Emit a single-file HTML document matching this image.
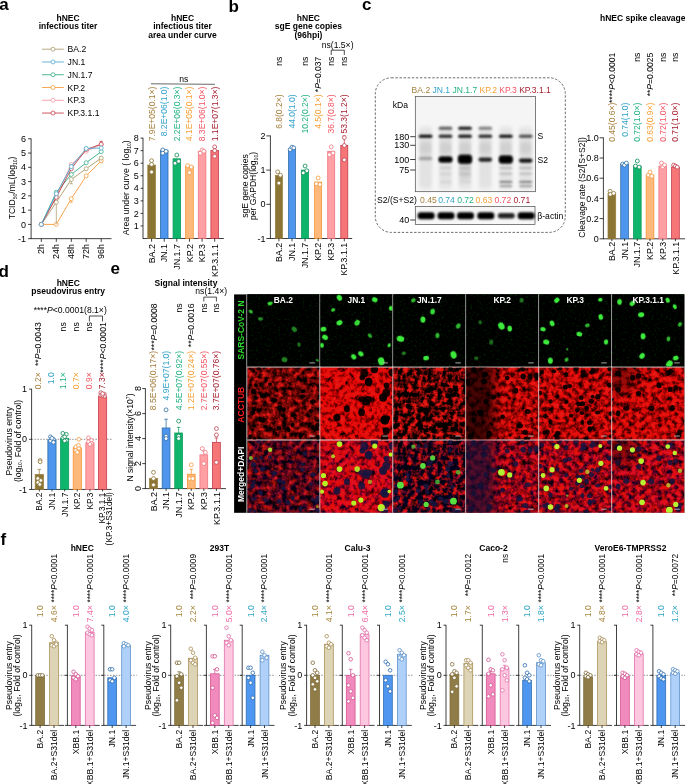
<!DOCTYPE html>
<html><head><meta charset="utf-8"><style>
html,body{margin:0;padding:0;background:#fff;overflow:hidden;}
svg text{font-family:"Liberation Sans", sans-serif;}
</style></head><body>
<svg width="685" height="784" viewBox="0 0 685 784" style="display:block;will-change:transform">
<text transform="translate(-0.80 9.70) scale(1 1.0)" font-size="17" fill="#000" text-anchor="start" font-weight="bold">a</text>
<text transform="translate(228.60 12.20) scale(1 1.0)" font-size="17" fill="#000" text-anchor="start" font-weight="bold">b</text>
<text transform="translate(362.00 10.00) scale(1 1.0)" font-size="17" fill="#000" text-anchor="start" font-weight="bold">c</text>
<text transform="translate(-1.60 276.70) scale(1 1.0)" font-size="17" fill="#000" text-anchor="start" font-weight="bold">d</text>
<text transform="translate(110.60 273.70) scale(1 1.0)" font-size="17" fill="#000" text-anchor="start" font-weight="bold">e</text>
<text transform="translate(0.40 544.70) scale(1 1.0)" font-size="17" fill="#000" text-anchor="start" font-weight="bold">f</text>
<text transform="translate(68.00 20.77) scale(1 1.0)" font-size="8.5" fill="#000" text-anchor="middle" font-weight="bold">hNEC</text>
<text transform="translate(68.00 29.38) scale(1 1.0)" font-size="8.5" fill="#000" text-anchor="middle" font-weight="bold">infectious titer</text>
<text transform="translate(182.50 20.77) scale(1 1.0)" font-size="8.5" fill="#000" text-anchor="middle" font-weight="bold">hNEC</text>
<text transform="translate(182.50 29.38) scale(1 1.0)" font-size="8.5" fill="#000" text-anchor="middle" font-weight="bold">infectious titer</text>
<text transform="translate(182.50 37.98) scale(1 1.0)" font-size="8.5" fill="#000" text-anchor="middle" font-weight="bold">area under curve</text>
<line x1="42.00" y1="49.20" x2="63.80" y2="49.20" stroke="#aa9a68" stroke-width="0.85"/>
<circle cx="53.00" cy="49.20" r="2.00" fill="#fff" stroke="#aa9a68" stroke-width="0.75"/>
<text transform="translate(67.60 52.21) scale(1 1.0)" font-size="8.6" fill="#000" text-anchor="start">BA.2</text>
<line x1="42.00" y1="61.97" x2="63.80" y2="61.97" stroke="#4ea8d2" stroke-width="0.85"/>
<circle cx="53.00" cy="61.97" r="2.00" fill="#fff" stroke="#4ea8d2" stroke-width="0.75"/>
<text transform="translate(67.60 64.98) scale(1 1.0)" font-size="8.6" fill="#000" text-anchor="start">JN.1</text>
<line x1="42.00" y1="74.74" x2="63.80" y2="74.74" stroke="#2eaa84" stroke-width="0.85"/>
<circle cx="53.00" cy="74.74" r="2.00" fill="#fff" stroke="#2eaa84" stroke-width="0.75"/>
<text transform="translate(67.60 77.75) scale(1 1.0)" font-size="8.6" fill="#000" text-anchor="start">JN.1.7</text>
<line x1="42.00" y1="87.51" x2="63.80" y2="87.51" stroke="#f59b38" stroke-width="0.85"/>
<circle cx="53.00" cy="87.51" r="2.00" fill="#fff" stroke="#f59b38" stroke-width="0.75"/>
<text transform="translate(67.60 90.52) scale(1 1.0)" font-size="8.6" fill="#000" text-anchor="start">KP.2</text>
<line x1="42.00" y1="100.28" x2="63.80" y2="100.28" stroke="#f3959d" stroke-width="0.85"/>
<circle cx="53.00" cy="100.28" r="2.00" fill="#fff" stroke="#f3959d" stroke-width="0.75"/>
<text transform="translate(67.60 103.29) scale(1 1.0)" font-size="8.6" fill="#000" text-anchor="start">KP.3</text>
<line x1="42.00" y1="113.05" x2="63.80" y2="113.05" stroke="#c23a42" stroke-width="0.85"/>
<circle cx="53.00" cy="113.05" r="2.00" fill="#fff" stroke="#c23a42" stroke-width="0.75"/>
<text transform="translate(67.60 116.06) scale(1 1.0)" font-size="8.6" fill="#000" text-anchor="start">KP.3.1.1</text>
<line x1="31.10" y1="138.43" x2="31.10" y2="239.02" stroke="#000" stroke-width="0.75"/>
<line x1="28.10" y1="238.67" x2="31.10" y2="238.67" stroke="#000" stroke-width="0.75"/>
<text transform="translate(26.10 241.82) scale(1 1.0)" font-size="9.0" fill="#000" text-anchor="end">-1</text>
<line x1="28.10" y1="224.40" x2="31.10" y2="224.40" stroke="#000" stroke-width="0.75"/>
<text transform="translate(26.10 227.55) scale(1 1.0)" font-size="9.0" fill="#000" text-anchor="end">0</text>
<line x1="28.10" y1="210.13" x2="31.10" y2="210.13" stroke="#000" stroke-width="0.75"/>
<text transform="translate(26.10 213.28) scale(1 1.0)" font-size="9.0" fill="#000" text-anchor="end">1</text>
<line x1="28.10" y1="195.86" x2="31.10" y2="195.86" stroke="#000" stroke-width="0.75"/>
<text transform="translate(26.10 199.01) scale(1 1.0)" font-size="9.0" fill="#000" text-anchor="end">2</text>
<line x1="28.10" y1="181.59" x2="31.10" y2="181.59" stroke="#000" stroke-width="0.75"/>
<text transform="translate(26.10 184.74) scale(1 1.0)" font-size="9.0" fill="#000" text-anchor="end">3</text>
<line x1="28.10" y1="167.32" x2="31.10" y2="167.32" stroke="#000" stroke-width="0.75"/>
<text transform="translate(26.10 170.47) scale(1 1.0)" font-size="9.0" fill="#000" text-anchor="end">4</text>
<line x1="28.10" y1="153.05" x2="31.10" y2="153.05" stroke="#000" stroke-width="0.75"/>
<text transform="translate(26.10 156.20) scale(1 1.0)" font-size="9.0" fill="#000" text-anchor="end">5</text>
<line x1="28.10" y1="138.78" x2="31.10" y2="138.78" stroke="#000" stroke-width="0.75"/>
<text transform="translate(26.10 141.93) scale(1 1.0)" font-size="9.0" fill="#000" text-anchor="end">6</text>
<line x1="31.10" y1="238.67" x2="111.50" y2="238.67" stroke="#000" stroke-width="0.75"/>
<line x1="41.30" y1="238.67" x2="41.30" y2="241.87" stroke="#000" stroke-width="0.75"/>
<text transform="translate(44.41 244.07) rotate(-90) scale(1 1.0)" font-size="8.9" fill="#000" text-anchor="end">2h</text>
<line x1="56.30" y1="238.67" x2="56.30" y2="241.87" stroke="#000" stroke-width="0.75"/>
<text transform="translate(59.41 244.07) rotate(-90) scale(1 1.0)" font-size="8.9" fill="#000" text-anchor="end">24h</text>
<line x1="71.30" y1="238.67" x2="71.30" y2="241.87" stroke="#000" stroke-width="0.75"/>
<text transform="translate(74.41 244.07) rotate(-90) scale(1 1.0)" font-size="8.9" fill="#000" text-anchor="end">48h</text>
<line x1="86.20" y1="238.67" x2="86.20" y2="241.87" stroke="#000" stroke-width="0.75"/>
<text transform="translate(89.31 244.07) rotate(-90) scale(1 1.0)" font-size="8.9" fill="#000" text-anchor="end">72h</text>
<line x1="101.20" y1="238.67" x2="101.20" y2="241.87" stroke="#000" stroke-width="0.75"/>
<text transform="translate(104.31 244.07) rotate(-90) scale(1 1.0)" font-size="8.9" fill="#000" text-anchor="end">96h</text>
<text transform="translate(15.31 188.00) rotate(-90) scale(1 1.0)" font-size="8.6" fill="#000" text-anchor="middle">TCID<tspan font-size="5" dy="1.6">50</tspan><tspan dy="-1.6">/mL(log<tspan font-size="5" dy="1.6">10</tspan><tspan dy="-1.6">)</tspan></tspan></text>
<path d="M41.30,224.40 L56.30,224.40 L71.30,198.71 L86.20,175.88 L101.20,160.90" stroke="#f59b38" stroke-width="0.9" fill="none"/>
<line x1="71.30" y1="198.71" x2="71.30" y2="202.28" stroke="#f59b38" stroke-width="0.75"/>
<line x1="69.70" y1="202.28" x2="72.90" y2="202.28" stroke="#f59b38" stroke-width="0.75"/>
<line x1="101.20" y1="160.90" x2="101.20" y2="162.61" stroke="#f59b38" stroke-width="0.75"/>
<line x1="99.60" y1="162.61" x2="102.80" y2="162.61" stroke="#f59b38" stroke-width="0.75"/>
<circle cx="41.30" cy="224.40" r="2.00" fill="#fff" stroke="#f59b38" stroke-width="0.75"/>
<circle cx="56.30" cy="224.40" r="2.00" fill="#fff" stroke="#f59b38" stroke-width="0.75"/>
<circle cx="71.30" cy="198.71" r="2.00" fill="#fff" stroke="#f59b38" stroke-width="0.75"/>
<circle cx="86.20" cy="175.88" r="2.00" fill="#fff" stroke="#f59b38" stroke-width="0.75"/>
<circle cx="101.20" cy="160.90" r="2.00" fill="#fff" stroke="#f59b38" stroke-width="0.75"/>
<path d="M41.30,224.40 L56.30,202.28 L71.30,179.45 L86.20,168.75 L101.20,158.04" stroke="#aa9a68" stroke-width="0.9" fill="none"/>
<line x1="56.30" y1="202.28" x2="56.30" y2="224.40" stroke="#aa9a68" stroke-width="0.75"/>
<line x1="71.30" y1="179.45" x2="71.30" y2="183.73" stroke="#aa9a68" stroke-width="0.75"/>
<line x1="69.70" y1="183.73" x2="72.90" y2="183.73" stroke="#aa9a68" stroke-width="0.75"/>
<line x1="101.20" y1="158.04" x2="101.20" y2="159.47" stroke="#aa9a68" stroke-width="0.75"/>
<line x1="99.60" y1="159.47" x2="102.80" y2="159.47" stroke="#aa9a68" stroke-width="0.75"/>
<line x1="101.20" y1="158.04" x2="101.20" y2="156.62" stroke="#aa9a68" stroke-width="0.75"/>
<line x1="99.60" y1="156.62" x2="102.80" y2="156.62" stroke="#aa9a68" stroke-width="0.75"/>
<circle cx="41.30" cy="224.40" r="2.00" fill="#fff" stroke="#aa9a68" stroke-width="0.75"/>
<circle cx="56.30" cy="202.28" r="2.00" fill="#fff" stroke="#aa9a68" stroke-width="0.75"/>
<circle cx="71.30" cy="179.45" r="2.00" fill="#fff" stroke="#aa9a68" stroke-width="0.75"/>
<circle cx="86.20" cy="168.75" r="2.00" fill="#fff" stroke="#aa9a68" stroke-width="0.75"/>
<circle cx="101.20" cy="158.04" r="2.00" fill="#fff" stroke="#aa9a68" stroke-width="0.75"/>
<path d="M41.30,224.40 L56.30,192.29 L71.30,174.46 L86.20,162.75 L101.20,151.62" stroke="#2eaa84" stroke-width="0.9" fill="none"/>
<circle cx="41.30" cy="224.40" r="2.00" fill="#fff" stroke="#2eaa84" stroke-width="0.75"/>
<circle cx="56.30" cy="192.29" r="2.00" fill="#fff" stroke="#2eaa84" stroke-width="0.75"/>
<circle cx="71.30" cy="174.46" r="2.00" fill="#fff" stroke="#2eaa84" stroke-width="0.75"/>
<circle cx="86.20" cy="162.75" r="2.00" fill="#fff" stroke="#2eaa84" stroke-width="0.75"/>
<circle cx="101.20" cy="151.62" r="2.00" fill="#fff" stroke="#2eaa84" stroke-width="0.75"/>
<path d="M41.30,224.40 L56.30,195.86 L71.30,164.47 L86.20,151.34 L101.20,144.49" stroke="#f3959d" stroke-width="0.9" fill="none"/>
<circle cx="41.30" cy="224.40" r="2.00" fill="#fff" stroke="#f3959d" stroke-width="0.75"/>
<circle cx="56.30" cy="195.86" r="2.00" fill="#fff" stroke="#f3959d" stroke-width="0.75"/>
<circle cx="71.30" cy="164.47" r="2.00" fill="#fff" stroke="#f3959d" stroke-width="0.75"/>
<circle cx="86.20" cy="151.34" r="2.00" fill="#fff" stroke="#f3959d" stroke-width="0.75"/>
<circle cx="101.20" cy="144.49" r="2.00" fill="#fff" stroke="#f3959d" stroke-width="0.75"/>
<path d="M41.30,224.40 L56.30,197.29 L71.30,168.75 L86.20,149.48 L101.20,144.20" stroke="#c23a42" stroke-width="0.9" fill="none"/>
<line x1="101.20" y1="144.20" x2="101.20" y2="141.35" stroke="#c23a42" stroke-width="0.75"/>
<line x1="99.60" y1="141.35" x2="102.80" y2="141.35" stroke="#c23a42" stroke-width="0.75"/>
<circle cx="41.30" cy="224.40" r="2.00" fill="#fff" stroke="#c23a42" stroke-width="0.75"/>
<circle cx="56.30" cy="197.29" r="2.00" fill="#fff" stroke="#c23a42" stroke-width="0.75"/>
<circle cx="71.30" cy="168.75" r="2.00" fill="#fff" stroke="#c23a42" stroke-width="0.75"/>
<circle cx="86.20" cy="149.48" r="2.00" fill="#fff" stroke="#c23a42" stroke-width="0.75"/>
<circle cx="101.20" cy="144.20" r="2.00" fill="#fff" stroke="#c23a42" stroke-width="0.75"/>
<path d="M41.30,224.40 L56.30,193.72 L71.30,166.61 L86.20,148.48 L101.20,148.06" stroke="#4ea8d2" stroke-width="0.9" fill="none"/>
<line x1="71.30" y1="166.61" x2="71.30" y2="164.47" stroke="#4ea8d2" stroke-width="0.75"/>
<line x1="69.70" y1="164.47" x2="72.90" y2="164.47" stroke="#4ea8d2" stroke-width="0.75"/>
<line x1="86.20" y1="148.48" x2="86.20" y2="147.06" stroke="#4ea8d2" stroke-width="0.75"/>
<line x1="84.60" y1="147.06" x2="87.80" y2="147.06" stroke="#4ea8d2" stroke-width="0.75"/>
<circle cx="41.30" cy="224.40" r="2.00" fill="#fff" stroke="#4ea8d2" stroke-width="0.75"/>
<circle cx="56.30" cy="193.72" r="2.00" fill="#fff" stroke="#4ea8d2" stroke-width="0.75"/>
<circle cx="71.30" cy="166.61" r="2.00" fill="#fff" stroke="#4ea8d2" stroke-width="0.75"/>
<circle cx="86.20" cy="148.48" r="2.00" fill="#fff" stroke="#4ea8d2" stroke-width="0.75"/>
<circle cx="101.20" cy="148.06" r="2.00" fill="#fff" stroke="#4ea8d2" stroke-width="0.75"/>
<line x1="143.00" y1="137.75" x2="143.00" y2="238.85" stroke="#000" stroke-width="0.75"/>
<line x1="140.60" y1="225.95" x2="143.00" y2="225.95" stroke="#000" stroke-width="0.75"/>
<text transform="translate(138.80 229.10) scale(1 1.0)" font-size="9.0" fill="#000" text-anchor="end">1</text>
<line x1="140.60" y1="213.40" x2="143.00" y2="213.40" stroke="#000" stroke-width="0.75"/>
<text transform="translate(138.80 216.55) scale(1 1.0)" font-size="9.0" fill="#000" text-anchor="end">2</text>
<line x1="140.60" y1="200.85" x2="143.00" y2="200.85" stroke="#000" stroke-width="0.75"/>
<text transform="translate(138.80 204.00) scale(1 1.0)" font-size="9.0" fill="#000" text-anchor="end">3</text>
<line x1="140.60" y1="188.30" x2="143.00" y2="188.30" stroke="#000" stroke-width="0.75"/>
<text transform="translate(138.80 191.45) scale(1 1.0)" font-size="9.0" fill="#000" text-anchor="end">4</text>
<line x1="140.60" y1="175.75" x2="143.00" y2="175.75" stroke="#000" stroke-width="0.75"/>
<text transform="translate(138.80 178.90) scale(1 1.0)" font-size="9.0" fill="#000" text-anchor="end">5</text>
<line x1="140.60" y1="163.20" x2="143.00" y2="163.20" stroke="#000" stroke-width="0.75"/>
<text transform="translate(138.80 166.35) scale(1 1.0)" font-size="9.0" fill="#000" text-anchor="end">6</text>
<line x1="140.60" y1="150.65" x2="143.00" y2="150.65" stroke="#000" stroke-width="0.75"/>
<text transform="translate(138.80 153.80) scale(1 1.0)" font-size="9.0" fill="#000" text-anchor="end">7</text>
<line x1="140.60" y1="138.10" x2="143.00" y2="138.10" stroke="#000" stroke-width="0.75"/>
<text transform="translate(138.80 141.25) scale(1 1.0)" font-size="9.0" fill="#000" text-anchor="end">8</text>
<line x1="143.00" y1="238.50" x2="223.80" y2="238.50" stroke="#000" stroke-width="0.75"/>
<rect x="147.80" y="165.08" width="7.60" height="73.42" fill="#8b7535" stroke="#9a7d3c" stroke-width="0.75"/>
<circle cx="151.60" cy="160.69" r="1.95" fill="#fff" stroke="#8b7535" stroke-width="0.8"/>
<circle cx="151.60" cy="164.45" r="1.95" fill="#fff" stroke="#8b7535" stroke-width="0.8"/>
<circle cx="151.60" cy="171.99" r="1.95" fill="#fff" stroke="#8b7535" stroke-width="0.8"/>
<line x1="151.60" y1="238.50" x2="151.60" y2="241.70" stroke="#000" stroke-width="0.75"/>
<text transform="translate(154.72 244.10) rotate(-90) scale(1 1.0)" font-size="8.9" fill="#000" text-anchor="end">BA.2</text>
<text transform="translate(154.59 86.60) rotate(-90) scale(1 1.0)" font-size="8.55" fill="#a67f3c" text-anchor="end">7.9E+05(0.1×)</text>
<rect x="160.42" y="150.65" width="7.60" height="87.85" fill="#4e95ee" stroke="#2a6aa2" stroke-width="0.75"/>
<circle cx="162.72" cy="150.02" r="1.95" fill="#fff" stroke="#2f6fa8" stroke-width="0.8"/>
<circle cx="162.72" cy="153.16" r="1.95" fill="#fff" stroke="#2f6fa8" stroke-width="0.8"/>
<circle cx="166.02" cy="151.28" r="1.95" fill="#fff" stroke="#2f6fa8" stroke-width="0.8"/>
<line x1="164.22" y1="238.50" x2="164.22" y2="241.70" stroke="#000" stroke-width="0.75"/>
<text transform="translate(167.34 244.10) rotate(-90) scale(1 1.0)" font-size="8.9" fill="#000" text-anchor="end">JN.1</text>
<text transform="translate(167.21 86.60) rotate(-90) scale(1 1.0)" font-size="8.55" fill="#30a2c8" text-anchor="end">8.2E+06(1.0)</text>
<rect x="173.04" y="158.81" width="7.60" height="79.69" fill="#10b56c" stroke="#0a9a5a" stroke-width="0.75"/>
<circle cx="176.84" cy="155.04" r="1.95" fill="#fff" stroke="#0d8a55" stroke-width="0.8"/>
<circle cx="175.04" cy="163.20" r="1.95" fill="#fff" stroke="#0d8a55" stroke-width="0.8"/>
<circle cx="178.64" cy="161.32" r="1.95" fill="#fff" stroke="#0d8a55" stroke-width="0.8"/>
<line x1="176.84" y1="238.50" x2="176.84" y2="241.70" stroke="#000" stroke-width="0.75"/>
<text transform="translate(179.96 244.10) rotate(-90) scale(1 1.0)" font-size="8.9" fill="#000" text-anchor="end">JN.1.7</text>
<text transform="translate(179.83 86.60) rotate(-90) scale(1 1.0)" font-size="8.55" fill="#22b282" text-anchor="end">2.2E+06(0.3×)</text>
<rect x="185.66" y="166.34" width="7.60" height="72.16" fill="#fdb97c" stroke="#f5922c" stroke-width="0.75"/>
<circle cx="187.66" cy="165.71" r="1.95" fill="#fff" stroke="#f5993f" stroke-width="0.8"/>
<circle cx="191.26" cy="166.96" r="1.95" fill="#fff" stroke="#f5993f" stroke-width="0.8"/>
<circle cx="189.46" cy="172.61" r="1.95" fill="#fff" stroke="#f5993f" stroke-width="0.8"/>
<line x1="189.46" y1="238.50" x2="189.46" y2="241.70" stroke="#000" stroke-width="0.75"/>
<text transform="translate(192.57 244.10) rotate(-90) scale(1 1.0)" font-size="8.9" fill="#000" text-anchor="end">KP.2</text>
<text transform="translate(192.45 86.60) rotate(-90) scale(1 1.0)" font-size="8.55" fill="#f7a036" text-anchor="end">4.1E+05(0.1×)</text>
<rect x="198.28" y="151.28" width="7.60" height="87.22" fill="#fea0a4" stroke="#f0707c" stroke-width="0.75"/>
<circle cx="200.28" cy="153.16" r="1.95" fill="#fff" stroke="#f07880" stroke-width="0.8"/>
<circle cx="202.08" cy="150.02" r="1.95" fill="#fff" stroke="#f07880" stroke-width="0.8"/>
<circle cx="203.88" cy="151.28" r="1.95" fill="#fff" stroke="#f07880" stroke-width="0.8"/>
<line x1="202.08" y1="238.50" x2="202.08" y2="241.70" stroke="#000" stroke-width="0.75"/>
<text transform="translate(205.19 244.10) rotate(-90) scale(1 1.0)" font-size="8.9" fill="#000" text-anchor="end">KP.3</text>
<text transform="translate(205.07 86.60) rotate(-90) scale(1 1.0)" font-size="8.55" fill="#f25563" text-anchor="end">8.3E+06(1.0×)</text>
<rect x="210.90" y="150.40" width="7.60" height="88.10" fill="#f67678" stroke="#c03444" stroke-width="0.75"/>
<circle cx="214.70" cy="146.88" r="1.95" fill="#fff" stroke="#c24452" stroke-width="0.8"/>
<circle cx="214.70" cy="150.65" r="1.95" fill="#fff" stroke="#c24452" stroke-width="0.8"/>
<circle cx="214.70" cy="156.30" r="1.95" fill="#fff" stroke="#c24452" stroke-width="0.8"/>
<line x1="214.70" y1="238.50" x2="214.70" y2="241.70" stroke="#000" stroke-width="0.75"/>
<text transform="translate(217.81 244.10) rotate(-90) scale(1 1.0)" font-size="8.9" fill="#000" text-anchor="end">KP.3.1.1</text>
<text transform="translate(217.69 86.60) rotate(-90) scale(1 1.0)" font-size="8.55" fill="#a82232" text-anchor="end">1.1E+07(1.3×)</text>
<text transform="translate(183.80 81.81) scale(1 1.0)" font-size="8.6" fill="#000" text-anchor="middle">ns</text>
<line x1="151.00" y1="83.80" x2="215.00" y2="84.30" stroke="#000" stroke-width="0.6"/>
<text transform="translate(129.06 187.80) rotate(-90) scale(1 1.0)" font-size="8.75" fill="#000" text-anchor="middle">Area under curve ( log<tspan font-size="5" dy="1.6">10</tspan><tspan dy="-1.6">)</tspan></text>
<text transform="translate(308.40 20.77) scale(1 1.0)" font-size="8.5" fill="#000" text-anchor="middle" font-weight="bold">hNEC</text>
<text transform="translate(308.40 29.27) scale(1 1.0)" font-size="8.5" fill="#000" text-anchor="middle" font-weight="bold">sgE gene copies</text>
<text transform="translate(308.40 37.77) scale(1 1.0)" font-size="8.5" fill="#000" text-anchor="middle" font-weight="bold">(96hpi)</text>
<line x1="270.40" y1="135.55" x2="270.40" y2="238.85" stroke="#000" stroke-width="0.75"/>
<line x1="266.40" y1="135.90" x2="270.40" y2="135.90" stroke="#000" stroke-width="0.75"/>
<text transform="translate(265.50 139.05) scale(1 1.0)" font-size="9.0" fill="#000" text-anchor="end">2</text>
<line x1="266.40" y1="170.10" x2="270.40" y2="170.10" stroke="#000" stroke-width="0.75"/>
<text transform="translate(265.50 173.25) scale(1 1.0)" font-size="9.0" fill="#000" text-anchor="end">1</text>
<line x1="266.40" y1="204.30" x2="270.40" y2="204.30" stroke="#000" stroke-width="0.75"/>
<text transform="translate(265.50 207.45) scale(1 1.0)" font-size="9.0" fill="#000" text-anchor="end">0</text>
<line x1="266.40" y1="238.50" x2="270.40" y2="238.50" stroke="#000" stroke-width="0.75"/>
<text transform="translate(265.50 241.65) scale(1 1.0)" font-size="9.0" fill="#000" text-anchor="end">-1</text>
<line x1="270.40" y1="238.50" x2="352.20" y2="238.50" stroke="#000" stroke-width="0.75"/>
<rect x="275.40" y="175.40" width="7.00" height="63.10" fill="#8b7535" stroke="#9a7d3c" stroke-width="0.75"/>
<circle cx="277.70" cy="171.81" r="1.95" fill="#fff" stroke="#8b7535" stroke-width="0.8"/>
<circle cx="280.40" cy="175.23" r="1.95" fill="#fff" stroke="#8b7535" stroke-width="0.8"/>
<circle cx="278.90" cy="183.10" r="1.95" fill="#fff" stroke="#8b7535" stroke-width="0.8"/>
<line x1="278.90" y1="238.50" x2="278.90" y2="241.30" stroke="#000" stroke-width="0.75"/>
<text transform="translate(282.01 242.70) rotate(-90) scale(1 1.0)" font-size="8.9" fill="#000" text-anchor="end">BA.2</text>
<text transform="translate(281.89 94.40) rotate(-90) scale(1 1.0)" font-size="8.55" fill="#a67f3c" text-anchor="end">6.8(0.2×)</text>
<rect x="288.48" y="148.90" width="7.00" height="89.60" fill="#4e95ee" stroke="#2a6aa2" stroke-width="0.75"/>
<circle cx="290.18" cy="149.58" r="1.95" fill="#fff" stroke="#2f6fa8" stroke-width="0.8"/>
<circle cx="291.98" cy="147.19" r="1.95" fill="#fff" stroke="#2f6fa8" stroke-width="0.8"/>
<circle cx="293.78" cy="147.87" r="1.95" fill="#fff" stroke="#2f6fa8" stroke-width="0.8"/>
<line x1="291.98" y1="238.50" x2="291.98" y2="241.30" stroke="#000" stroke-width="0.75"/>
<text transform="translate(295.09 242.70) rotate(-90) scale(1 1.0)" font-size="8.9" fill="#000" text-anchor="end">JN.1</text>
<text transform="translate(294.97 94.40) rotate(-90) scale(1 1.0)" font-size="8.55" fill="#30a2c8" text-anchor="end">44.0(1.0)</text>
<rect x="301.56" y="170.10" width="7.00" height="68.40" fill="#10b56c" stroke="#0a9a5a" stroke-width="0.75"/>
<circle cx="305.06" cy="166.00" r="1.95" fill="#fff" stroke="#0d8a55" stroke-width="0.8"/>
<circle cx="303.26" cy="172.84" r="1.95" fill="#fff" stroke="#0d8a55" stroke-width="0.8"/>
<circle cx="306.86" cy="170.78" r="1.95" fill="#fff" stroke="#0d8a55" stroke-width="0.8"/>
<line x1="305.06" y1="238.50" x2="305.06" y2="241.30" stroke="#000" stroke-width="0.75"/>
<text transform="translate(308.18 242.70) rotate(-90) scale(1 1.0)" font-size="8.9" fill="#000" text-anchor="end">JN.1.7</text>
<text transform="translate(308.05 94.40) rotate(-90) scale(1 1.0)" font-size="8.55" fill="#22b282" text-anchor="end">10.2(0.2×)</text>
<rect x="314.64" y="182.07" width="7.00" height="56.43" fill="#fdb97c" stroke="#f5922c" stroke-width="0.75"/>
<circle cx="318.14" cy="177.97" r="1.95" fill="#fff" stroke="#f5993f" stroke-width="0.8"/>
<circle cx="316.34" cy="183.78" r="1.95" fill="#fff" stroke="#f5993f" stroke-width="0.8"/>
<circle cx="319.94" cy="184.46" r="1.95" fill="#fff" stroke="#f5993f" stroke-width="0.8"/>
<line x1="318.14" y1="238.50" x2="318.14" y2="241.30" stroke="#000" stroke-width="0.75"/>
<text transform="translate(321.25 242.70) rotate(-90) scale(1 1.0)" font-size="8.9" fill="#000" text-anchor="end">KP.2</text>
<text transform="translate(321.13 94.40) rotate(-90) scale(1 1.0)" font-size="8.55" fill="#f7a036" text-anchor="end">4.5(0.1×)</text>
<rect x="327.72" y="151.29" width="7.00" height="87.21" fill="#fea0a4" stroke="#f0707c" stroke-width="0.75"/>
<circle cx="331.22" cy="146.84" r="1.95" fill="#fff" stroke="#f07880" stroke-width="0.8"/>
<circle cx="329.42" cy="154.71" r="1.95" fill="#fff" stroke="#f07880" stroke-width="0.8"/>
<circle cx="333.02" cy="153.00" r="1.95" fill="#fff" stroke="#f07880" stroke-width="0.8"/>
<line x1="331.22" y1="238.50" x2="331.22" y2="241.30" stroke="#000" stroke-width="0.75"/>
<text transform="translate(334.33 242.70) rotate(-90) scale(1 1.0)" font-size="8.9" fill="#000" text-anchor="end">KP.3</text>
<text transform="translate(334.21 94.40) rotate(-90) scale(1 1.0)" font-size="8.55" fill="#f25563" text-anchor="end">36.7(0.8×)</text>
<line x1="344.30" y1="145.48" x2="344.30" y2="135.90" stroke="#c03444" stroke-width="0.75"/>
<line x1="342.70" y1="135.90" x2="345.90" y2="135.90" stroke="#c03444" stroke-width="0.75"/>
<rect x="340.80" y="145.48" width="7.00" height="93.02" fill="#f67678" stroke="#c03444" stroke-width="0.75"/>
<circle cx="344.30" cy="137.61" r="1.95" fill="#fff" stroke="#c24452" stroke-width="0.8"/>
<circle cx="344.30" cy="145.48" r="1.95" fill="#fff" stroke="#c24452" stroke-width="0.8"/>
<circle cx="344.30" cy="159.84" r="1.95" fill="#fff" stroke="#c24452" stroke-width="0.8"/>
<line x1="344.30" y1="238.50" x2="344.30" y2="241.30" stroke="#000" stroke-width="0.75"/>
<text transform="translate(347.41 242.70) rotate(-90) scale(1 1.0)" font-size="8.9" fill="#000" text-anchor="end">KP.3.1.1</text>
<text transform="translate(347.29 94.40) rotate(-90) scale(1 1.0)" font-size="8.55" fill="#a82232" text-anchor="end">53.3(1.2×)</text>
<text transform="translate(281.91 56.60) rotate(-90) scale(1 1.0)" font-size="8.6" fill="#000" text-anchor="end">ns</text>
<text transform="translate(308.07 56.60) rotate(-90) scale(1 1.0)" font-size="8.6" fill="#000" text-anchor="end">ns</text>
<text transform="translate(334.23 56.60) rotate(-90) scale(1 1.0)" font-size="8.6" fill="#000" text-anchor="end">ns</text>
<text transform="translate(347.31 56.60) rotate(-90) scale(1 1.0)" font-size="8.6" fill="#000" text-anchor="end">ns</text>
<text transform="translate(321.15 56.60) rotate(-90) scale(1 1.0)" font-size="8.6" fill="#000" text-anchor="end">*<tspan font-style="italic">P</tspan>=0.037</text>
<text transform="translate(337.60 48.31) scale(1 1.0)" font-size="8.6" fill="#000" text-anchor="middle">ns(1.5×)</text>
<path d="M331.22,55 V50.2 H344.30 V55" stroke="#000" stroke-width="0.7" fill="none"/>
<text transform="translate(247.81 186.00) rotate(-90) scale(1 1.0)" font-size="8.6" fill="#000" text-anchor="middle">sgE gene copies</text>
<text transform="translate(256.21 186.00) rotate(-90) scale(1 1.0)" font-size="8.6" fill="#000" text-anchor="middle">per GAPDH(log<tspan font-size="5" dy="1.6">10</tspan><tspan dy="-1.6">)</tspan></text>
<rect x="375.3" y="77.8" width="190.0" height="154.6" rx="16" ry="16" fill="none" stroke="#3a3a3a" stroke-width="0.75" stroke-dasharray="2.4,1.7"/>
<text transform="translate(411.60 93.29) scale(1 1.0)" font-size="8.55" fill="#000" text-anchor="start"><tspan fill="#a67f3c">BA.2</tspan> <tspan fill="#30a2c8">JN.1</tspan> <tspan fill="#22b282">JN.1.7</tspan> <tspan fill="#f7a036">KP.2</tspan> <tspan fill="#f25563">KP.3</tspan> <tspan fill="#a82232">KP.3.1.1</tspan></text>
<text transform="translate(408.00 107.51) scale(1 1.0)" font-size="8.6" fill="#000" text-anchor="end">kDa</text>
<defs><filter id="bl" x="-30%" y="-100%" width="160%" height="300%"><feGaussianBlur stdDeviation="1.2 0.85"/></filter><filter id="bl2" x="-30%" y="-30%" width="160%" height="160%"><feGaussianBlur stdDeviation="1.8 2.5"/></filter></defs>
<rect x="415.30" y="96.50" width="120.30" height="95.20" fill="#f5f5f5" stroke="#4a4a4a" stroke-width="0.7"/>
<rect x="419.10" y="127.00" width="13.00" height="62.00" rx="3.00" fill="#000" opacity="0.07" filter="url(#bl2)"/>
<rect x="419.60" y="142.00" width="12.00" height="12.00" rx="3.00" fill="#000" opacity="0.08" filter="url(#bl2)"/>
<rect x="439.00" y="127.00" width="13.00" height="62.00" rx="3.00" fill="#000" opacity="0.07" filter="url(#bl2)"/>
<rect x="439.50" y="142.00" width="12.00" height="12.00" rx="3.00" fill="#000" opacity="0.08" filter="url(#bl2)"/>
<rect x="458.50" y="127.00" width="13.00" height="62.00" rx="3.00" fill="#000" opacity="0.07" filter="url(#bl2)"/>
<rect x="459.00" y="142.00" width="12.00" height="12.00" rx="3.00" fill="#000" opacity="0.08" filter="url(#bl2)"/>
<rect x="478.80" y="127.00" width="13.00" height="62.00" rx="3.00" fill="#000" opacity="0.07" filter="url(#bl2)"/>
<rect x="479.30" y="142.00" width="12.00" height="12.00" rx="3.00" fill="#000" opacity="0.08" filter="url(#bl2)"/>
<rect x="499.30" y="127.00" width="13.00" height="62.00" rx="3.00" fill="#000" opacity="0.07" filter="url(#bl2)"/>
<rect x="499.80" y="142.00" width="12.00" height="12.00" rx="3.00" fill="#000" opacity="0.08" filter="url(#bl2)"/>
<rect x="519.20" y="127.00" width="13.00" height="62.00" rx="3.00" fill="#000" opacity="0.07" filter="url(#bl2)"/>
<rect x="519.70" y="142.00" width="12.00" height="12.00" rx="3.00" fill="#000" opacity="0.08" filter="url(#bl2)"/>
<rect x="459.00" y="165.00" width="12.00" height="14.00" rx="3.00" fill="#000" opacity="0.08" filter="url(#bl2)"/>
<rect x="418.80" y="134.80" width="13.60" height="3.00" rx="1.50" fill="#000" opacity="0.97" filter="url(#bl)"/>
<rect x="438.70" y="126.70" width="13.60" height="3.00" rx="1.50" fill="#000" opacity="0.6" filter="url(#bl)"/>
<rect x="438.70" y="134.80" width="13.60" height="3.00" rx="1.50" fill="#000" opacity="0.85" filter="url(#bl)"/>
<rect x="458.20" y="126.70" width="13.60" height="3.00" rx="1.50" fill="#000" opacity="0.9" filter="url(#bl)"/>
<rect x="458.20" y="134.80" width="13.60" height="3.00" rx="1.50" fill="#000" opacity="0.92" filter="url(#bl)"/>
<rect x="478.50" y="126.70" width="13.60" height="3.00" rx="1.50" fill="#000" opacity="0.45" filter="url(#bl)"/>
<rect x="478.50" y="134.80" width="13.60" height="3.00" rx="1.50" fill="#000" opacity="0.85" filter="url(#bl)"/>
<rect x="499.00" y="134.80" width="13.60" height="3.00" rx="1.50" fill="#000" opacity="0.95" filter="url(#bl)"/>
<rect x="518.90" y="134.80" width="13.60" height="3.00" rx="1.50" fill="#000" opacity="0.68" filter="url(#bl)"/>
<rect x="418.85" y="156.75" width="13.50" height="3.50" rx="1.75" fill="#000" opacity="0.28" filter="url(#bl)"/>
<rect x="438.75" y="156.90" width="13.50" height="5.00" rx="2.50" fill="#000" opacity="1.0" filter="url(#bl)"/>
<rect x="438.60" y="155.90" width="13.80" height="7.00" rx="3.00" fill="#000" opacity="0.5" filter="url(#bl)"/>
<rect x="458.25" y="155.30" width="13.50" height="8.00" rx="3.00" fill="#000" opacity="1.0" filter="url(#bl)"/>
<rect x="458.10" y="154.30" width="13.80" height="10.00" rx="3.00" fill="#000" opacity="0.5" filter="url(#bl)"/>
<rect x="478.55" y="157.50" width="13.50" height="4.20" rx="2.10" fill="#000" opacity="0.85" filter="url(#bl)"/>
<rect x="499.05" y="155.90" width="13.50" height="7.00" rx="3.00" fill="#000" opacity="1.0" filter="url(#bl)"/>
<rect x="498.90" y="154.90" width="13.80" height="9.00" rx="3.00" fill="#000" opacity="0.5" filter="url(#bl)"/>
<rect x="518.95" y="158.50" width="13.50" height="4.20" rx="2.10" fill="#000" opacity="0.9" filter="url(#bl)"/>
<rect x="499.30" y="167.20" width="13.00" height="1.60" rx="0.80" fill="#000" opacity="0.25" filter="url(#bl)"/>
<rect x="499.30" y="172.90" width="13.00" height="1.60" rx="0.80" fill="#000" opacity="0.22" filter="url(#bl)"/>
<rect x="499.30" y="181.10" width="13.00" height="1.60" rx="0.80" fill="#000" opacity="0.5" filter="url(#bl)"/>
<rect x="499.30" y="185.30" width="13.00" height="1.60" rx="0.80" fill="#000" opacity="0.35" filter="url(#bl)"/>
<rect x="519.20" y="167.20" width="13.00" height="1.60" rx="0.80" fill="#000" opacity="0.25" filter="url(#bl)"/>
<rect x="519.20" y="172.90" width="13.00" height="1.60" rx="0.80" fill="#000" opacity="0.22" filter="url(#bl)"/>
<rect x="519.20" y="181.10" width="13.00" height="1.60" rx="0.80" fill="#000" opacity="0.5" filter="url(#bl)"/>
<rect x="519.20" y="185.30" width="13.00" height="1.60" rx="0.80" fill="#000" opacity="0.35" filter="url(#bl)"/>
<rect x="439.50" y="167.00" width="12.00" height="2.00" rx="1.00" fill="#000" opacity="0.1" filter="url(#bl)"/>
<rect x="439.50" y="173.00" width="12.00" height="2.00" rx="1.00" fill="#000" opacity="0.08" filter="url(#bl)"/>
<rect x="439.50" y="181.00" width="12.00" height="2.00" rx="1.00" fill="#000" opacity="0.06" filter="url(#bl)"/>
<rect x="459.00" y="167.00" width="12.00" height="2.00" rx="1.00" fill="#000" opacity="0.1" filter="url(#bl)"/>
<rect x="459.00" y="173.00" width="12.00" height="2.00" rx="1.00" fill="#000" opacity="0.08" filter="url(#bl)"/>
<rect x="459.00" y="181.00" width="12.00" height="2.00" rx="1.00" fill="#000" opacity="0.06" filter="url(#bl)"/>
<line x1="410.20" y1="136.70" x2="415.30" y2="136.70" stroke="#000" stroke-width="0.75"/>
<text transform="translate(409.20 139.85) scale(1 1.0)" font-size="9.0" fill="#000" text-anchor="end">180</text>
<line x1="410.20" y1="145.30" x2="415.30" y2="145.30" stroke="#000" stroke-width="0.75"/>
<text transform="translate(409.20 148.45) scale(1 1.0)" font-size="9.0" fill="#000" text-anchor="end">130</text>
<line x1="410.20" y1="159.50" x2="415.30" y2="159.50" stroke="#000" stroke-width="0.75"/>
<text transform="translate(409.20 162.65) scale(1 1.0)" font-size="9.0" fill="#000" text-anchor="end">100</text>
<line x1="410.20" y1="170.00" x2="415.30" y2="170.00" stroke="#000" stroke-width="0.75"/>
<text transform="translate(409.20 173.15) scale(1 1.0)" font-size="9.0" fill="#000" text-anchor="end">75</text>
<text transform="translate(537.60 139.41) scale(1 1.0)" font-size="8.6" fill="#000" text-anchor="start">S</text>
<text transform="translate(537.60 162.61) scale(1 1.0)" font-size="8.6" fill="#000" text-anchor="start">S2</text>
<text transform="translate(377.00 202.61) scale(1 1.0)" font-size="8.6" fill="#000" text-anchor="start">S2/(S+S2)</text>
<text transform="translate(428.40 202.61) scale(1 1.0)" font-size="8.6" fill="#a67f3c" text-anchor="middle">0.45</text>
<text transform="translate(446.50 202.61) scale(1 1.0)" font-size="8.6" fill="#30a2c8" text-anchor="middle">0.74</text>
<text transform="translate(465.50 202.61) scale(1 1.0)" font-size="8.6" fill="#22b282" text-anchor="middle">0.72</text>
<text transform="translate(483.90 202.61) scale(1 1.0)" font-size="8.6" fill="#f7a036" text-anchor="middle">0.63</text>
<text transform="translate(502.80 202.61) scale(1 1.0)" font-size="8.6" fill="#f25563" text-anchor="middle">0.72</text>
<text transform="translate(521.80 202.61) scale(1 1.0)" font-size="8.6" fill="#a82232" text-anchor="middle">0.71</text>
<rect x="415.30" y="206.60" width="119.70" height="17.90" fill="#f7f7f7" stroke="#4a4a4a" stroke-width="0.7"/>
<rect x="417.60" y="212.20" width="17.00" height="7.00" rx="3.00" fill="#000" opacity="1.0" filter="url(#bl)"/>
<rect x="437.50" y="212.20" width="17.00" height="7.00" rx="3.00" fill="#000" opacity="1.0" filter="url(#bl)"/>
<rect x="457.00" y="212.20" width="17.00" height="7.00" rx="3.00" fill="#000" opacity="1.0" filter="url(#bl)"/>
<rect x="477.30" y="212.20" width="17.00" height="7.00" rx="3.00" fill="#000" opacity="1.0" filter="url(#bl)"/>
<rect x="497.80" y="212.95" width="17.00" height="5.50" rx="2.75" fill="#000" opacity="0.85" filter="url(#bl)"/>
<rect x="517.70" y="212.20" width="17.00" height="7.00" rx="3.00" fill="#000" opacity="1.0" filter="url(#bl)"/>
<line x1="410.20" y1="220.00" x2="415.30" y2="220.00" stroke="#000" stroke-width="0.75"/>
<text transform="translate(409.20 223.15) scale(1 1.0)" font-size="9.0" fill="#000" text-anchor="end">40</text>
<text transform="translate(537.30 218.71) scale(1 1.0)" font-size="8.6" fill="#000" text-anchor="start">β-actin</text>
<text transform="translate(600.00 20.77) scale(1 1.0)" font-size="8.5" fill="#000" text-anchor="start" font-weight="bold">hNEC spike cleavage</text>
<line x1="603.40" y1="137.45" x2="603.40" y2="239.15" stroke="#000" stroke-width="0.75"/>
<line x1="599.60" y1="238.80" x2="603.40" y2="238.80" stroke="#000" stroke-width="0.75"/>
<text transform="translate(598.70 241.95) scale(1 1.0)" font-size="9.0" fill="#000" text-anchor="end">0</text>
<line x1="599.60" y1="218.60" x2="603.40" y2="218.60" stroke="#000" stroke-width="0.75"/>
<text transform="translate(598.70 221.75) scale(1 1.0)" font-size="9.0" fill="#000" text-anchor="end">0.2</text>
<line x1="599.60" y1="198.40" x2="603.40" y2="198.40" stroke="#000" stroke-width="0.75"/>
<text transform="translate(598.70 201.55) scale(1 1.0)" font-size="9.0" fill="#000" text-anchor="end">0.4</text>
<line x1="599.60" y1="178.20" x2="603.40" y2="178.20" stroke="#000" stroke-width="0.75"/>
<text transform="translate(598.70 181.35) scale(1 1.0)" font-size="9.0" fill="#000" text-anchor="end">0.6</text>
<line x1="599.60" y1="158.00" x2="603.40" y2="158.00" stroke="#000" stroke-width="0.75"/>
<text transform="translate(598.70 161.15) scale(1 1.0)" font-size="9.0" fill="#000" text-anchor="end">0.8</text>
<line x1="599.60" y1="137.80" x2="603.40" y2="137.80" stroke="#000" stroke-width="0.75"/>
<text transform="translate(598.70 140.95) scale(1 1.0)" font-size="9.0" fill="#000" text-anchor="end">1.0</text>
<line x1="603.40" y1="238.80" x2="686.00" y2="238.80" stroke="#000" stroke-width="0.75"/>
<rect x="608.00" y="193.35" width="7.70" height="45.45" fill="#8b7535" stroke="#9a7d3c" stroke-width="0.75"/>
<circle cx="610.05" cy="191.33" r="1.95" fill="#fff" stroke="#8b7535" stroke-width="0.8"/>
<circle cx="610.35" cy="194.36" r="1.95" fill="#fff" stroke="#8b7535" stroke-width="0.8"/>
<circle cx="613.65" cy="193.35" r="1.95" fill="#fff" stroke="#8b7535" stroke-width="0.8"/>
<line x1="611.85" y1="238.80" x2="611.85" y2="241.10" stroke="#000" stroke-width="0.75"/>
<text transform="translate(614.97 241.80) rotate(-90) scale(1 1.0)" font-size="8.9" fill="#000" text-anchor="end">BA.2</text>
<text transform="translate(614.84 102.60) rotate(-90) scale(1 1.0)" font-size="8.55" fill="#a67f3c" text-anchor="end">0.45(0.6×)</text>
<rect x="620.72" y="164.06" width="7.70" height="74.74" fill="#4e95ee" stroke="#2a6aa2" stroke-width="0.75"/>
<circle cx="622.77" cy="164.06" r="1.95" fill="#fff" stroke="#2f6fa8" stroke-width="0.8"/>
<circle cx="624.57" cy="165.07" r="1.95" fill="#fff" stroke="#2f6fa8" stroke-width="0.8"/>
<circle cx="626.37" cy="163.05" r="1.95" fill="#fff" stroke="#2f6fa8" stroke-width="0.8"/>
<line x1="624.57" y1="238.80" x2="624.57" y2="241.10" stroke="#000" stroke-width="0.75"/>
<text transform="translate(627.69 241.80) rotate(-90) scale(1 1.0)" font-size="8.9" fill="#000" text-anchor="end">JN.1</text>
<text transform="translate(627.56 102.60) rotate(-90) scale(1 1.0)" font-size="8.55" fill="#30a2c8" text-anchor="end">0.74(1.0)</text>
<rect x="633.44" y="166.08" width="7.70" height="72.72" fill="#10b56c" stroke="#0a9a5a" stroke-width="0.75"/>
<circle cx="635.49" cy="166.08" r="1.95" fill="#fff" stroke="#0d8a55" stroke-width="0.8"/>
<circle cx="637.29" cy="161.03" r="1.95" fill="#fff" stroke="#0d8a55" stroke-width="0.8"/>
<circle cx="639.09" cy="167.09" r="1.95" fill="#fff" stroke="#0d8a55" stroke-width="0.8"/>
<line x1="637.29" y1="238.80" x2="637.29" y2="241.10" stroke="#000" stroke-width="0.75"/>
<text transform="translate(640.41 241.80) rotate(-90) scale(1 1.0)" font-size="8.9" fill="#000" text-anchor="end">JN.1.7</text>
<text transform="translate(640.28 102.60) rotate(-90) scale(1 1.0)" font-size="8.55" fill="#22b282" text-anchor="end">0.72(1.0×)</text>
<rect x="646.16" y="175.17" width="7.70" height="63.63" fill="#fdb97c" stroke="#f5922c" stroke-width="0.75"/>
<circle cx="648.21" cy="175.17" r="1.95" fill="#fff" stroke="#f5993f" stroke-width="0.8"/>
<circle cx="650.01" cy="172.14" r="1.95" fill="#fff" stroke="#f5993f" stroke-width="0.8"/>
<circle cx="651.81" cy="176.18" r="1.95" fill="#fff" stroke="#f5993f" stroke-width="0.8"/>
<line x1="650.01" y1="238.80" x2="650.01" y2="241.10" stroke="#000" stroke-width="0.75"/>
<text transform="translate(653.12 241.80) rotate(-90) scale(1 1.0)" font-size="8.9" fill="#000" text-anchor="end">KP.2</text>
<text transform="translate(653.00 102.60) rotate(-90) scale(1 1.0)" font-size="8.55" fill="#f7a036" text-anchor="end">0.63(0.9×)</text>
<rect x="658.88" y="166.08" width="7.70" height="72.72" fill="#fea0a4" stroke="#f0707c" stroke-width="0.75"/>
<circle cx="661.53" cy="163.05" r="1.95" fill="#fff" stroke="#f07880" stroke-width="0.8"/>
<circle cx="662.73" cy="167.09" r="1.95" fill="#fff" stroke="#f07880" stroke-width="0.8"/>
<circle cx="664.53" cy="165.07" r="1.95" fill="#fff" stroke="#f07880" stroke-width="0.8"/>
<line x1="662.73" y1="238.80" x2="662.73" y2="241.10" stroke="#000" stroke-width="0.75"/>
<text transform="translate(665.85 241.80) rotate(-90) scale(1 1.0)" font-size="8.9" fill="#000" text-anchor="end">KP.3</text>
<text transform="translate(665.72 102.60) rotate(-90) scale(1 1.0)" font-size="8.55" fill="#f25563" text-anchor="end">0.72(1.0×)</text>
<rect x="671.60" y="167.09" width="7.70" height="71.71" fill="#f67678" stroke="#c03444" stroke-width="0.75"/>
<circle cx="673.65" cy="165.07" r="1.95" fill="#fff" stroke="#c24452" stroke-width="0.8"/>
<circle cx="675.45" cy="166.08" r="1.95" fill="#fff" stroke="#c24452" stroke-width="0.8"/>
<circle cx="677.25" cy="167.09" r="1.95" fill="#fff" stroke="#c24452" stroke-width="0.8"/>
<line x1="675.45" y1="238.80" x2="675.45" y2="241.10" stroke="#000" stroke-width="0.75"/>
<text transform="translate(678.57 241.80) rotate(-90) scale(1 1.0)" font-size="8.9" fill="#000" text-anchor="end">KP.3.1.1</text>
<text transform="translate(678.44 102.60) rotate(-90) scale(1 1.0)" font-size="8.55" fill="#a82232" text-anchor="end">0.71(1.0×)</text>
<text transform="translate(614.86 52.60) rotate(-90) scale(1 1.0)" font-size="8.6" fill="#000" text-anchor="end">****<tspan font-style="italic">P</tspan>&lt;0.0001</text>
<text transform="translate(653.02 52.60) rotate(-90) scale(1 1.0)" font-size="8.6" fill="#000" text-anchor="end">**<tspan font-style="italic">P</tspan>=0.0025</text>
<text transform="translate(640.30 52.60) rotate(-90) scale(1 1.0)" font-size="8.6" fill="#000" text-anchor="end">ns</text>
<text transform="translate(665.74 52.60) rotate(-90) scale(1 1.0)" font-size="8.6" fill="#000" text-anchor="end">ns</text>
<text transform="translate(678.46 52.60) rotate(-90) scale(1 1.0)" font-size="8.6" fill="#000" text-anchor="end">ns</text>
<text transform="translate(585.01 187.50) rotate(-90) scale(1 1.0)" font-size="8.6" fill="#000" text-anchor="middle">Cleavage rate (S2/[S+S2])</text>
<text transform="translate(68.20 285.68) scale(1 1.0)" font-size="8.5" fill="#000" text-anchor="middle" font-weight="bold">hNEC</text>
<text transform="translate(68.20 294.38) scale(1 1.0)" font-size="8.5" fill="#000" text-anchor="middle" font-weight="bold">pseudovirus entry</text>
<text transform="translate(70.20 313.01) scale(1 1.0)" font-size="8.6" fill="#000" text-anchor="middle">****<tspan font-style="italic">P</tspan>&lt;0.0001(8.1×)</text>
<line x1="31.60" y1="388.80" x2="31.60" y2="489.80" stroke="#000" stroke-width="0.75"/>
<line x1="29.10" y1="389.15" x2="31.60" y2="389.15" stroke="#000" stroke-width="0.75"/>
<text transform="translate(27.10 392.30) scale(1 1.0)" font-size="9.0" fill="#000" text-anchor="end">1</text>
<line x1="29.10" y1="439.30" x2="31.60" y2="439.30" stroke="#000" stroke-width="0.75"/>
<text transform="translate(27.10 442.45) scale(1 1.0)" font-size="9.0" fill="#000" text-anchor="end">0</text>
<line x1="29.10" y1="489.45" x2="31.60" y2="489.45" stroke="#000" stroke-width="0.75"/>
<text transform="translate(27.10 492.60) scale(1 1.0)" font-size="9.0" fill="#000" text-anchor="end">-1</text>
<line x1="31.60" y1="489.45" x2="111.50" y2="489.45" stroke="#000" stroke-width="0.75"/>
<line x1="31.60" y1="439.30" x2="112.00" y2="439.30" stroke="#444" stroke-width="0.55" stroke-dasharray="1.6,1.3"/>
<line x1="39.30" y1="474.41" x2="39.30" y2="469.39" stroke="#9a7d3c" stroke-width="0.75"/>
<line x1="37.50" y1="469.39" x2="41.10" y2="469.39" stroke="#9a7d3c" stroke-width="0.75"/>
<rect x="35.20" y="474.41" width="8.20" height="15.04" fill="#8b7535" stroke="#9a7d3c" stroke-width="0.75"/>
<circle cx="40.10" cy="460.36" r="1.85" fill="#fff" stroke="#8b7535" stroke-width="0.8"/>
<circle cx="40.10" cy="461.87" r="1.85" fill="#fff" stroke="#8b7535" stroke-width="0.8"/>
<circle cx="37.80" cy="478.42" r="1.85" fill="#fff" stroke="#8b7535" stroke-width="0.8"/>
<circle cx="40.80" cy="480.42" r="1.85" fill="#fff" stroke="#8b7535" stroke-width="0.8"/>
<circle cx="37.80" cy="482.43" r="1.85" fill="#fff" stroke="#8b7535" stroke-width="0.8"/>
<circle cx="39.80" cy="484.44" r="1.85" fill="#fff" stroke="#8b7535" stroke-width="0.8"/>
<line x1="39.30" y1="489.45" x2="39.30" y2="491.45" stroke="#000" stroke-width="0.75"/>
<text transform="translate(42.20 492.65) rotate(-90) scale(1 1.0)" font-size="8.3" fill="#000" text-anchor="end">BA.2</text>
<text transform="translate(40.89 372.30) rotate(-90) scale(1 1.0)" font-size="8.55" fill="#a67f3c" text-anchor="end">0.2×</text>
<rect x="47.86" y="439.80" width="8.20" height="49.65" fill="#4e95ee" stroke="#2a6aa2" stroke-width="0.75"/>
<circle cx="50.46" cy="436.79" r="1.85" fill="#fff" stroke="#2f6fa8" stroke-width="0.8"/>
<circle cx="53.46" cy="439.30" r="1.85" fill="#fff" stroke="#2f6fa8" stroke-width="0.8"/>
<circle cx="50.46" cy="440.80" r="1.85" fill="#fff" stroke="#2f6fa8" stroke-width="0.8"/>
<circle cx="53.46" cy="442.31" r="1.85" fill="#fff" stroke="#2f6fa8" stroke-width="0.8"/>
<circle cx="51.96" cy="438.30" r="1.85" fill="#fff" stroke="#2f6fa8" stroke-width="0.8"/>
<line x1="51.96" y1="489.45" x2="51.96" y2="491.45" stroke="#000" stroke-width="0.75"/>
<text transform="translate(54.86 492.65) rotate(-90) scale(1 1.0)" font-size="8.3" fill="#000" text-anchor="end">JN.1</text>
<text transform="translate(53.59 372.30) rotate(-90) scale(1 1.0)" font-size="8.55" fill="#30a2c8" text-anchor="end">1.0</text>
<rect x="60.52" y="438.30" width="8.20" height="51.15" fill="#10b56c" stroke="#0a9a5a" stroke-width="0.75"/>
<circle cx="62.82" cy="433.28" r="1.85" fill="#fff" stroke="#0d8a55" stroke-width="0.8"/>
<circle cx="66.42" cy="434.29" r="1.85" fill="#fff" stroke="#0d8a55" stroke-width="0.8"/>
<circle cx="62.82" cy="437.80" r="1.85" fill="#fff" stroke="#0d8a55" stroke-width="0.8"/>
<circle cx="66.42" cy="440.30" r="1.85" fill="#fff" stroke="#0d8a55" stroke-width="0.8"/>
<circle cx="64.62" cy="436.79" r="1.85" fill="#fff" stroke="#0d8a55" stroke-width="0.8"/>
<circle cx="64.62" cy="440.80" r="1.85" fill="#fff" stroke="#0d8a55" stroke-width="0.8"/>
<line x1="64.62" y1="489.45" x2="64.62" y2="491.45" stroke="#000" stroke-width="0.75"/>
<text transform="translate(67.53 492.65) rotate(-90) scale(1 1.0)" font-size="8.3" fill="#000" text-anchor="end">JN.1.7</text>
<text transform="translate(66.19 372.30) rotate(-90) scale(1 1.0)" font-size="8.55" fill="#22b282" text-anchor="end">1.1×</text>
<rect x="73.18" y="447.83" width="8.20" height="41.62" fill="#fdb97c" stroke="#f5922c" stroke-width="0.75"/>
<circle cx="78.78" cy="439.30" r="1.85" fill="#fff" stroke="#f5993f" stroke-width="0.8"/>
<circle cx="75.78" cy="446.82" r="1.85" fill="#fff" stroke="#f5993f" stroke-width="0.8"/>
<circle cx="78.78" cy="448.33" r="1.85" fill="#fff" stroke="#f5993f" stroke-width="0.8"/>
<circle cx="75.78" cy="450.33" r="1.85" fill="#fff" stroke="#f5993f" stroke-width="0.8"/>
<circle cx="77.28" cy="452.34" r="1.85" fill="#fff" stroke="#f5993f" stroke-width="0.8"/>
<circle cx="78.48" cy="445.32" r="1.85" fill="#fff" stroke="#f5993f" stroke-width="0.8"/>
<line x1="77.28" y1="489.45" x2="77.28" y2="491.45" stroke="#000" stroke-width="0.75"/>
<text transform="translate(80.19 492.65) rotate(-90) scale(1 1.0)" font-size="8.3" fill="#000" text-anchor="end">KP.2</text>
<text transform="translate(79.19 372.30) rotate(-90) scale(1 1.0)" font-size="8.55" fill="#f7a036" text-anchor="end">0.7×</text>
<rect x="85.84" y="442.81" width="8.20" height="46.64" fill="#fea0a4" stroke="#f0707c" stroke-width="0.75"/>
<circle cx="88.44" cy="437.80" r="1.85" fill="#fff" stroke="#f07880" stroke-width="0.8"/>
<circle cx="91.44" cy="440.30" r="1.85" fill="#fff" stroke="#f07880" stroke-width="0.8"/>
<circle cx="88.44" cy="441.81" r="1.85" fill="#fff" stroke="#f07880" stroke-width="0.8"/>
<circle cx="91.44" cy="443.31" r="1.85" fill="#fff" stroke="#f07880" stroke-width="0.8"/>
<circle cx="89.94" cy="444.31" r="1.85" fill="#fff" stroke="#f07880" stroke-width="0.8"/>
<line x1="89.94" y1="489.45" x2="89.94" y2="491.45" stroke="#000" stroke-width="0.75"/>
<text transform="translate(92.84 492.65) rotate(-90) scale(1 1.0)" font-size="8.3" fill="#000" text-anchor="end">KP.3</text>
<text transform="translate(92.39 372.30) rotate(-90) scale(1 1.0)" font-size="8.55" fill="#f25563" text-anchor="end">0.9×</text>
<rect x="98.50" y="396.67" width="8.20" height="92.78" fill="#f67678" stroke="#c03444" stroke-width="0.75"/>
<circle cx="100.80" cy="392.66" r="1.85" fill="#fff" stroke="#c24452" stroke-width="0.8"/>
<circle cx="104.40" cy="394.17" r="1.85" fill="#fff" stroke="#c24452" stroke-width="0.8"/>
<circle cx="100.80" cy="395.17" r="1.85" fill="#fff" stroke="#c24452" stroke-width="0.8"/>
<circle cx="104.40" cy="396.17" r="1.85" fill="#fff" stroke="#c24452" stroke-width="0.8"/>
<circle cx="102.60" cy="395.17" r="1.85" fill="#fff" stroke="#c24452" stroke-width="0.8"/>
<circle cx="102.60" cy="393.66" r="1.85" fill="#fff" stroke="#c24452" stroke-width="0.8"/>
<line x1="102.60" y1="489.45" x2="102.60" y2="491.45" stroke="#000" stroke-width="0.75"/>
<text transform="translate(104.60 492.65) rotate(-90) scale(1 1.0)" font-size="8.3" fill="#000" text-anchor="end">KP.3.1.1</text>
<text transform="translate(105.49 372.30) rotate(-90) scale(1 1.0)" font-size="8.55" fill="#a82232" text-anchor="end">7.3×</text>
<text transform="translate(112.10 492.25) rotate(-90) scale(1 1.0)" font-size="8.3" fill="#000" text-anchor="end">(KP.3+S31del)</text>
<text transform="translate(40.91 322.30) rotate(-90) scale(1 1.0)" font-size="8.6" fill="#000" text-anchor="end">**<tspan font-style="italic">P</tspan>=0.0043</text>
<text transform="translate(66.21 322.30) rotate(-90) scale(1 1.0)" font-size="8.6" fill="#000" text-anchor="end">ns</text>
<text transform="translate(79.21 322.30) rotate(-90) scale(1 1.0)" font-size="8.6" fill="#000" text-anchor="end">ns</text>
<text transform="translate(92.41 322.30) rotate(-90) scale(1 1.0)" font-size="8.6" fill="#000" text-anchor="end">ns</text>
<text transform="translate(105.51 322.30) rotate(-90) scale(1 1.0)" font-size="8.6" fill="#000" text-anchor="end">****<tspan font-style="italic">P</tspan>&lt;0.0001</text>
<path d="M89.40,321.5 V316.0 H102.50 V321.5" stroke="#000" stroke-width="0.7" fill="none"/>
<text transform="translate(12.01 441.00) rotate(-90) scale(1 1.0)" font-size="8.6" fill="#000" text-anchor="middle">Pseudovirus entry</text>
<text transform="translate(20.61 441.00) rotate(-90) scale(1 1.0)" font-size="8.6" fill="#000" text-anchor="middle">(log<tspan font-size="5" dy="1.6">10</tspan><tspan dy="-1.6">, Fold of control)</tspan></text>
<text transform="translate(186.00 286.08) scale(1 1.0)" font-size="8.5" fill="#000" text-anchor="middle" font-weight="bold">Signal intensity</text>
<line x1="145.40" y1="388.25" x2="145.40" y2="488.95" stroke="#000" stroke-width="0.75"/>
<line x1="142.20" y1="488.60" x2="145.40" y2="488.60" stroke="#000" stroke-width="0.75"/>
<text transform="translate(140.85 488.60) rotate(-90) scale(1 1.0)" font-size="9.0" fill="#000" text-anchor="middle">0</text>
<line x1="142.20" y1="463.60" x2="145.40" y2="463.60" stroke="#000" stroke-width="0.75"/>
<text transform="translate(140.85 463.60) rotate(-90) scale(1 1.0)" font-size="9.0" fill="#000" text-anchor="middle">2</text>
<line x1="142.20" y1="438.60" x2="145.40" y2="438.60" stroke="#000" stroke-width="0.75"/>
<text transform="translate(140.85 438.60) rotate(-90) scale(1 1.0)" font-size="9.0" fill="#000" text-anchor="middle">4</text>
<line x1="142.20" y1="413.60" x2="145.40" y2="413.60" stroke="#000" stroke-width="0.75"/>
<text transform="translate(140.85 413.60) rotate(-90) scale(1 1.0)" font-size="9.0" fill="#000" text-anchor="middle">6</text>
<line x1="142.20" y1="388.60" x2="145.40" y2="388.60" stroke="#000" stroke-width="0.75"/>
<text transform="translate(140.85 388.60) rotate(-90) scale(1 1.0)" font-size="9.0" fill="#000" text-anchor="middle">8</text>
<line x1="145.40" y1="488.60" x2="225.90" y2="488.60" stroke="#000" stroke-width="0.75"/>
<rect x="149.60" y="478.60" width="7.80" height="10.00" fill="#8b7535" stroke="#9a7d3c" stroke-width="0.75"/>
<circle cx="153.50" cy="472.35" r="1.95" fill="#fff" stroke="#8b7535" stroke-width="0.8"/>
<circle cx="153.50" cy="478.60" r="1.95" fill="#fff" stroke="#8b7535" stroke-width="0.8"/>
<circle cx="153.50" cy="484.85" r="1.95" fill="#fff" stroke="#8b7535" stroke-width="0.8"/>
<line x1="153.50" y1="488.60" x2="153.50" y2="490.90" stroke="#000" stroke-width="0.75"/>
<text transform="translate(156.62 492.00) rotate(-90) scale(1 1.0)" font-size="8.9" fill="#000" text-anchor="end">BA.2</text>
<text transform="translate(156.49 350.80) rotate(-90) scale(1 1.0)" font-size="8.55" fill="#a67f3c" text-anchor="end">8.5E+06(0.17×)</text>
<line x1="166.08" y1="427.98" x2="166.08" y2="419.23" stroke="#2a6aa2" stroke-width="0.75"/>
<line x1="164.28" y1="419.23" x2="167.88" y2="419.23" stroke="#2a6aa2" stroke-width="0.75"/>
<rect x="162.18" y="427.98" width="7.80" height="60.62" fill="#4e95ee" stroke="#2a6aa2" stroke-width="0.75"/>
<circle cx="166.08" cy="409.85" r="1.95" fill="#fff" stroke="#2f6fa8" stroke-width="0.8"/>
<circle cx="166.08" cy="436.10" r="1.95" fill="#fff" stroke="#2f6fa8" stroke-width="0.8"/>
<circle cx="166.08" cy="438.60" r="1.95" fill="#fff" stroke="#2f6fa8" stroke-width="0.8"/>
<line x1="166.08" y1="488.60" x2="166.08" y2="490.90" stroke="#000" stroke-width="0.75"/>
<text transform="translate(169.20 492.00) rotate(-90) scale(1 1.0)" font-size="8.9" fill="#000" text-anchor="end">JN.1</text>
<text transform="translate(169.07 350.80) rotate(-90) scale(1 1.0)" font-size="8.55" fill="#30a2c8" text-anchor="end">4.9E+07(1.0)</text>
<line x1="178.66" y1="432.98" x2="178.66" y2="427.35" stroke="#0a9a5a" stroke-width="0.75"/>
<line x1="176.86" y1="427.35" x2="180.46" y2="427.35" stroke="#0a9a5a" stroke-width="0.75"/>
<rect x="174.76" y="432.98" width="7.80" height="55.62" fill="#10b56c" stroke="#0a9a5a" stroke-width="0.75"/>
<circle cx="178.66" cy="421.10" r="1.95" fill="#fff" stroke="#0d8a55" stroke-width="0.8"/>
<circle cx="178.66" cy="436.10" r="1.95" fill="#fff" stroke="#0d8a55" stroke-width="0.8"/>
<circle cx="178.66" cy="438.60" r="1.95" fill="#fff" stroke="#0d8a55" stroke-width="0.8"/>
<line x1="178.66" y1="488.60" x2="178.66" y2="490.90" stroke="#000" stroke-width="0.75"/>
<text transform="translate(181.78 492.00) rotate(-90) scale(1 1.0)" font-size="8.9" fill="#000" text-anchor="end">JN.1.7</text>
<text transform="translate(181.65 350.80) rotate(-90) scale(1 1.0)" font-size="8.55" fill="#22b282" text-anchor="end">4.5E+07(0.92×)</text>
<line x1="191.24" y1="474.23" x2="191.24" y2="469.23" stroke="#f5922c" stroke-width="0.75"/>
<line x1="189.44" y1="469.23" x2="193.04" y2="469.23" stroke="#f5922c" stroke-width="0.75"/>
<rect x="187.34" y="474.23" width="7.80" height="14.38" fill="#fdb97c" stroke="#f5922c" stroke-width="0.75"/>
<circle cx="191.24" cy="464.85" r="1.95" fill="#fff" stroke="#f5993f" stroke-width="0.8"/>
<circle cx="189.74" cy="478.60" r="1.95" fill="#fff" stroke="#f5993f" stroke-width="0.8"/>
<circle cx="192.74" cy="478.60" r="1.95" fill="#fff" stroke="#f5993f" stroke-width="0.8"/>
<line x1="191.24" y1="488.60" x2="191.24" y2="490.90" stroke="#000" stroke-width="0.75"/>
<text transform="translate(194.36 492.00) rotate(-90) scale(1 1.0)" font-size="8.9" fill="#000" text-anchor="end">KP.2</text>
<text transform="translate(194.23 350.80) rotate(-90) scale(1 1.0)" font-size="8.55" fill="#f7a036" text-anchor="end">1.2E+07(0.24×)</text>
<line x1="203.82" y1="454.85" x2="203.82" y2="451.10" stroke="#f0707c" stroke-width="0.75"/>
<line x1="202.02" y1="451.10" x2="205.62" y2="451.10" stroke="#f0707c" stroke-width="0.75"/>
<rect x="199.92" y="454.85" width="7.80" height="33.75" fill="#fea0a4" stroke="#f0707c" stroke-width="0.75"/>
<circle cx="202.32" cy="448.60" r="1.95" fill="#fff" stroke="#f07880" stroke-width="0.8"/>
<circle cx="205.32" cy="452.35" r="1.95" fill="#fff" stroke="#f07880" stroke-width="0.8"/>
<circle cx="203.82" cy="463.60" r="1.95" fill="#fff" stroke="#f07880" stroke-width="0.8"/>
<line x1="203.82" y1="488.60" x2="203.82" y2="490.90" stroke="#000" stroke-width="0.75"/>
<text transform="translate(206.94 492.00) rotate(-90) scale(1 1.0)" font-size="8.9" fill="#000" text-anchor="end">KP.3</text>
<text transform="translate(206.81 350.80) rotate(-90) scale(1 1.0)" font-size="8.55" fill="#f25563" text-anchor="end">2.7E+07(0.55×)</text>
<line x1="216.40" y1="442.35" x2="216.40" y2="437.98" stroke="#c03444" stroke-width="0.75"/>
<line x1="214.60" y1="437.98" x2="218.20" y2="437.98" stroke="#c03444" stroke-width="0.75"/>
<rect x="212.50" y="442.35" width="7.80" height="46.25" fill="#f67678" stroke="#c03444" stroke-width="0.75"/>
<circle cx="216.40" cy="428.60" r="1.95" fill="#fff" stroke="#c24452" stroke-width="0.8"/>
<circle cx="216.40" cy="434.85" r="1.95" fill="#fff" stroke="#c24452" stroke-width="0.8"/>
<circle cx="216.40" cy="462.35" r="1.95" fill="#fff" stroke="#c24452" stroke-width="0.8"/>
<line x1="216.40" y1="488.60" x2="216.40" y2="490.90" stroke="#000" stroke-width="0.75"/>
<text transform="translate(219.52 492.00) rotate(-90) scale(1 1.0)" font-size="8.9" fill="#000" text-anchor="end">KP.3.1.1</text>
<text transform="translate(219.39 350.80) rotate(-90) scale(1 1.0)" font-size="8.55" fill="#a82232" text-anchor="end">3.7E+07(0.76×)</text>
<text transform="translate(156.51 303.40) rotate(-90) scale(1 1.0)" font-size="8.6" fill="#000" text-anchor="end">***<tspan font-style="italic">P</tspan>=0.0008</text>
<text transform="translate(194.25 303.40) rotate(-90) scale(1 1.0)" font-size="8.6" fill="#000" text-anchor="end">**<tspan font-style="italic">P</tspan>=0.0016</text>
<text transform="translate(181.67 303.40) rotate(-90) scale(1 1.0)" font-size="8.6" fill="#000" text-anchor="end">ns</text>
<text transform="translate(206.83 303.40) rotate(-90) scale(1 1.0)" font-size="8.6" fill="#000" text-anchor="end">ns</text>
<text transform="translate(219.41 303.40) rotate(-90) scale(1 1.0)" font-size="8.6" fill="#000" text-anchor="end">ns</text>
<text transform="translate(211.20 294.41) scale(1 1.0)" font-size="8.6" fill="#000" text-anchor="middle">ns(1.4×)</text>
<path d="M203.82,301.5 V297.1 H216.40 V301.5" stroke="#000" stroke-width="0.7" fill="none"/>
<text transform="translate(133.01 437.50) rotate(-90) scale(1 1.0)" font-size="8.6" fill="#000" text-anchor="middle">N signal intensity(×10<tspan font-size="5" dy="-2.8">7</tspan><tspan dy="2.8">)</tspan></text>
<rect x="234.1" y="294.4" width="450.50" height="218.40" fill="#000"/>
<rect x="246.2" y="294.4" width="438.40" height="218.40" fill="#d8d8d8"/>
<rect x="246.2" y="294.4" width="1.1" height="218.40" fill="#707070"/>
<defs><filter id="gb" x="-50%" y="-50%" width="200%" height="200%"><feGaussianBlur stdDeviation="0.55"/></filter><filter id="hb" x="-50%" y="-50%" width="200%" height="200%"><feGaussianBlur stdDeviation="0.7"/></filter><filter id="big" x="-50%" y="-50%" width="200%" height="200%"><feGaussianBlur stdDeviation="6"/></filter><filter id="rt0" x="0" y="0" width="100%" height="100%" color-interpolation-filters="sRGB"><feTurbulence type="fractalNoise" baseFrequency="0.2" numOctaves="3" seed="3"/><feColorMatrix type="matrix" values="1.95 0 0 0 -0.5  0.25 0 0 0 -0.1  0.2 0 0 0 -0.08  0 0 0 0 1"/><feComponentTransfer><feFuncR type="linear" slope="0.9"/></feComponentTransfer></filter><filter id="mt0" x="0" y="0" width="100%" height="100%" color-interpolation-filters="sRGB"><feTurbulence type="fractalNoise" baseFrequency="0.2" numOctaves="3" seed="3"/><feColorMatrix type="matrix" values="1.85 0 0 0 -0.54  0.2 0 0 0 -0.08  0 0 0.25 0 -0.04  0 0 0 0 1"/><feComponentTransfer><feFuncR type="linear" slope="0.88"/></feComponentTransfer></filter><filter id="gt0" x="0" y="0" width="100%" height="100%" color-interpolation-filters="sRGB"><feTurbulence type="fractalNoise" baseFrequency="0.45" numOctaves="2" seed="80"/><feColorMatrix type="matrix" values="0 0 0 0 0  0.42 0 0 0 -0.23  0 0 0 0 0  0 0 0 0 1"/></filter><filter id="rt1" x="0" y="0" width="100%" height="100%" color-interpolation-filters="sRGB"><feTurbulence type="fractalNoise" baseFrequency="0.2" numOctaves="3" seed="10"/><feColorMatrix type="matrix" values="2.6 0 0 0 -0.35  0.25 0 0 0 -0.1  0.2 0 0 0 -0.08  0 0 0 0 1"/><feComponentTransfer><feFuncR type="linear" slope="0.9"/></feComponentTransfer></filter><filter id="mt1" x="0" y="0" width="100%" height="100%" color-interpolation-filters="sRGB"><feTurbulence type="fractalNoise" baseFrequency="0.2" numOctaves="3" seed="10"/><feColorMatrix type="matrix" values="2.47 0 0 0 -0.39  0.2 0 0 0 -0.08  0 0 0.25 0 -0.04  0 0 0 0 1"/><feComponentTransfer><feFuncR type="linear" slope="0.88"/></feComponentTransfer></filter><filter id="gt1" x="0" y="0" width="100%" height="100%" color-interpolation-filters="sRGB"><feTurbulence type="fractalNoise" baseFrequency="0.45" numOctaves="2" seed="87"/><feColorMatrix type="matrix" values="0 0 0 0 0  0.42 0 0 0 -0.23  0 0 0 0 0  0 0 0 0 1"/></filter><filter id="rt2" x="0" y="0" width="100%" height="100%" color-interpolation-filters="sRGB"><feTurbulence type="fractalNoise" baseFrequency="0.2" numOctaves="3" seed="17"/><feColorMatrix type="matrix" values="3.0 0 0 0 -1.1  0.25 0 0 0 -0.1  0.2 0 0 0 -0.08  0 0 0 0 1"/><feComponentTransfer><feFuncR type="linear" slope="0.9"/></feComponentTransfer></filter><filter id="mt2" x="0" y="0" width="100%" height="100%" color-interpolation-filters="sRGB"><feTurbulence type="fractalNoise" baseFrequency="0.2" numOctaves="3" seed="17"/><feColorMatrix type="matrix" values="2.85 0 0 0 -1.14  0.2 0 0 0 -0.08  0 0 0.25 0 -0.04  0 0 0 0 1"/><feComponentTransfer><feFuncR type="linear" slope="0.88"/></feComponentTransfer></filter><filter id="gt2" x="0" y="0" width="100%" height="100%" color-interpolation-filters="sRGB"><feTurbulence type="fractalNoise" baseFrequency="0.45" numOctaves="2" seed="94"/><feColorMatrix type="matrix" values="0 0 0 0 0  0.42 0 0 0 -0.23  0 0 0 0 0  0 0 0 0 1"/></filter><filter id="rt3" x="0" y="0" width="100%" height="100%" color-interpolation-filters="sRGB"><feTurbulence type="fractalNoise" baseFrequency="0.2" numOctaves="3" seed="24"/><feColorMatrix type="matrix" values="2.35 0 0 0 -0.42  0.25 0 0 0 -0.1  0.2 0 0 0 -0.08  0 0 0 0 1"/><feComponentTransfer><feFuncR type="linear" slope="0.9"/></feComponentTransfer></filter><filter id="mt3" x="0" y="0" width="100%" height="100%" color-interpolation-filters="sRGB"><feTurbulence type="fractalNoise" baseFrequency="0.2" numOctaves="3" seed="24"/><feColorMatrix type="matrix" values="2.23 0 0 0 -0.46  0.2 0 0 0 -0.08  0 0 0.25 0 -0.04  0 0 0 0 1"/><feComponentTransfer><feFuncR type="linear" slope="0.88"/></feComponentTransfer></filter><filter id="gt3" x="0" y="0" width="100%" height="100%" color-interpolation-filters="sRGB"><feTurbulence type="fractalNoise" baseFrequency="0.45" numOctaves="2" seed="101"/><feColorMatrix type="matrix" values="0 0 0 0 0  0.42 0 0 0 -0.23  0 0 0 0 0  0 0 0 0 1"/></filter><filter id="rt4" x="0" y="0" width="100%" height="100%" color-interpolation-filters="sRGB"><feTurbulence type="fractalNoise" baseFrequency="0.2" numOctaves="3" seed="31"/><feColorMatrix type="matrix" values="2.38 0 0 0 -0.41  0.25 0 0 0 -0.1  0.2 0 0 0 -0.08  0 0 0 0 1"/><feComponentTransfer><feFuncR type="linear" slope="0.9"/></feComponentTransfer></filter><filter id="mt4" x="0" y="0" width="100%" height="100%" color-interpolation-filters="sRGB"><feTurbulence type="fractalNoise" baseFrequency="0.2" numOctaves="3" seed="31"/><feColorMatrix type="matrix" values="2.26 0 0 0 -0.45  0.2 0 0 0 -0.08  0 0 0.25 0 -0.04  0 0 0 0 1"/><feComponentTransfer><feFuncR type="linear" slope="0.88"/></feComponentTransfer></filter><filter id="gt4" x="0" y="0" width="100%" height="100%" color-interpolation-filters="sRGB"><feTurbulence type="fractalNoise" baseFrequency="0.45" numOctaves="2" seed="108"/><feColorMatrix type="matrix" values="0 0 0 0 0  0.42 0 0 0 -0.23  0 0 0 0 0  0 0 0 0 1"/></filter><filter id="rt5" x="0" y="0" width="100%" height="100%" color-interpolation-filters="sRGB"><feTurbulence type="fractalNoise" baseFrequency="0.2" numOctaves="3" seed="38"/><feColorMatrix type="matrix" values="2.38 0 0 0 -0.38  0.25 0 0 0 -0.1  0.2 0 0 0 -0.08  0 0 0 0 1"/><feComponentTransfer><feFuncR type="linear" slope="0.9"/></feComponentTransfer></filter><filter id="mt5" x="0" y="0" width="100%" height="100%" color-interpolation-filters="sRGB"><feTurbulence type="fractalNoise" baseFrequency="0.2" numOctaves="3" seed="38"/><feColorMatrix type="matrix" values="2.26 0 0 0 -0.42  0.2 0 0 0 -0.08  0 0 0.25 0 -0.04  0 0 0 0 1"/><feComponentTransfer><feFuncR type="linear" slope="0.88"/></feComponentTransfer></filter><filter id="gt5" x="0" y="0" width="100%" height="100%" color-interpolation-filters="sRGB"><feTurbulence type="fractalNoise" baseFrequency="0.45" numOctaves="2" seed="115"/><feColorMatrix type="matrix" values="0 0 0 0 0  0.42 0 0 0 -0.23  0 0 0 0 0  0 0 0 0 1"/></filter></defs>
<svg x="247.30" y="294.30" width="72.1" height="72.1" overflow="hidden">
<rect width="72.1" height="72.1" fill="#000"/>
<rect width="72.1" height="72.1" filter="url(#gt0)"/>
<ellipse cx="22.8" cy="9.2" rx="2.5" ry="1.9" transform="rotate(165 22.8 9.2)" fill="rgb(56,217,56)" filter="url(#gb)"/>
<ellipse cx="3.5" cy="17.3" rx="2.2" ry="1.8" transform="rotate(37 3.5 17.3)" fill="rgb(48,182,48)" filter="url(#gb)"/>
<ellipse cx="13.2" cy="24.6" rx="2.5" ry="1.9" transform="rotate(3 13.2 24.6)" fill="rgb(38,138,38)" filter="url(#gb)"/>
<ellipse cx="47.0" cy="35.0" rx="2.9" ry="2.3" transform="rotate(48 47.0 35.0)" fill="rgb(36,130,36)" filter="url(#gb)"/>
<ellipse cx="51.7" cy="50.3" rx="2.2" ry="1.8" transform="rotate(80 51.7 50.3)" fill="rgb(32,112,32)" filter="url(#gb)"/>
<ellipse cx="37.2" cy="65.4" rx="2.9" ry="2.3" transform="rotate(11 37.2 65.4)" fill="rgb(36,130,36)" filter="url(#gb)"/>
<ellipse cx="70.0" cy="66.0" rx="1.7" ry="1.3" transform="rotate(32 70.0 66.0)" fill="rgb(40,147,40)" filter="url(#gb)"/>
</svg>
<svg x="247.30" y="367.45" width="72.1" height="72.1" overflow="hidden">
<rect width="72.1" height="72.1" filter="url(#rt0)"/>
<ellipse cx="32.6" cy="40.4" rx="2.7" ry="2.3" fill="#050000" opacity="0.88" filter="url(#hb)"/>
<ellipse cx="36.6" cy="42.4" rx="2.0" ry="2.3" fill="#050000" opacity="0.88" filter="url(#hb)"/>
<ellipse cx="45.4" cy="57.2" rx="1.9" ry="2.1" fill="#050000" opacity="0.88" filter="url(#hb)"/>
<ellipse cx="6.5" cy="58.4" rx="2.5" ry="1.8" fill="#050000" opacity="0.88" filter="url(#hb)"/>
<ellipse cx="70.8" cy="69.6" rx="2.5" ry="2.4" fill="#050000" opacity="0.88" filter="url(#hb)"/>
<ellipse cx="11.4" cy="1.1" rx="2.3" ry="1.9" fill="#050000" opacity="0.88" filter="url(#hb)"/>
<ellipse cx="13.7" cy="17.4" rx="1.8" ry="2.3" fill="#050000" opacity="0.88" filter="url(#hb)"/>
<ellipse cx="31.8" cy="60.7" rx="2.3" ry="2.4" fill="#050000" opacity="0.88" filter="url(#hb)"/>
<ellipse cx="36.0" cy="47.8" rx="2.3" ry="2.1" fill="#050000" opacity="0.88" filter="url(#hb)"/>
<ellipse cx="71.9" cy="71.8" rx="2.6" ry="2.5" fill="#050000" opacity="0.88" filter="url(#hb)"/>
<ellipse cx="22.7" cy="16.6" rx="2.1" ry="1.9" fill="#050000" opacity="0.88" filter="url(#hb)"/>
<ellipse cx="55.2" cy="28.9" rx="2.6" ry="2.2" fill="#050000" opacity="0.88" filter="url(#hb)"/>
<ellipse cx="69.1" cy="61.1" rx="1.8" ry="2.0" fill="#050000" opacity="0.88" filter="url(#hb)"/>
<ellipse cx="65.6" cy="33.9" rx="2.8" ry="2.2" fill="#050000" opacity="0.88" filter="url(#hb)"/>
<ellipse cx="5.3" cy="45.4" rx="2.6" ry="2.1" fill="#050000" opacity="0.88" filter="url(#hb)"/>
<ellipse cx="6.3" cy="24.0" rx="2.8" ry="2.6" fill="#050000" opacity="0.88" filter="url(#hb)"/>
<ellipse cx="8.5" cy="17.8" rx="1.9" ry="1.9" fill="#050000" opacity="0.88" filter="url(#hb)"/>
<ellipse cx="57.5" cy="12.8" rx="2.4" ry="2.2" fill="#050000" opacity="0.88" filter="url(#hb)"/>
<ellipse cx="13.7" cy="52.8" rx="1.9" ry="2.4" fill="#050000" opacity="0.88" filter="url(#hb)"/>
<ellipse cx="8.4" cy="30.3" rx="2.0" ry="2.1" fill="#050000" opacity="0.88" filter="url(#hb)"/>
<ellipse cx="70.0" cy="57.9" rx="2.1" ry="2.7" fill="#050000" opacity="0.88" filter="url(#hb)"/>
<ellipse cx="15.2" cy="28.4" rx="2.7" ry="2.4" fill="#050000" opacity="0.88" filter="url(#hb)"/>
<ellipse cx="7.2" cy="71.3" rx="2.0" ry="2.1" fill="#050000" opacity="0.88" filter="url(#hb)"/>
<ellipse cx="55.7" cy="23.7" rx="2.1" ry="1.9" fill="#050000" opacity="0.88" filter="url(#hb)"/>
<ellipse cx="6.5" cy="42.0" rx="2.0" ry="2.4" fill="#050000" opacity="0.88" filter="url(#hb)"/>
<ellipse cx="26.8" cy="32.7" rx="2.8" ry="2.3" fill="#050000" opacity="0.88" filter="url(#hb)"/>
<ellipse cx="41.4" cy="62.5" rx="2.0" ry="2.0" fill="#050000" opacity="0.88" filter="url(#hb)"/>
<ellipse cx="65.5" cy="59.0" rx="2.0" ry="2.0" fill="#050000" opacity="0.88" filter="url(#hb)"/>
<ellipse cx="53.3" cy="67.8" rx="2.0" ry="2.8" fill="#050000" opacity="0.88" filter="url(#hb)"/>
<ellipse cx="63.6" cy="43.5" rx="2.2" ry="1.9" fill="#050000" opacity="0.88" filter="url(#hb)"/>
<ellipse cx="2.8" cy="69.4" rx="2.0" ry="2.5" fill="#050000" opacity="0.88" filter="url(#hb)"/>
<ellipse cx="18.5" cy="59.4" rx="2.4" ry="2.1" fill="#050000" opacity="0.88" filter="url(#hb)"/>
<ellipse cx="12.6" cy="51.9" rx="1.9" ry="2.0" fill="#050000" opacity="0.88" filter="url(#hb)"/>
<ellipse cx="40.3" cy="61.5" rx="2.4" ry="2.1" fill="#050000" opacity="0.88" filter="url(#hb)"/>
</svg>
<svg x="247.30" y="440.60" width="72.1" height="72.1" overflow="hidden">
<rect width="72.1" height="72.1" filter="url(#mt0)"/>
<ellipse cx="32.6" cy="40.4" rx="2.7" ry="2.3" fill="#16143f" opacity="0.88" filter="url(#hb)"/>
<ellipse cx="36.6" cy="42.4" rx="2.0" ry="2.3" fill="#16143f" opacity="0.88" filter="url(#hb)"/>
<ellipse cx="45.4" cy="57.2" rx="1.9" ry="2.1" fill="#16143f" opacity="0.88" filter="url(#hb)"/>
<ellipse cx="6.5" cy="58.4" rx="2.5" ry="1.8" fill="#16143f" opacity="0.88" filter="url(#hb)"/>
<ellipse cx="70.8" cy="69.6" rx="2.5" ry="2.4" fill="#16143f" opacity="0.88" filter="url(#hb)"/>
<ellipse cx="11.4" cy="1.1" rx="2.3" ry="1.9" fill="#16143f" opacity="0.88" filter="url(#hb)"/>
<ellipse cx="13.7" cy="17.4" rx="1.8" ry="2.3" fill="#16143f" opacity="0.88" filter="url(#hb)"/>
<ellipse cx="31.8" cy="60.7" rx="2.3" ry="2.4" fill="#16143f" opacity="0.88" filter="url(#hb)"/>
<ellipse cx="36.0" cy="47.8" rx="2.3" ry="2.1" fill="#16143f" opacity="0.88" filter="url(#hb)"/>
<ellipse cx="71.9" cy="71.8" rx="2.6" ry="2.5" fill="#16143f" opacity="0.88" filter="url(#hb)"/>
<ellipse cx="22.7" cy="16.6" rx="2.1" ry="1.9" fill="#16143f" opacity="0.88" filter="url(#hb)"/>
<ellipse cx="55.2" cy="28.9" rx="2.6" ry="2.2" fill="#16143f" opacity="0.88" filter="url(#hb)"/>
<ellipse cx="69.1" cy="61.1" rx="1.8" ry="2.0" fill="#16143f" opacity="0.88" filter="url(#hb)"/>
<ellipse cx="65.6" cy="33.9" rx="2.8" ry="2.2" fill="#16143f" opacity="0.88" filter="url(#hb)"/>
<ellipse cx="5.3" cy="45.4" rx="2.6" ry="2.1" fill="#16143f" opacity="0.88" filter="url(#hb)"/>
<ellipse cx="6.3" cy="24.0" rx="2.8" ry="2.6" fill="#16143f" opacity="0.88" filter="url(#hb)"/>
<ellipse cx="8.5" cy="17.8" rx="1.9" ry="1.9" fill="#16143f" opacity="0.88" filter="url(#hb)"/>
<ellipse cx="57.5" cy="12.8" rx="2.4" ry="2.2" fill="#16143f" opacity="0.88" filter="url(#hb)"/>
<ellipse cx="13.7" cy="52.8" rx="1.9" ry="2.4" fill="#16143f" opacity="0.88" filter="url(#hb)"/>
<ellipse cx="8.4" cy="30.3" rx="2.0" ry="2.1" fill="#16143f" opacity="0.88" filter="url(#hb)"/>
<ellipse cx="70.0" cy="57.9" rx="2.1" ry="2.7" fill="#16143f" opacity="0.88" filter="url(#hb)"/>
<ellipse cx="15.2" cy="28.4" rx="2.7" ry="2.4" fill="#16143f" opacity="0.88" filter="url(#hb)"/>
<ellipse cx="7.2" cy="71.3" rx="2.0" ry="2.1" fill="#16143f" opacity="0.88" filter="url(#hb)"/>
<ellipse cx="55.7" cy="23.7" rx="2.1" ry="1.9" fill="#16143f" opacity="0.88" filter="url(#hb)"/>
<ellipse cx="6.5" cy="42.0" rx="2.0" ry="2.4" fill="#16143f" opacity="0.88" filter="url(#hb)"/>
<ellipse cx="26.8" cy="32.7" rx="2.8" ry="2.3" fill="#16143f" opacity="0.88" filter="url(#hb)"/>
<ellipse cx="41.4" cy="62.5" rx="2.0" ry="2.0" fill="#16143f" opacity="0.88" filter="url(#hb)"/>
<ellipse cx="65.5" cy="59.0" rx="2.0" ry="2.0" fill="#16143f" opacity="0.88" filter="url(#hb)"/>
<ellipse cx="53.3" cy="67.8" rx="2.0" ry="2.8" fill="#16143f" opacity="0.88" filter="url(#hb)"/>
<ellipse cx="63.6" cy="43.5" rx="2.2" ry="1.9" fill="#16143f" opacity="0.88" filter="url(#hb)"/>
<ellipse cx="2.8" cy="69.4" rx="2.0" ry="2.5" fill="#16143f" opacity="0.88" filter="url(#hb)"/>
<ellipse cx="18.5" cy="59.4" rx="2.4" ry="2.1" fill="#16143f" opacity="0.88" filter="url(#hb)"/>
<ellipse cx="12.6" cy="51.9" rx="1.9" ry="2.0" fill="#16143f" opacity="0.88" filter="url(#hb)"/>
<ellipse cx="40.3" cy="61.5" rx="2.4" ry="2.1" fill="#16143f" opacity="0.88" filter="url(#hb)"/>
<circle cx="22.8" cy="9.2" r="2.2" fill="#a8f030" opacity="0.90" filter="url(#gb)"/>
<circle cx="3.5" cy="17.3" r="2.0" fill="#a8f030" opacity="0.70" filter="url(#gb)"/>
<circle cx="70.0" cy="66.0" r="1.5" fill="#a8f030" opacity="0.50" filter="url(#gb)"/>
</svg>
<line x1="309.40" y1="362.90" x2="314.90" y2="362.90" stroke="#bbb" stroke-width="0.9"/>
<line x1="309.40" y1="436.05" x2="314.90" y2="436.05" stroke="#bbb" stroke-width="0.9"/>
<line x1="309.40" y1="509.20" x2="314.90" y2="509.20" stroke="#bbb" stroke-width="0.9"/>
<svg x="320.27" y="294.30" width="72.1" height="72.1" overflow="hidden">
<rect width="72.1" height="72.1" fill="#000"/>
<rect width="72.1" height="72.1" filter="url(#gt1)"/>
<ellipse cx="19.2" cy="3.5" rx="3.1" ry="2.5" transform="rotate(57 19.2 3.5)" fill="rgb(60,235,60)" filter="url(#gb)"/>
<ellipse cx="54.5" cy="5.4" rx="2.9" ry="2.3" transform="rotate(25 54.5 5.4)" fill="rgb(60,235,60)" filter="url(#gb)"/>
<ellipse cx="70.6" cy="14.0" rx="2.5" ry="1.9" transform="rotate(89 70.6 14.0)" fill="rgb(60,235,60)" filter="url(#gb)"/>
<ellipse cx="12.8" cy="15.6" rx="2.2" ry="1.8" transform="rotate(151 12.8 15.6)" fill="rgb(52,200,52)" filter="url(#gb)"/>
<ellipse cx="19.2" cy="28.5" rx="3.1" ry="2.5" transform="rotate(153 19.2 28.5)" fill="rgb(60,235,60)" filter="url(#gb)"/>
<ellipse cx="36.9" cy="28.5" rx="3.1" ry="2.5" transform="rotate(128 36.9 28.5)" fill="rgb(56,217,56)" filter="url(#gb)"/>
<ellipse cx="3.2" cy="34.9" rx="2.9" ry="2.3" transform="rotate(171 3.2 34.9)" fill="rgb(60,235,60)" filter="url(#gb)"/>
<ellipse cx="49.7" cy="41.3" rx="2.5" ry="1.9" transform="rotate(50 49.7 41.3)" fill="rgb(44,165,44)" filter="url(#gb)"/>
<ellipse cx="4.8" cy="43.0" rx="3.1" ry="2.5" transform="rotate(30 4.8 43.0)" fill="rgb(60,235,60)" filter="url(#gb)"/>
<ellipse cx="1.6" cy="51.0" rx="2.5" ry="1.9" transform="rotate(81 1.6 51.0)" fill="rgb(60,235,60)" filter="url(#gb)"/>
<ellipse cx="33.5" cy="62.5" rx="2.9" ry="2.3" transform="rotate(50 33.5 62.5)" fill="rgb(60,235,60)" filter="url(#gb)"/>
<ellipse cx="40.6" cy="59.5" rx="2.9" ry="2.3" transform="rotate(39 40.6 59.5)" fill="rgb(60,235,60)" filter="url(#gb)"/>
<ellipse cx="61.0" cy="67.0" rx="4.0" ry="3.2" transform="rotate(75 61.0 67.0)" fill="rgb(60,235,60)" filter="url(#gb)"/>
<ellipse cx="69.0" cy="51.0" rx="2.0" ry="1.6" transform="rotate(113 69.0 51.0)" fill="rgb(60,235,60)" filter="url(#gb)"/>
</svg>
<svg x="320.27" y="367.45" width="72.1" height="72.1" overflow="hidden">
<rect width="72.1" height="72.1" filter="url(#rt1)"/>
<ellipse cx="26.6" cy="41.3" rx="3.0" ry="3.4" fill="#050000" opacity="0.88" filter="url(#hb)"/>
<ellipse cx="64.2" cy="70.7" rx="3.9" ry="3.9" fill="#050000" opacity="0.88" filter="url(#hb)"/>
<ellipse cx="42.1" cy="10.1" rx="2.9" ry="2.8" fill="#050000" opacity="0.88" filter="url(#hb)"/>
<ellipse cx="65.6" cy="50.5" rx="4.3" ry="2.8" fill="#050000" opacity="0.88" filter="url(#hb)"/>
<ellipse cx="45.9" cy="34.8" rx="4.0" ry="3.3" fill="#050000" opacity="0.88" filter="url(#hb)"/>
<ellipse cx="72.1" cy="5.4" rx="3.7" ry="4.0" fill="#050000" opacity="0.88" filter="url(#hb)"/>
<ellipse cx="64.9" cy="53.1" rx="3.9" ry="4.1" fill="#050000" opacity="0.88" filter="url(#hb)"/>
<ellipse cx="66.0" cy="25.4" rx="3.9" ry="4.2" fill="#050000" opacity="0.88" filter="url(#hb)"/>
<ellipse cx="62.8" cy="30.1" rx="4.1" ry="4.2" fill="#050000" opacity="0.88" filter="url(#hb)"/>
<ellipse cx="41.3" cy="45.1" rx="3.4" ry="3.7" fill="#050000" opacity="0.88" filter="url(#hb)"/>
<ellipse cx="43.9" cy="5.8" rx="3.8" ry="4.4" fill="#050000" opacity="0.88" filter="url(#hb)"/>
<ellipse cx="63.4" cy="52.5" rx="3.4" ry="4.0" fill="#050000" opacity="0.88" filter="url(#hb)"/>
<ellipse cx="41.9" cy="31.8" rx="4.1" ry="2.9" fill="#050000" opacity="0.88" filter="url(#hb)"/>
<ellipse cx="54.1" cy="2.1" rx="3.8" ry="3.6" fill="#050000" opacity="0.88" filter="url(#hb)"/>
<ellipse cx="16.6" cy="50.3" rx="3.6" ry="3.8" fill="#050000" opacity="0.88" filter="url(#hb)"/>
<ellipse cx="66.4" cy="18.4" rx="2.8" ry="3.3" fill="#050000" opacity="0.88" filter="url(#hb)"/>
<ellipse cx="48.9" cy="14.6" rx="3.1" ry="4.2" fill="#050000" opacity="0.88" filter="url(#hb)"/>
<ellipse cx="47.6" cy="31.9" rx="4.2" ry="3.3" fill="#050000" opacity="0.88" filter="url(#hb)"/>
<ellipse cx="48.0" cy="14.3" rx="3.5" ry="4.1" fill="#050000" opacity="0.88" filter="url(#hb)"/>
<ellipse cx="65.9" cy="63.5" rx="3.4" ry="3.7" fill="#050000" opacity="0.88" filter="url(#hb)"/>
</svg>
<svg x="320.27" y="440.60" width="72.1" height="72.1" overflow="hidden">
<rect width="72.1" height="72.1" filter="url(#mt1)"/>
<ellipse cx="26.6" cy="41.3" rx="3.0" ry="3.4" fill="#16143f" opacity="0.88" filter="url(#hb)"/>
<ellipse cx="64.2" cy="70.7" rx="3.9" ry="3.9" fill="#16143f" opacity="0.88" filter="url(#hb)"/>
<ellipse cx="42.1" cy="10.1" rx="2.9" ry="2.8" fill="#16143f" opacity="0.88" filter="url(#hb)"/>
<ellipse cx="65.6" cy="50.5" rx="4.3" ry="2.8" fill="#16143f" opacity="0.88" filter="url(#hb)"/>
<ellipse cx="45.9" cy="34.8" rx="4.0" ry="3.3" fill="#16143f" opacity="0.88" filter="url(#hb)"/>
<ellipse cx="72.1" cy="5.4" rx="3.7" ry="4.0" fill="#16143f" opacity="0.88" filter="url(#hb)"/>
<ellipse cx="64.9" cy="53.1" rx="3.9" ry="4.1" fill="#16143f" opacity="0.88" filter="url(#hb)"/>
<ellipse cx="66.0" cy="25.4" rx="3.9" ry="4.2" fill="#16143f" opacity="0.88" filter="url(#hb)"/>
<ellipse cx="62.8" cy="30.1" rx="4.1" ry="4.2" fill="#16143f" opacity="0.88" filter="url(#hb)"/>
<ellipse cx="41.3" cy="45.1" rx="3.4" ry="3.7" fill="#16143f" opacity="0.88" filter="url(#hb)"/>
<ellipse cx="43.9" cy="5.8" rx="3.8" ry="4.4" fill="#16143f" opacity="0.88" filter="url(#hb)"/>
<ellipse cx="63.4" cy="52.5" rx="3.4" ry="4.0" fill="#16143f" opacity="0.88" filter="url(#hb)"/>
<ellipse cx="41.9" cy="31.8" rx="4.1" ry="2.9" fill="#16143f" opacity="0.88" filter="url(#hb)"/>
<ellipse cx="54.1" cy="2.1" rx="3.8" ry="3.6" fill="#16143f" opacity="0.88" filter="url(#hb)"/>
<ellipse cx="16.6" cy="50.3" rx="3.6" ry="3.8" fill="#16143f" opacity="0.88" filter="url(#hb)"/>
<ellipse cx="66.4" cy="18.4" rx="2.8" ry="3.3" fill="#16143f" opacity="0.88" filter="url(#hb)"/>
<ellipse cx="48.9" cy="14.6" rx="3.1" ry="4.2" fill="#16143f" opacity="0.88" filter="url(#hb)"/>
<ellipse cx="47.6" cy="31.9" rx="4.2" ry="3.3" fill="#16143f" opacity="0.88" filter="url(#hb)"/>
<ellipse cx="48.0" cy="14.3" rx="3.5" ry="4.1" fill="#16143f" opacity="0.88" filter="url(#hb)"/>
<ellipse cx="65.9" cy="63.5" rx="3.4" ry="3.7" fill="#16143f" opacity="0.88" filter="url(#hb)"/>
<circle cx="19.2" cy="3.5" r="2.8" fill="#b8f028" opacity="1.00" filter="url(#gb)"/>
<circle cx="54.5" cy="5.4" r="2.6" fill="#b8f028" opacity="1.00" filter="url(#gb)"/>
<circle cx="70.6" cy="14.0" r="2.2" fill="#b8f028" opacity="1.00" filter="url(#gb)"/>
<circle cx="12.8" cy="15.6" r="2.0" fill="#b8f028" opacity="0.80" filter="url(#gb)"/>
<circle cx="19.2" cy="28.5" r="2.8" fill="#b8f028" opacity="1.00" filter="url(#gb)"/>
<circle cx="36.9" cy="28.5" r="2.8" fill="#b8f028" opacity="0.90" filter="url(#gb)"/>
<circle cx="3.2" cy="34.9" r="2.6" fill="#b8f028" opacity="1.00" filter="url(#gb)"/>
<circle cx="49.7" cy="41.3" r="2.2" fill="#b8f028" opacity="0.60" filter="url(#gb)"/>
<circle cx="4.8" cy="43.0" r="2.8" fill="#b8f028" opacity="1.00" filter="url(#gb)"/>
<circle cx="1.6" cy="51.0" r="2.2" fill="#b8f028" opacity="1.00" filter="url(#gb)"/>
<circle cx="33.5" cy="62.5" r="2.6" fill="#b8f028" opacity="1.00" filter="url(#gb)"/>
<circle cx="40.6" cy="59.5" r="2.6" fill="#b8f028" opacity="1.00" filter="url(#gb)"/>
<circle cx="61.0" cy="67.0" r="3.6" fill="#b8f028" opacity="1.00" filter="url(#gb)"/>
<circle cx="69.0" cy="51.0" r="1.8" fill="#b8f028" opacity="1.00" filter="url(#gb)"/>
</svg>
<line x1="382.37" y1="362.90" x2="387.87" y2="362.90" stroke="#bbb" stroke-width="0.9"/>
<line x1="382.37" y1="436.05" x2="387.87" y2="436.05" stroke="#bbb" stroke-width="0.9"/>
<line x1="382.37" y1="509.20" x2="387.87" y2="509.20" stroke="#bbb" stroke-width="0.9"/>
<svg x="393.24" y="294.30" width="72.1" height="72.1" overflow="hidden">
<rect width="72.1" height="72.1" fill="#000"/>
<rect width="72.1" height="72.1" filter="url(#gt2)"/>
<ellipse cx="20.1" cy="6.0" rx="2.5" ry="1.9" transform="rotate(144 20.1 6.0)" fill="rgb(48,182,48)" filter="url(#gb)"/>
<ellipse cx="39.4" cy="17.3" rx="2.9" ry="2.3" transform="rotate(101 39.4 17.3)" fill="rgb(56,217,56)" filter="url(#gb)"/>
<ellipse cx="29.7" cy="25.3" rx="3.1" ry="2.5" transform="rotate(88 29.7 25.3)" fill="rgb(60,235,60)" filter="url(#gb)"/>
<ellipse cx="65.0" cy="31.7" rx="2.7" ry="2.1" transform="rotate(124 65.0 31.7)" fill="rgb(48,182,48)" filter="url(#gb)"/>
<ellipse cx="7.2" cy="44.6" rx="3.8" ry="3.0" transform="rotate(12 7.2 44.6)" fill="rgb(60,235,60)" filter="url(#gb)"/>
<ellipse cx="44.2" cy="41.3" rx="2.7" ry="2.1" transform="rotate(97 44.2 41.3)" fill="rgb(48,182,48)" filter="url(#gb)"/>
<ellipse cx="60.2" cy="60.6" rx="3.8" ry="3.0" transform="rotate(74 60.2 60.6)" fill="rgb(60,235,60)" filter="url(#gb)"/>
<ellipse cx="32.9" cy="63.8" rx="2.9" ry="2.3" transform="rotate(172 32.9 63.8)" fill="rgb(60,235,60)" filter="url(#gb)"/>
<ellipse cx="10.5" cy="59.0" rx="2.2" ry="1.8" transform="rotate(166 10.5 59.0)" fill="rgb(36,130,36)" filter="url(#gb)"/>
</svg>
<svg x="393.24" y="367.45" width="72.1" height="72.1" overflow="hidden">
<rect width="72.1" height="72.1" filter="url(#rt2)"/>
<ellipse cx="35.6" cy="22.7" rx="2.6" ry="2.8" fill="#050000" opacity="0.88" filter="url(#hb)"/>
<ellipse cx="32.6" cy="5.4" rx="1.8" ry="2.7" fill="#050000" opacity="0.88" filter="url(#hb)"/>
<ellipse cx="3.0" cy="51.1" rx="2.4" ry="2.1" fill="#050000" opacity="0.88" filter="url(#hb)"/>
<ellipse cx="57.1" cy="1.4" rx="1.9" ry="2.3" fill="#050000" opacity="0.88" filter="url(#hb)"/>
<ellipse cx="1.8" cy="59.8" rx="2.0" ry="1.9" fill="#050000" opacity="0.88" filter="url(#hb)"/>
<ellipse cx="3.4" cy="45.4" rx="2.2" ry="2.4" fill="#050000" opacity="0.88" filter="url(#hb)"/>
<ellipse cx="47.2" cy="58.2" rx="2.8" ry="2.5" fill="#050000" opacity="0.88" filter="url(#hb)"/>
<ellipse cx="14.4" cy="34.3" rx="2.0" ry="1.8" fill="#050000" opacity="0.88" filter="url(#hb)"/>
<ellipse cx="34.0" cy="51.5" rx="2.0" ry="2.1" fill="#050000" opacity="0.88" filter="url(#hb)"/>
<ellipse cx="24.9" cy="50.3" rx="2.3" ry="2.4" fill="#050000" opacity="0.88" filter="url(#hb)"/>
<ellipse cx="54.5" cy="28.4" rx="2.6" ry="2.7" fill="#050000" opacity="0.88" filter="url(#hb)"/>
<ellipse cx="6.3" cy="67.2" rx="2.5" ry="1.9" fill="#050000" opacity="0.88" filter="url(#hb)"/>
<ellipse cx="32.7" cy="45.1" rx="2.7" ry="2.2" fill="#050000" opacity="0.88" filter="url(#hb)"/>
<ellipse cx="41.0" cy="63.4" rx="2.6" ry="2.7" fill="#050000" opacity="0.88" filter="url(#hb)"/>
<ellipse cx="33.4" cy="47.0" rx="2.0" ry="2.5" fill="#050000" opacity="0.88" filter="url(#hb)"/>
<ellipse cx="59.0" cy="46.3" rx="2.5" ry="2.0" fill="#050000" opacity="0.88" filter="url(#hb)"/>
<ellipse cx="64.9" cy="70.7" rx="2.8" ry="2.3" fill="#050000" opacity="0.88" filter="url(#hb)"/>
<ellipse cx="57.0" cy="23.1" rx="2.7" ry="2.7" fill="#050000" opacity="0.88" filter="url(#hb)"/>
<ellipse cx="25.1" cy="6.0" rx="2.2" ry="2.4" fill="#050000" opacity="0.88" filter="url(#hb)"/>
<ellipse cx="55.4" cy="35.1" rx="1.8" ry="2.6" fill="#050000" opacity="0.88" filter="url(#hb)"/>
<ellipse cx="4.6" cy="57.7" rx="2.0" ry="2.1" fill="#050000" opacity="0.88" filter="url(#hb)"/>
<ellipse cx="56.8" cy="10.1" rx="1.9" ry="2.3" fill="#050000" opacity="0.88" filter="url(#hb)"/>
<ellipse cx="52.2" cy="60.6" rx="2.5" ry="2.7" fill="#050000" opacity="0.88" filter="url(#hb)"/>
<ellipse cx="35.5" cy="68.4" rx="1.9" ry="2.0" fill="#050000" opacity="0.88" filter="url(#hb)"/>
<ellipse cx="38.0" cy="20.9" rx="2.5" ry="2.4" fill="#050000" opacity="0.88" filter="url(#hb)"/>
<ellipse cx="37.7" cy="60.8" rx="2.4" ry="2.1" fill="#050000" opacity="0.88" filter="url(#hb)"/>
<ellipse cx="27.5" cy="60.9" rx="2.7" ry="2.0" fill="#050000" opacity="0.88" filter="url(#hb)"/>
<ellipse cx="61.3" cy="69.8" rx="2.3" ry="2.4" fill="#050000" opacity="0.88" filter="url(#hb)"/>
<ellipse cx="14.5" cy="38.6" rx="2.3" ry="2.4" fill="#050000" opacity="0.88" filter="url(#hb)"/>
<ellipse cx="2.0" cy="69.9" rx="2.3" ry="2.2" fill="#050000" opacity="0.88" filter="url(#hb)"/>
</svg>
<svg x="393.24" y="440.60" width="72.1" height="72.1" overflow="hidden">
<rect width="72.1" height="72.1" filter="url(#mt2)"/>
<ellipse cx="35.6" cy="22.7" rx="2.6" ry="2.8" fill="#16143f" opacity="0.88" filter="url(#hb)"/>
<ellipse cx="32.6" cy="5.4" rx="1.8" ry="2.7" fill="#16143f" opacity="0.88" filter="url(#hb)"/>
<ellipse cx="3.0" cy="51.1" rx="2.4" ry="2.1" fill="#16143f" opacity="0.88" filter="url(#hb)"/>
<ellipse cx="57.1" cy="1.4" rx="1.9" ry="2.3" fill="#16143f" opacity="0.88" filter="url(#hb)"/>
<ellipse cx="1.8" cy="59.8" rx="2.0" ry="1.9" fill="#16143f" opacity="0.88" filter="url(#hb)"/>
<ellipse cx="3.4" cy="45.4" rx="2.2" ry="2.4" fill="#16143f" opacity="0.88" filter="url(#hb)"/>
<ellipse cx="47.2" cy="58.2" rx="2.8" ry="2.5" fill="#16143f" opacity="0.88" filter="url(#hb)"/>
<ellipse cx="14.4" cy="34.3" rx="2.0" ry="1.8" fill="#16143f" opacity="0.88" filter="url(#hb)"/>
<ellipse cx="34.0" cy="51.5" rx="2.0" ry="2.1" fill="#16143f" opacity="0.88" filter="url(#hb)"/>
<ellipse cx="24.9" cy="50.3" rx="2.3" ry="2.4" fill="#16143f" opacity="0.88" filter="url(#hb)"/>
<ellipse cx="54.5" cy="28.4" rx="2.6" ry="2.7" fill="#16143f" opacity="0.88" filter="url(#hb)"/>
<ellipse cx="6.3" cy="67.2" rx="2.5" ry="1.9" fill="#16143f" opacity="0.88" filter="url(#hb)"/>
<ellipse cx="32.7" cy="45.1" rx="2.7" ry="2.2" fill="#16143f" opacity="0.88" filter="url(#hb)"/>
<ellipse cx="41.0" cy="63.4" rx="2.6" ry="2.7" fill="#16143f" opacity="0.88" filter="url(#hb)"/>
<ellipse cx="33.4" cy="47.0" rx="2.0" ry="2.5" fill="#16143f" opacity="0.88" filter="url(#hb)"/>
<ellipse cx="59.0" cy="46.3" rx="2.5" ry="2.0" fill="#16143f" opacity="0.88" filter="url(#hb)"/>
<ellipse cx="64.9" cy="70.7" rx="2.8" ry="2.3" fill="#16143f" opacity="0.88" filter="url(#hb)"/>
<ellipse cx="57.0" cy="23.1" rx="2.7" ry="2.7" fill="#16143f" opacity="0.88" filter="url(#hb)"/>
<ellipse cx="25.1" cy="6.0" rx="2.2" ry="2.4" fill="#16143f" opacity="0.88" filter="url(#hb)"/>
<ellipse cx="55.4" cy="35.1" rx="1.8" ry="2.6" fill="#16143f" opacity="0.88" filter="url(#hb)"/>
<ellipse cx="4.6" cy="57.7" rx="2.0" ry="2.1" fill="#16143f" opacity="0.88" filter="url(#hb)"/>
<ellipse cx="56.8" cy="10.1" rx="1.9" ry="2.3" fill="#16143f" opacity="0.88" filter="url(#hb)"/>
<ellipse cx="52.2" cy="60.6" rx="2.5" ry="2.7" fill="#16143f" opacity="0.88" filter="url(#hb)"/>
<ellipse cx="35.5" cy="68.4" rx="1.9" ry="2.0" fill="#16143f" opacity="0.88" filter="url(#hb)"/>
<ellipse cx="38.0" cy="20.9" rx="2.5" ry="2.4" fill="#16143f" opacity="0.88" filter="url(#hb)"/>
<ellipse cx="37.7" cy="60.8" rx="2.4" ry="2.1" fill="#16143f" opacity="0.88" filter="url(#hb)"/>
<ellipse cx="27.5" cy="60.9" rx="2.7" ry="2.0" fill="#16143f" opacity="0.88" filter="url(#hb)"/>
<ellipse cx="61.3" cy="69.8" rx="2.3" ry="2.4" fill="#16143f" opacity="0.88" filter="url(#hb)"/>
<ellipse cx="14.5" cy="38.6" rx="2.3" ry="2.4" fill="#16143f" opacity="0.88" filter="url(#hb)"/>
<ellipse cx="2.0" cy="69.9" rx="2.3" ry="2.2" fill="#16143f" opacity="0.88" filter="url(#hb)"/>
<circle cx="20.1" cy="6.0" r="2.2" fill="#58e040" opacity="0.70" filter="url(#gb)"/>
<circle cx="39.4" cy="17.3" r="2.6" fill="#58e040" opacity="0.90" filter="url(#gb)"/>
<circle cx="29.7" cy="25.3" r="2.8" fill="#58e040" opacity="1.00" filter="url(#gb)"/>
<circle cx="65.0" cy="31.7" r="2.4" fill="#58e040" opacity="0.70" filter="url(#gb)"/>
<circle cx="7.2" cy="44.6" r="3.4" fill="#58e040" opacity="1.00" filter="url(#gb)"/>
<circle cx="44.2" cy="41.3" r="2.4" fill="#58e040" opacity="0.70" filter="url(#gb)"/>
<circle cx="60.2" cy="60.6" r="3.4" fill="#58e040" opacity="1.00" filter="url(#gb)"/>
<circle cx="32.9" cy="63.8" r="2.6" fill="#58e040" opacity="1.00" filter="url(#gb)"/>
</svg>
<line x1="455.34" y1="362.90" x2="460.84" y2="362.90" stroke="#bbb" stroke-width="0.9"/>
<line x1="455.34" y1="436.05" x2="460.84" y2="436.05" stroke="#bbb" stroke-width="0.9"/>
<line x1="455.34" y1="509.20" x2="460.84" y2="509.20" stroke="#bbb" stroke-width="0.9"/>
<svg x="466.21" y="294.30" width="72.1" height="72.1" overflow="hidden">
<rect width="72.1" height="72.1" fill="#000"/>
<rect width="72.1" height="72.1" filter="url(#gt3)"/>
<ellipse cx="35.2" cy="31.7" rx="3.8" ry="3.0" transform="rotate(59 35.2 31.7)" fill="rgb(60,235,60)" filter="url(#gb)"/>
<ellipse cx="43.5" cy="34.3" rx="2.9" ry="2.3" transform="rotate(84 43.5 34.3)" fill="rgb(60,235,60)" filter="url(#gb)"/>
<ellipse cx="55.4" cy="6.0" rx="2.5" ry="1.9" transform="rotate(93 55.4 6.0)" fill="rgb(34,121,34)" filter="url(#gb)"/>
<ellipse cx="14.0" cy="28.0" rx="2.2" ry="1.8" transform="rotate(77 14.0 28.0)" fill="rgb(30,103,30)" filter="url(#gb)"/>
<ellipse cx="25.0" cy="48.0" rx="2.7" ry="2.1" transform="rotate(108 25.0 48.0)" fill="rgb(30,103,30)" filter="url(#gb)"/>
<ellipse cx="10.0" cy="64.0" rx="2.2" ry="1.8" transform="rotate(2 10.0 64.0)" fill="rgb(30,103,30)" filter="url(#gb)"/>
</svg>
<svg x="466.21" y="367.45" width="72.1" height="72.1" overflow="hidden">
<rect width="72.1" height="72.1" filter="url(#rt3)"/>
<ellipse cx="19.4" cy="34.1" rx="2.4" ry="2.7" fill="#050000" opacity="0.88" filter="url(#hb)"/>
<ellipse cx="58.8" cy="64.9" rx="2.8" ry="2.6" fill="#050000" opacity="0.88" filter="url(#hb)"/>
<ellipse cx="13.8" cy="44.6" rx="3.3" ry="2.4" fill="#050000" opacity="0.88" filter="url(#hb)"/>
<ellipse cx="56.2" cy="1.6" rx="2.4" ry="2.5" fill="#050000" opacity="0.88" filter="url(#hb)"/>
<ellipse cx="49.5" cy="23.2" rx="2.6" ry="2.9" fill="#050000" opacity="0.88" filter="url(#hb)"/>
<ellipse cx="7.6" cy="52.7" rx="2.3" ry="2.8" fill="#050000" opacity="0.88" filter="url(#hb)"/>
<ellipse cx="18.1" cy="14.3" rx="2.8" ry="2.7" fill="#050000" opacity="0.88" filter="url(#hb)"/>
<ellipse cx="27.1" cy="29.8" rx="2.8" ry="2.4" fill="#050000" opacity="0.88" filter="url(#hb)"/>
<ellipse cx="14.7" cy="45.5" rx="3.0" ry="2.8" fill="#050000" opacity="0.88" filter="url(#hb)"/>
<ellipse cx="61.4" cy="44.1" rx="3.2" ry="2.5" fill="#050000" opacity="0.88" filter="url(#hb)"/>
<ellipse cx="53.4" cy="58.4" rx="3.3" ry="2.6" fill="#050000" opacity="0.88" filter="url(#hb)"/>
<ellipse cx="22.7" cy="66.5" rx="2.5" ry="3.4" fill="#050000" opacity="0.88" filter="url(#hb)"/>
<ellipse cx="64.0" cy="9.7" rx="2.5" ry="3.1" fill="#050000" opacity="0.88" filter="url(#hb)"/>
<ellipse cx="18.7" cy="7.0" rx="3.2" ry="2.7" fill="#050000" opacity="0.88" filter="url(#hb)"/>
<ellipse cx="57.0" cy="9.1" rx="2.7" ry="3.0" fill="#050000" opacity="0.88" filter="url(#hb)"/>
<ellipse cx="1.3" cy="14.5" rx="3.0" ry="3.3" fill="#050000" opacity="0.88" filter="url(#hb)"/>
<ellipse cx="69.8" cy="8.3" rx="2.8" ry="3.1" fill="#050000" opacity="0.88" filter="url(#hb)"/>
<ellipse cx="36.3" cy="49.4" rx="2.4" ry="2.3" fill="#050000" opacity="0.88" filter="url(#hb)"/>
<ellipse cx="7.7" cy="2.7" rx="2.9" ry="2.8" fill="#050000" opacity="0.88" filter="url(#hb)"/>
<ellipse cx="41.0" cy="10.6" rx="2.4" ry="2.4" fill="#050000" opacity="0.88" filter="url(#hb)"/>
<ellipse cx="60.6" cy="71.4" rx="3.3" ry="2.3" fill="#050000" opacity="0.88" filter="url(#hb)"/>
<ellipse cx="4.5" cy="68.6" rx="2.8" ry="3.1" fill="#050000" opacity="0.88" filter="url(#hb)"/>
<rect x="-10" y="-10" width="38" height="92.1" fill="#000" opacity="0.7" filter="url(#big)"/>
</svg>
<svg x="466.21" y="440.60" width="72.1" height="72.1" overflow="hidden">
<rect width="72.1" height="72.1" filter="url(#mt3)"/>
<ellipse cx="19.4" cy="34.1" rx="2.4" ry="2.7" fill="#16143f" opacity="0.88" filter="url(#hb)"/>
<ellipse cx="58.8" cy="64.9" rx="2.8" ry="2.6" fill="#16143f" opacity="0.88" filter="url(#hb)"/>
<ellipse cx="13.8" cy="44.6" rx="3.3" ry="2.4" fill="#16143f" opacity="0.88" filter="url(#hb)"/>
<ellipse cx="56.2" cy="1.6" rx="2.4" ry="2.5" fill="#16143f" opacity="0.88" filter="url(#hb)"/>
<ellipse cx="49.5" cy="23.2" rx="2.6" ry="2.9" fill="#16143f" opacity="0.88" filter="url(#hb)"/>
<ellipse cx="7.6" cy="52.7" rx="2.3" ry="2.8" fill="#16143f" opacity="0.88" filter="url(#hb)"/>
<ellipse cx="18.1" cy="14.3" rx="2.8" ry="2.7" fill="#16143f" opacity="0.88" filter="url(#hb)"/>
<ellipse cx="27.1" cy="29.8" rx="2.8" ry="2.4" fill="#16143f" opacity="0.88" filter="url(#hb)"/>
<ellipse cx="14.7" cy="45.5" rx="3.0" ry="2.8" fill="#16143f" opacity="0.88" filter="url(#hb)"/>
<ellipse cx="61.4" cy="44.1" rx="3.2" ry="2.5" fill="#16143f" opacity="0.88" filter="url(#hb)"/>
<ellipse cx="53.4" cy="58.4" rx="3.3" ry="2.6" fill="#16143f" opacity="0.88" filter="url(#hb)"/>
<ellipse cx="22.7" cy="66.5" rx="2.5" ry="3.4" fill="#16143f" opacity="0.88" filter="url(#hb)"/>
<ellipse cx="64.0" cy="9.7" rx="2.5" ry="3.1" fill="#16143f" opacity="0.88" filter="url(#hb)"/>
<ellipse cx="18.7" cy="7.0" rx="3.2" ry="2.7" fill="#16143f" opacity="0.88" filter="url(#hb)"/>
<ellipse cx="57.0" cy="9.1" rx="2.7" ry="3.0" fill="#16143f" opacity="0.88" filter="url(#hb)"/>
<ellipse cx="1.3" cy="14.5" rx="3.0" ry="3.3" fill="#16143f" opacity="0.88" filter="url(#hb)"/>
<ellipse cx="69.8" cy="8.3" rx="2.8" ry="3.1" fill="#16143f" opacity="0.88" filter="url(#hb)"/>
<ellipse cx="36.3" cy="49.4" rx="2.4" ry="2.3" fill="#16143f" opacity="0.88" filter="url(#hb)"/>
<ellipse cx="7.7" cy="2.7" rx="2.9" ry="2.8" fill="#16143f" opacity="0.88" filter="url(#hb)"/>
<ellipse cx="41.0" cy="10.6" rx="2.4" ry="2.4" fill="#16143f" opacity="0.88" filter="url(#hb)"/>
<ellipse cx="60.6" cy="71.4" rx="3.3" ry="2.3" fill="#16143f" opacity="0.88" filter="url(#hb)"/>
<ellipse cx="4.5" cy="68.6" rx="2.8" ry="3.1" fill="#16143f" opacity="0.88" filter="url(#hb)"/>
<rect x="-10" y="-10" width="38" height="92.1" fill="#140c30" opacity="0.7" filter="url(#big)"/>
<circle cx="35.2" cy="31.7" r="3.4" fill="#b0f030" opacity="1.00" filter="url(#gb)"/>
<circle cx="43.5" cy="34.3" r="2.6" fill="#b0f030" opacity="1.00" filter="url(#gb)"/>
</svg>
<line x1="528.31" y1="362.90" x2="533.81" y2="362.90" stroke="#bbb" stroke-width="0.9"/>
<line x1="528.31" y1="436.05" x2="533.81" y2="436.05" stroke="#bbb" stroke-width="0.9"/>
<line x1="528.31" y1="509.20" x2="533.81" y2="509.20" stroke="#bbb" stroke-width="0.9"/>
<svg x="539.18" y="294.30" width="72.1" height="72.1" overflow="hidden">
<rect width="72.1" height="72.1" fill="#000"/>
<rect width="72.1" height="72.1" filter="url(#gt4)"/>
<ellipse cx="17.7" cy="6.0" rx="2.9" ry="2.3" transform="rotate(134 17.7 6.0)" fill="rgb(60,235,60)" filter="url(#gb)"/>
<ellipse cx="61.1" cy="5.4" rx="2.2" ry="1.8" transform="rotate(166 61.1 5.4)" fill="rgb(60,235,60)" filter="url(#gb)"/>
<ellipse cx="61.7" cy="22.7" rx="2.9" ry="2.3" transform="rotate(77 61.7 22.7)" fill="rgb(60,235,60)" filter="url(#gb)"/>
<ellipse cx="12.9" cy="29.1" rx="2.9" ry="2.3" transform="rotate(66 12.9 29.1)" fill="rgb(60,235,60)" filter="url(#gb)"/>
<ellipse cx="3.9" cy="34.9" rx="2.7" ry="2.1" transform="rotate(17 3.9 34.9)" fill="rgb(60,235,60)" filter="url(#gb)"/>
<ellipse cx="48.2" cy="31.1" rx="2.5" ry="1.9" transform="rotate(158 48.2 31.1)" fill="rgb(48,182,48)" filter="url(#gb)"/>
<ellipse cx="40.2" cy="39.7" rx="2.9" ry="2.3" transform="rotate(14 40.2 39.7)" fill="rgb(60,235,60)" filter="url(#gb)"/>
<ellipse cx="7.1" cy="47.8" rx="3.1" ry="2.5" transform="rotate(15 7.1 47.8)" fill="rgb(60,235,60)" filter="url(#gb)"/>
<ellipse cx="66.9" cy="47.8" rx="2.7" ry="2.1" transform="rotate(102 66.9 47.8)" fill="rgb(60,235,60)" filter="url(#gb)"/>
<ellipse cx="11.3" cy="66.4" rx="3.1" ry="2.5" transform="rotate(87 11.3 66.4)" fill="rgb(60,235,60)" filter="url(#gb)"/>
<ellipse cx="27.4" cy="65.4" rx="2.2" ry="1.8" transform="rotate(123 27.4 65.4)" fill="rgb(48,182,48)" filter="url(#gb)"/>
<ellipse cx="28.0" cy="55.0" rx="1.3" ry="1.1" transform="rotate(54 28.0 55.0)" fill="rgb(44,165,44)" filter="url(#gb)"/>
</svg>
<svg x="539.18" y="367.45" width="72.1" height="72.1" overflow="hidden">
<rect width="72.1" height="72.1" filter="url(#rt4)"/>
<ellipse cx="50.5" cy="60.9" rx="2.0" ry="2.2" fill="#050000" opacity="0.88" filter="url(#hb)"/>
<ellipse cx="53.3" cy="29.2" rx="2.0" ry="1.9" fill="#050000" opacity="0.88" filter="url(#hb)"/>
<ellipse cx="37.0" cy="1.1" rx="2.6" ry="2.5" fill="#050000" opacity="0.88" filter="url(#hb)"/>
<ellipse cx="50.8" cy="62.1" rx="2.4" ry="2.2" fill="#050000" opacity="0.88" filter="url(#hb)"/>
<ellipse cx="43.2" cy="36.4" rx="2.7" ry="2.5" fill="#050000" opacity="0.88" filter="url(#hb)"/>
<ellipse cx="18.6" cy="65.7" rx="2.5" ry="2.5" fill="#050000" opacity="0.88" filter="url(#hb)"/>
<ellipse cx="58.7" cy="29.2" rx="2.6" ry="2.6" fill="#050000" opacity="0.88" filter="url(#hb)"/>
<ellipse cx="50.1" cy="55.3" rx="2.5" ry="2.2" fill="#050000" opacity="0.88" filter="url(#hb)"/>
<ellipse cx="52.1" cy="5.1" rx="2.1" ry="2.2" fill="#050000" opacity="0.88" filter="url(#hb)"/>
<ellipse cx="0.8" cy="25.6" rx="2.4" ry="2.4" fill="#050000" opacity="0.88" filter="url(#hb)"/>
<ellipse cx="16.7" cy="68.1" rx="2.4" ry="2.1" fill="#050000" opacity="0.88" filter="url(#hb)"/>
<ellipse cx="47.6" cy="41.1" rx="2.3" ry="2.2" fill="#050000" opacity="0.88" filter="url(#hb)"/>
<ellipse cx="72.1" cy="46.3" rx="2.4" ry="2.5" fill="#050000" opacity="0.88" filter="url(#hb)"/>
<ellipse cx="70.7" cy="1.6" rx="2.4" ry="2.5" fill="#050000" opacity="0.88" filter="url(#hb)"/>
<ellipse cx="18.5" cy="29.0" rx="1.8" ry="2.0" fill="#050000" opacity="0.88" filter="url(#hb)"/>
<ellipse cx="27.1" cy="7.1" rx="2.0" ry="2.6" fill="#050000" opacity="0.88" filter="url(#hb)"/>
<ellipse cx="39.7" cy="36.6" rx="2.7" ry="2.3" fill="#050000" opacity="0.88" filter="url(#hb)"/>
<ellipse cx="71.7" cy="46.0" rx="2.5" ry="1.9" fill="#050000" opacity="0.88" filter="url(#hb)"/>
<ellipse cx="43.1" cy="54.7" rx="1.8" ry="2.6" fill="#050000" opacity="0.88" filter="url(#hb)"/>
<ellipse cx="11.5" cy="34.0" rx="2.0" ry="2.2" fill="#050000" opacity="0.88" filter="url(#hb)"/>
<ellipse cx="44.1" cy="4.2" rx="2.7" ry="2.2" fill="#050000" opacity="0.88" filter="url(#hb)"/>
<ellipse cx="38.0" cy="43.1" rx="2.1" ry="2.1" fill="#050000" opacity="0.88" filter="url(#hb)"/>
<ellipse cx="47.2" cy="40.4" rx="2.1" ry="2.4" fill="#050000" opacity="0.88" filter="url(#hb)"/>
<ellipse cx="21.3" cy="1.0" rx="2.0" ry="1.8" fill="#050000" opacity="0.88" filter="url(#hb)"/>
<ellipse cx="11.3" cy="54.4" rx="2.2" ry="2.6" fill="#050000" opacity="0.88" filter="url(#hb)"/>
<ellipse cx="54.0" cy="3.6" rx="2.7" ry="2.7" fill="#050000" opacity="0.88" filter="url(#hb)"/>
<ellipse cx="5.3" cy="65.3" rx="2.2" ry="2.2" fill="#050000" opacity="0.88" filter="url(#hb)"/>
<ellipse cx="70.2" cy="17.6" rx="2.3" ry="2.6" fill="#050000" opacity="0.88" filter="url(#hb)"/>
<ellipse cx="52.1" cy="33.8" rx="2.7" ry="2.5" fill="#050000" opacity="0.88" filter="url(#hb)"/>
<ellipse cx="43.5" cy="8.3" rx="2.4" ry="2.2" fill="#050000" opacity="0.88" filter="url(#hb)"/>
<ellipse cx="14.7" cy="3.8" rx="2.3" ry="1.9" fill="#050000" opacity="0.88" filter="url(#hb)"/>
<ellipse cx="31.9" cy="48.2" rx="2.2" ry="2.0" fill="#050000" opacity="0.88" filter="url(#hb)"/>
<ellipse cx="42.0" cy="30.2" rx="2.5" ry="2.3" fill="#050000" opacity="0.88" filter="url(#hb)"/>
<ellipse cx="71.9" cy="68.7" rx="2.5" ry="2.0" fill="#050000" opacity="0.88" filter="url(#hb)"/>
<ellipse cx="8.2" cy="64.4" rx="2.5" ry="2.4" fill="#050000" opacity="0.88" filter="url(#hb)"/>
<ellipse cx="25.9" cy="19.6" rx="2.4" ry="2.3" fill="#050000" opacity="0.88" filter="url(#hb)"/>
<ellipse cx="42.7" cy="45.6" rx="2.5" ry="2.0" fill="#050000" opacity="0.88" filter="url(#hb)"/>
<ellipse cx="18.0" cy="70.6" rx="2.6" ry="2.6" fill="#050000" opacity="0.88" filter="url(#hb)"/>
<ellipse cx="2.8" cy="4.4" rx="2.0" ry="2.2" fill="#050000" opacity="0.88" filter="url(#hb)"/>
<ellipse cx="44.9" cy="7.4" rx="2.3" ry="1.9" fill="#050000" opacity="0.88" filter="url(#hb)"/>
<ellipse cx="6.2" cy="48.8" rx="2.3" ry="2.4" fill="#050000" opacity="0.88" filter="url(#hb)"/>
<ellipse cx="26.9" cy="34.5" rx="2.0" ry="2.1" fill="#050000" opacity="0.88" filter="url(#hb)"/>
<ellipse cx="53.7" cy="60.5" rx="1.9" ry="1.9" fill="#050000" opacity="0.88" filter="url(#hb)"/>
<ellipse cx="58.3" cy="45.0" rx="2.5" ry="2.0" fill="#050000" opacity="0.88" filter="url(#hb)"/>
<ellipse cx="30.6" cy="18.6" rx="2.5" ry="2.1" fill="#050000" opacity="0.88" filter="url(#hb)"/>
<ellipse cx="47.1" cy="71.3" rx="2.1" ry="2.3" fill="#050000" opacity="0.88" filter="url(#hb)"/>
</svg>
<svg x="539.18" y="440.60" width="72.1" height="72.1" overflow="hidden">
<rect width="72.1" height="72.1" filter="url(#mt4)"/>
<ellipse cx="50.5" cy="60.9" rx="2.0" ry="2.2" fill="#16143f" opacity="0.88" filter="url(#hb)"/>
<ellipse cx="53.3" cy="29.2" rx="2.0" ry="1.9" fill="#16143f" opacity="0.88" filter="url(#hb)"/>
<ellipse cx="37.0" cy="1.1" rx="2.6" ry="2.5" fill="#16143f" opacity="0.88" filter="url(#hb)"/>
<ellipse cx="50.8" cy="62.1" rx="2.4" ry="2.2" fill="#16143f" opacity="0.88" filter="url(#hb)"/>
<ellipse cx="43.2" cy="36.4" rx="2.7" ry="2.5" fill="#16143f" opacity="0.88" filter="url(#hb)"/>
<ellipse cx="18.6" cy="65.7" rx="2.5" ry="2.5" fill="#16143f" opacity="0.88" filter="url(#hb)"/>
<ellipse cx="58.7" cy="29.2" rx="2.6" ry="2.6" fill="#16143f" opacity="0.88" filter="url(#hb)"/>
<ellipse cx="50.1" cy="55.3" rx="2.5" ry="2.2" fill="#16143f" opacity="0.88" filter="url(#hb)"/>
<ellipse cx="52.1" cy="5.1" rx="2.1" ry="2.2" fill="#16143f" opacity="0.88" filter="url(#hb)"/>
<ellipse cx="0.8" cy="25.6" rx="2.4" ry="2.4" fill="#16143f" opacity="0.88" filter="url(#hb)"/>
<ellipse cx="16.7" cy="68.1" rx="2.4" ry="2.1" fill="#16143f" opacity="0.88" filter="url(#hb)"/>
<ellipse cx="47.6" cy="41.1" rx="2.3" ry="2.2" fill="#16143f" opacity="0.88" filter="url(#hb)"/>
<ellipse cx="72.1" cy="46.3" rx="2.4" ry="2.5" fill="#16143f" opacity="0.88" filter="url(#hb)"/>
<ellipse cx="70.7" cy="1.6" rx="2.4" ry="2.5" fill="#16143f" opacity="0.88" filter="url(#hb)"/>
<ellipse cx="18.5" cy="29.0" rx="1.8" ry="2.0" fill="#16143f" opacity="0.88" filter="url(#hb)"/>
<ellipse cx="27.1" cy="7.1" rx="2.0" ry="2.6" fill="#16143f" opacity="0.88" filter="url(#hb)"/>
<ellipse cx="39.7" cy="36.6" rx="2.7" ry="2.3" fill="#16143f" opacity="0.88" filter="url(#hb)"/>
<ellipse cx="71.7" cy="46.0" rx="2.5" ry="1.9" fill="#16143f" opacity="0.88" filter="url(#hb)"/>
<ellipse cx="43.1" cy="54.7" rx="1.8" ry="2.6" fill="#16143f" opacity="0.88" filter="url(#hb)"/>
<ellipse cx="11.5" cy="34.0" rx="2.0" ry="2.2" fill="#16143f" opacity="0.88" filter="url(#hb)"/>
<ellipse cx="44.1" cy="4.2" rx="2.7" ry="2.2" fill="#16143f" opacity="0.88" filter="url(#hb)"/>
<ellipse cx="38.0" cy="43.1" rx="2.1" ry="2.1" fill="#16143f" opacity="0.88" filter="url(#hb)"/>
<ellipse cx="47.2" cy="40.4" rx="2.1" ry="2.4" fill="#16143f" opacity="0.88" filter="url(#hb)"/>
<ellipse cx="21.3" cy="1.0" rx="2.0" ry="1.8" fill="#16143f" opacity="0.88" filter="url(#hb)"/>
<ellipse cx="11.3" cy="54.4" rx="2.2" ry="2.6" fill="#16143f" opacity="0.88" filter="url(#hb)"/>
<ellipse cx="54.0" cy="3.6" rx="2.7" ry="2.7" fill="#16143f" opacity="0.88" filter="url(#hb)"/>
<ellipse cx="5.3" cy="65.3" rx="2.2" ry="2.2" fill="#16143f" opacity="0.88" filter="url(#hb)"/>
<ellipse cx="70.2" cy="17.6" rx="2.3" ry="2.6" fill="#16143f" opacity="0.88" filter="url(#hb)"/>
<ellipse cx="52.1" cy="33.8" rx="2.7" ry="2.5" fill="#16143f" opacity="0.88" filter="url(#hb)"/>
<ellipse cx="43.5" cy="8.3" rx="2.4" ry="2.2" fill="#16143f" opacity="0.88" filter="url(#hb)"/>
<ellipse cx="14.7" cy="3.8" rx="2.3" ry="1.9" fill="#16143f" opacity="0.88" filter="url(#hb)"/>
<ellipse cx="31.9" cy="48.2" rx="2.2" ry="2.0" fill="#16143f" opacity="0.88" filter="url(#hb)"/>
<ellipse cx="42.0" cy="30.2" rx="2.5" ry="2.3" fill="#16143f" opacity="0.88" filter="url(#hb)"/>
<ellipse cx="71.9" cy="68.7" rx="2.5" ry="2.0" fill="#16143f" opacity="0.88" filter="url(#hb)"/>
<ellipse cx="8.2" cy="64.4" rx="2.5" ry="2.4" fill="#16143f" opacity="0.88" filter="url(#hb)"/>
<ellipse cx="25.9" cy="19.6" rx="2.4" ry="2.3" fill="#16143f" opacity="0.88" filter="url(#hb)"/>
<ellipse cx="42.7" cy="45.6" rx="2.5" ry="2.0" fill="#16143f" opacity="0.88" filter="url(#hb)"/>
<ellipse cx="18.0" cy="70.6" rx="2.6" ry="2.6" fill="#16143f" opacity="0.88" filter="url(#hb)"/>
<ellipse cx="2.8" cy="4.4" rx="2.0" ry="2.2" fill="#16143f" opacity="0.88" filter="url(#hb)"/>
<ellipse cx="44.9" cy="7.4" rx="2.3" ry="1.9" fill="#16143f" opacity="0.88" filter="url(#hb)"/>
<ellipse cx="6.2" cy="48.8" rx="2.3" ry="2.4" fill="#16143f" opacity="0.88" filter="url(#hb)"/>
<ellipse cx="26.9" cy="34.5" rx="2.0" ry="2.1" fill="#16143f" opacity="0.88" filter="url(#hb)"/>
<ellipse cx="53.7" cy="60.5" rx="1.9" ry="1.9" fill="#16143f" opacity="0.88" filter="url(#hb)"/>
<ellipse cx="58.3" cy="45.0" rx="2.5" ry="2.0" fill="#16143f" opacity="0.88" filter="url(#hb)"/>
<ellipse cx="30.6" cy="18.6" rx="2.5" ry="2.1" fill="#16143f" opacity="0.88" filter="url(#hb)"/>
<ellipse cx="47.1" cy="71.3" rx="2.1" ry="2.3" fill="#16143f" opacity="0.88" filter="url(#hb)"/>
<circle cx="17.7" cy="6.0" r="2.6" fill="#c0f030" opacity="1.00" filter="url(#gb)"/>
<circle cx="61.1" cy="5.4" r="2.0" fill="#c0f030" opacity="1.00" filter="url(#gb)"/>
<circle cx="61.7" cy="22.7" r="2.6" fill="#c0f030" opacity="1.00" filter="url(#gb)"/>
<circle cx="12.9" cy="29.1" r="2.6" fill="#c0f030" opacity="1.00" filter="url(#gb)"/>
<circle cx="3.9" cy="34.9" r="2.4" fill="#c0f030" opacity="1.00" filter="url(#gb)"/>
<circle cx="48.2" cy="31.1" r="2.2" fill="#c0f030" opacity="0.70" filter="url(#gb)"/>
<circle cx="40.2" cy="39.7" r="2.6" fill="#c0f030" opacity="1.00" filter="url(#gb)"/>
<circle cx="7.1" cy="47.8" r="2.8" fill="#c0f030" opacity="1.00" filter="url(#gb)"/>
<circle cx="66.9" cy="47.8" r="2.4" fill="#c0f030" opacity="1.00" filter="url(#gb)"/>
<circle cx="11.3" cy="66.4" r="2.8" fill="#c0f030" opacity="1.00" filter="url(#gb)"/>
<circle cx="27.4" cy="65.4" r="2.0" fill="#c0f030" opacity="0.70" filter="url(#gb)"/>
<circle cx="28.0" cy="55.0" r="1.2" fill="#c0f030" opacity="0.60" filter="url(#gb)"/>
</svg>
<line x1="601.28" y1="362.90" x2="606.78" y2="362.90" stroke="#bbb" stroke-width="0.9"/>
<line x1="601.28" y1="436.05" x2="606.78" y2="436.05" stroke="#bbb" stroke-width="0.9"/>
<line x1="601.28" y1="509.20" x2="606.78" y2="509.20" stroke="#bbb" stroke-width="0.9"/>
<svg x="612.15" y="294.30" width="72.1" height="72.1" overflow="hidden">
<rect width="72.1" height="72.1" fill="#000"/>
<rect width="72.1" height="72.1" filter="url(#gt5)"/>
<ellipse cx="7.4" cy="7.6" rx="2.9" ry="2.3" transform="rotate(94 7.4 7.6)" fill="rgb(60,235,60)" filter="url(#gb)"/>
<ellipse cx="20.3" cy="9.2" rx="2.9" ry="2.3" transform="rotate(138 20.3 9.2)" fill="rgb(60,235,60)" filter="url(#gb)"/>
<ellipse cx="55.6" cy="6.0" rx="2.7" ry="2.1" transform="rotate(71 55.6 6.0)" fill="rgb(60,235,60)" filter="url(#gb)"/>
<ellipse cx="62.7" cy="12.4" rx="2.5" ry="1.9" transform="rotate(61 62.7 12.4)" fill="rgb(60,235,60)" filter="url(#gb)"/>
<ellipse cx="29.0" cy="20.5" rx="3.1" ry="2.5" transform="rotate(174 29.0 20.5)" fill="rgb(60,235,60)" filter="url(#gb)"/>
<ellipse cx="67.8" cy="30.1" rx="2.5" ry="1.9" transform="rotate(121 67.8 30.1)" fill="rgb(48,182,48)" filter="url(#gb)"/>
<ellipse cx="30.9" cy="42.0" rx="3.1" ry="2.5" transform="rotate(89 30.9 42.0)" fill="rgb(60,235,60)" filter="url(#gb)"/>
<ellipse cx="56.3" cy="44.6" rx="2.5" ry="1.9" transform="rotate(97 56.3 44.6)" fill="rgb(48,182,48)" filter="url(#gb)"/>
<ellipse cx="29.9" cy="61.6" rx="3.1" ry="2.5" transform="rotate(130 29.9 61.6)" fill="rgb(60,235,60)" filter="url(#gb)"/>
<ellipse cx="57.2" cy="69.6" rx="3.8" ry="3.0" transform="rotate(127 57.2 69.6)" fill="rgb(60,235,60)" filter="url(#gb)"/>
<ellipse cx="63.6" cy="63.8" rx="2.9" ry="2.3" transform="rotate(165 63.6 63.8)" fill="rgb(60,235,60)" filter="url(#gb)"/>
</svg>
<svg x="612.15" y="367.45" width="72.1" height="72.1" overflow="hidden">
<rect width="72.1" height="72.1" filter="url(#rt5)"/>
<ellipse cx="55.9" cy="5.5" rx="2.4" ry="2.9" fill="#050000" opacity="0.88" filter="url(#hb)"/>
<ellipse cx="5.9" cy="21.9" rx="2.9" ry="2.9" fill="#050000" opacity="0.88" filter="url(#hb)"/>
<ellipse cx="20.4" cy="10.3" rx="2.6" ry="2.9" fill="#050000" opacity="0.88" filter="url(#hb)"/>
<ellipse cx="26.4" cy="8.5" rx="2.9" ry="2.8" fill="#050000" opacity="0.88" filter="url(#hb)"/>
<ellipse cx="66.2" cy="67.8" rx="3.1" ry="2.6" fill="#050000" opacity="0.88" filter="url(#hb)"/>
<ellipse cx="57.9" cy="22.0" rx="2.5" ry="2.6" fill="#050000" opacity="0.88" filter="url(#hb)"/>
<ellipse cx="67.4" cy="64.5" rx="2.4" ry="2.6" fill="#050000" opacity="0.88" filter="url(#hb)"/>
<ellipse cx="26.4" cy="26.2" rx="2.6" ry="2.6" fill="#050000" opacity="0.88" filter="url(#hb)"/>
<ellipse cx="14.1" cy="40.7" rx="3.0" ry="2.7" fill="#050000" opacity="0.88" filter="url(#hb)"/>
<ellipse cx="60.3" cy="40.6" rx="2.4" ry="3.0" fill="#050000" opacity="0.88" filter="url(#hb)"/>
<ellipse cx="63.5" cy="20.3" rx="2.2" ry="2.7" fill="#050000" opacity="0.88" filter="url(#hb)"/>
<ellipse cx="39.2" cy="40.9" rx="3.2" ry="2.9" fill="#050000" opacity="0.88" filter="url(#hb)"/>
<ellipse cx="58.0" cy="4.6" rx="2.7" ry="3.0" fill="#050000" opacity="0.88" filter="url(#hb)"/>
<ellipse cx="6.1" cy="5.9" rx="2.9" ry="3.1" fill="#050000" opacity="0.88" filter="url(#hb)"/>
<ellipse cx="6.1" cy="45.7" rx="2.3" ry="2.9" fill="#050000" opacity="0.88" filter="url(#hb)"/>
<ellipse cx="46.8" cy="17.7" rx="2.4" ry="3.0" fill="#050000" opacity="0.88" filter="url(#hb)"/>
<circle cx="8" cy="8" r="18" fill="#000" opacity="0.35" filter="url(#big)"/>
</svg>
<svg x="612.15" y="440.60" width="72.1" height="72.1" overflow="hidden">
<rect width="72.1" height="72.1" filter="url(#mt5)"/>
<ellipse cx="55.9" cy="5.5" rx="2.4" ry="2.9" fill="#16143f" opacity="0.88" filter="url(#hb)"/>
<ellipse cx="5.9" cy="21.9" rx="2.9" ry="2.9" fill="#16143f" opacity="0.88" filter="url(#hb)"/>
<ellipse cx="20.4" cy="10.3" rx="2.6" ry="2.9" fill="#16143f" opacity="0.88" filter="url(#hb)"/>
<ellipse cx="26.4" cy="8.5" rx="2.9" ry="2.8" fill="#16143f" opacity="0.88" filter="url(#hb)"/>
<ellipse cx="66.2" cy="67.8" rx="3.1" ry="2.6" fill="#16143f" opacity="0.88" filter="url(#hb)"/>
<ellipse cx="57.9" cy="22.0" rx="2.5" ry="2.6" fill="#16143f" opacity="0.88" filter="url(#hb)"/>
<ellipse cx="67.4" cy="64.5" rx="2.4" ry="2.6" fill="#16143f" opacity="0.88" filter="url(#hb)"/>
<ellipse cx="26.4" cy="26.2" rx="2.6" ry="2.6" fill="#16143f" opacity="0.88" filter="url(#hb)"/>
<ellipse cx="14.1" cy="40.7" rx="3.0" ry="2.7" fill="#16143f" opacity="0.88" filter="url(#hb)"/>
<ellipse cx="60.3" cy="40.6" rx="2.4" ry="3.0" fill="#16143f" opacity="0.88" filter="url(#hb)"/>
<ellipse cx="63.5" cy="20.3" rx="2.2" ry="2.7" fill="#16143f" opacity="0.88" filter="url(#hb)"/>
<ellipse cx="39.2" cy="40.9" rx="3.2" ry="2.9" fill="#16143f" opacity="0.88" filter="url(#hb)"/>
<ellipse cx="58.0" cy="4.6" rx="2.7" ry="3.0" fill="#16143f" opacity="0.88" filter="url(#hb)"/>
<ellipse cx="6.1" cy="5.9" rx="2.9" ry="3.1" fill="#16143f" opacity="0.88" filter="url(#hb)"/>
<ellipse cx="6.1" cy="45.7" rx="2.3" ry="2.9" fill="#16143f" opacity="0.88" filter="url(#hb)"/>
<ellipse cx="46.8" cy="17.7" rx="2.4" ry="3.0" fill="#16143f" opacity="0.88" filter="url(#hb)"/>
<circle cx="8" cy="8" r="18" fill="#000" opacity="0.35" filter="url(#big)"/>
<circle cx="7.4" cy="7.6" r="2.6" fill="#b8f030" opacity="1.00" filter="url(#gb)"/>
<circle cx="20.3" cy="9.2" r="2.6" fill="#b8f030" opacity="1.00" filter="url(#gb)"/>
<circle cx="55.6" cy="6.0" r="2.4" fill="#b8f030" opacity="1.00" filter="url(#gb)"/>
<circle cx="62.7" cy="12.4" r="2.2" fill="#b8f030" opacity="1.00" filter="url(#gb)"/>
<circle cx="29.0" cy="20.5" r="2.8" fill="#b8f030" opacity="1.00" filter="url(#gb)"/>
<circle cx="67.8" cy="30.1" r="2.2" fill="#b8f030" opacity="0.70" filter="url(#gb)"/>
<circle cx="30.9" cy="42.0" r="2.8" fill="#b8f030" opacity="1.00" filter="url(#gb)"/>
<circle cx="56.3" cy="44.6" r="2.2" fill="#b8f030" opacity="0.70" filter="url(#gb)"/>
<circle cx="29.9" cy="61.6" r="2.8" fill="#b8f030" opacity="1.00" filter="url(#gb)"/>
<circle cx="57.2" cy="69.6" r="3.4" fill="#b8f030" opacity="1.00" filter="url(#gb)"/>
<circle cx="63.6" cy="63.8" r="2.6" fill="#b8f030" opacity="1.00" filter="url(#gb)"/>
</svg>
<line x1="674.25" y1="362.90" x2="679.75" y2="362.90" stroke="#bbb" stroke-width="0.9"/>
<line x1="674.25" y1="436.05" x2="679.75" y2="436.05" stroke="#bbb" stroke-width="0.9"/>
<line x1="674.25" y1="509.20" x2="679.75" y2="509.20" stroke="#bbb" stroke-width="0.9"/>
<text transform="translate(283.35 302.94) scale(1 1.0)" font-size="8.4" fill="#fff" text-anchor="middle" font-weight="bold">BA.2</text>
<text transform="translate(356.32 302.94) scale(1 1.0)" font-size="8.4" fill="#fff" text-anchor="middle" font-weight="bold">JN.1</text>
<text transform="translate(429.29 302.94) scale(1 1.0)" font-size="8.4" fill="#fff" text-anchor="middle" font-weight="bold">JN.1.7</text>
<text transform="translate(502.26 302.94) scale(1 1.0)" font-size="8.4" fill="#fff" text-anchor="middle" font-weight="bold">KP.2</text>
<text transform="translate(575.23 302.94) scale(1 1.0)" font-size="8.4" fill="#fff" text-anchor="middle" font-weight="bold">KP.3</text>
<text transform="translate(648.20 302.94) scale(1 1.0)" font-size="8.4" fill="#fff" text-anchor="middle" font-weight="bold">KP.3.1.1</text>
<text transform="translate(243.78 330.00) rotate(-90) scale(1 1.0)" font-size="8.5" fill="#2fd82f" text-anchor="middle" font-weight="bold">SARS-CoV-2 N</text>
<text transform="translate(243.78 404.70) rotate(-90) scale(1 1.0)" font-size="8.5" fill="#ff1c1c" text-anchor="middle" font-weight="bold">ACCTUB</text>
<text transform="translate(243.78 474.30) rotate(-90) scale(1 1.0)" font-size="8.5" fill="#ffffff" text-anchor="middle" font-weight="bold">Merged+DAPI</text>
<text transform="translate(82.20 550.58) scale(1 1.0)" font-size="8.5" fill="#000" text-anchor="middle" font-weight="bold">hNEC</text>
<line x1="31.70" y1="675.30" x2="136.80" y2="675.30" stroke="#444" stroke-width="0.55" stroke-dasharray="1.6,1.3"/>
<line x1="31.70" y1="624.85" x2="31.70" y2="725.75" stroke="#000" stroke-width="0.75"/>
<line x1="29.20" y1="625.20" x2="31.70" y2="625.20" stroke="#000" stroke-width="0.75"/>
<line x1="29.20" y1="725.40" x2="31.70" y2="725.40" stroke="#000" stroke-width="0.75"/>
<line x1="29.20" y1="675.30" x2="31.70" y2="675.30" stroke="#000" stroke-width="0.75"/>
<line x1="31.70" y1="725.40" x2="64.00" y2="725.40" stroke="#000" stroke-width="0.75"/>
<rect x="35.70" y="675.30" width="8.80" height="50.10" fill="#8f7c47" stroke="#7d6a38" stroke-width="0.75"/>
<circle cx="37.90" cy="675.30" r="1.80" fill="#fff" stroke="#7d6a38" stroke-width="0.8"/>
<circle cx="40.10" cy="675.30" r="1.80" fill="#fff" stroke="#7d6a38" stroke-width="0.8"/>
<circle cx="42.30" cy="675.30" r="1.80" fill="#fff" stroke="#7d6a38" stroke-width="0.8"/>
<line x1="40.10" y1="725.40" x2="40.10" y2="728.00" stroke="#000" stroke-width="0.75"/>
<text transform="translate(43.11 729.80) rotate(-90) scale(1 1.0)" font-size="8.6" fill="#000" text-anchor="end">BA.2</text>
<text transform="translate(43.09 605.30) rotate(-90) scale(1 1.0)" font-size="8.55" fill="#a8863f" text-anchor="end">1.0</text>
<rect x="49.60" y="642.73" width="8.80" height="82.67" fill="#ddd4b6" stroke="#a88e55" stroke-width="0.75"/>
<circle cx="51.80" cy="636.22" r="1.80" fill="#fff" stroke="#a88e55" stroke-width="0.8"/>
<circle cx="54.00" cy="640.23" r="1.80" fill="#fff" stroke="#a88e55" stroke-width="0.8"/>
<circle cx="56.20" cy="642.73" r="1.80" fill="#fff" stroke="#a88e55" stroke-width="0.8"/>
<circle cx="51.80" cy="645.24" r="1.80" fill="#fff" stroke="#a88e55" stroke-width="0.8"/>
<circle cx="54.00" cy="646.24" r="1.80" fill="#fff" stroke="#a88e55" stroke-width="0.8"/>
<circle cx="56.20" cy="644.24" r="1.80" fill="#fff" stroke="#a88e55" stroke-width="0.8"/>
<line x1="54.00" y1="725.40" x2="54.00" y2="728.00" stroke="#000" stroke-width="0.75"/>
<text transform="translate(57.01 729.80) rotate(-90) scale(1 1.0)" font-size="8.6" fill="#000" text-anchor="end">BA.2+S31del</text>
<text transform="translate(56.99 605.30) rotate(-90) scale(1 1.0)" font-size="8.55" fill="#a8863f" text-anchor="end">4.6×</text>
<text transform="translate(56.90 553.90) rotate(-90) scale(1 1.0)" font-size="8.3" fill="#000" text-anchor="end">****<tspan font-style="italic">P</tspan>&lt;0.0001</text>
<line x1="67.40" y1="624.85" x2="67.40" y2="725.75" stroke="#000" stroke-width="0.75"/>
<line x1="64.90" y1="625.20" x2="67.40" y2="625.20" stroke="#000" stroke-width="0.75"/>
<line x1="64.90" y1="725.40" x2="67.40" y2="725.40" stroke="#000" stroke-width="0.75"/>
<line x1="64.90" y1="675.30" x2="67.40" y2="675.30" stroke="#000" stroke-width="0.75"/>
<line x1="67.40" y1="725.40" x2="99.70" y2="725.40" stroke="#000" stroke-width="0.75"/>
<rect x="71.40" y="675.80" width="8.80" height="49.60" fill="#f28bbd" stroke="#d2528f" stroke-width="0.75"/>
<circle cx="73.60" cy="671.79" r="1.80" fill="#fff" stroke="#d2528f" stroke-width="0.8"/>
<circle cx="75.80" cy="674.30" r="1.80" fill="#fff" stroke="#d2528f" stroke-width="0.8"/>
<circle cx="78.00" cy="676.30" r="1.80" fill="#fff" stroke="#d2528f" stroke-width="0.8"/>
<circle cx="73.60" cy="677.80" r="1.80" fill="#fff" stroke="#d2528f" stroke-width="0.8"/>
<circle cx="75.80" cy="679.31" r="1.80" fill="#fff" stroke="#d2528f" stroke-width="0.8"/>
<line x1="75.80" y1="725.40" x2="75.80" y2="728.00" stroke="#000" stroke-width="0.75"/>
<text transform="translate(78.81 729.80) rotate(-90) scale(1 1.0)" font-size="8.6" fill="#000" text-anchor="end">XBB.1</text>
<text transform="translate(78.79 605.30) rotate(-90) scale(1 1.0)" font-size="8.55" fill="#f06aa5" text-anchor="end">1.0</text>
<rect x="85.30" y="632.21" width="8.80" height="93.19" fill="#fcc7df" stroke="#e06aa5" stroke-width="0.75"/>
<circle cx="87.50" cy="626.70" r="1.80" fill="#fff" stroke="#e06aa5" stroke-width="0.8"/>
<circle cx="89.70" cy="628.71" r="1.80" fill="#fff" stroke="#e06aa5" stroke-width="0.8"/>
<circle cx="91.90" cy="630.21" r="1.80" fill="#fff" stroke="#e06aa5" stroke-width="0.8"/>
<circle cx="87.50" cy="632.71" r="1.80" fill="#fff" stroke="#e06aa5" stroke-width="0.8"/>
<circle cx="89.70" cy="634.22" r="1.80" fill="#fff" stroke="#e06aa5" stroke-width="0.8"/>
<circle cx="91.90" cy="635.22" r="1.80" fill="#fff" stroke="#e06aa5" stroke-width="0.8"/>
<line x1="89.70" y1="725.40" x2="89.70" y2="728.00" stroke="#000" stroke-width="0.75"/>
<text transform="translate(92.71 729.80) rotate(-90) scale(1 1.0)" font-size="8.6" fill="#000" text-anchor="end">XBB.1+S31del</text>
<text transform="translate(92.69 605.30) rotate(-90) scale(1 1.0)" font-size="8.55" fill="#f06aa5" text-anchor="end">7.4×</text>
<text transform="translate(92.61 553.90) rotate(-90) scale(1 1.0)" font-size="8.3" fill="#000" text-anchor="end">****<tspan font-style="italic">P</tspan>&lt;0.0001</text>
<line x1="103.80" y1="624.85" x2="103.80" y2="725.75" stroke="#000" stroke-width="0.75"/>
<line x1="101.30" y1="625.20" x2="103.80" y2="625.20" stroke="#000" stroke-width="0.75"/>
<line x1="101.30" y1="725.40" x2="103.80" y2="725.40" stroke="#000" stroke-width="0.75"/>
<line x1="101.30" y1="675.30" x2="103.80" y2="675.30" stroke="#000" stroke-width="0.75"/>
<line x1="103.80" y1="725.40" x2="136.10" y2="725.40" stroke="#000" stroke-width="0.75"/>
<rect x="107.80" y="677.80" width="8.80" height="47.60" fill="#4f96f0" stroke="#2c6cae" stroke-width="0.75"/>
<circle cx="110.00" cy="669.29" r="1.80" fill="#fff" stroke="#2c6cae" stroke-width="0.8"/>
<circle cx="112.20" cy="669.29" r="1.80" fill="#fff" stroke="#2c6cae" stroke-width="0.8"/>
<circle cx="114.40" cy="677.80" r="1.80" fill="#fff" stroke="#2c6cae" stroke-width="0.8"/>
<circle cx="110.00" cy="680.31" r="1.80" fill="#fff" stroke="#2c6cae" stroke-width="0.8"/>
<circle cx="112.20" cy="681.31" r="1.80" fill="#fff" stroke="#2c6cae" stroke-width="0.8"/>
<line x1="112.20" y1="725.40" x2="112.20" y2="728.00" stroke="#000" stroke-width="0.75"/>
<text transform="translate(115.21 729.80) rotate(-90) scale(1 1.0)" font-size="8.6" fill="#000" text-anchor="end">JN.1</text>
<text transform="translate(115.19 605.30) rotate(-90) scale(1 1.0)" font-size="8.55" fill="#2ea6c6" text-anchor="end">1.0</text>
<rect x="121.70" y="645.24" width="8.80" height="80.16" fill="#afd0f8" stroke="#5a8fc8" stroke-width="0.75"/>
<circle cx="123.90" cy="643.24" r="1.80" fill="#fff" stroke="#5a8fc8" stroke-width="0.8"/>
<circle cx="126.10" cy="644.24" r="1.80" fill="#fff" stroke="#5a8fc8" stroke-width="0.8"/>
<circle cx="128.30" cy="645.24" r="1.80" fill="#fff" stroke="#5a8fc8" stroke-width="0.8"/>
<circle cx="123.90" cy="646.24" r="1.80" fill="#fff" stroke="#5a8fc8" stroke-width="0.8"/>
<line x1="126.10" y1="725.40" x2="126.10" y2="728.00" stroke="#000" stroke-width="0.75"/>
<text transform="translate(129.11 729.80) rotate(-90) scale(1 1.0)" font-size="8.6" fill="#000" text-anchor="end">JN.1+S31del</text>
<text transform="translate(129.09 605.30) rotate(-90) scale(1 1.0)" font-size="8.55" fill="#2ea6c6" text-anchor="end">4.0×</text>
<text transform="translate(129.00 553.90) rotate(-90) scale(1 1.0)" font-size="8.3" fill="#000" text-anchor="end">****<tspan font-style="italic">P</tspan>&lt;0.0001</text>
<text transform="translate(11.51 675.50) rotate(-90) scale(1 1.0)" font-size="8.6" fill="#000" text-anchor="middle">Pseudovirus entry</text>
<text transform="translate(19.71 675.50) rotate(-90) scale(1 1.0)" font-size="8.6" fill="#000" text-anchor="middle">(log<tspan font-size="5" dy="1.6">10</tspan><tspan dy="-1.6">, Fold of control)</tspan></text>
<text transform="translate(27.40 628.35) scale(1 1.0)" font-size="9.0" fill="#000" text-anchor="end">1</text>
<text transform="translate(27.40 678.45) scale(1 1.0)" font-size="9.0" fill="#000" text-anchor="end">0</text>
<text transform="translate(27.40 728.55) scale(1 1.0)" font-size="9.0" fill="#000" text-anchor="end">-1</text>
<text transform="translate(219.50 550.58) scale(1 1.0)" font-size="8.5" fill="#000" text-anchor="middle" font-weight="bold">293T</text>
<line x1="170.70" y1="675.30" x2="275.20" y2="675.30" stroke="#444" stroke-width="0.55" stroke-dasharray="1.6,1.3"/>
<line x1="170.70" y1="624.85" x2="170.70" y2="725.75" stroke="#000" stroke-width="0.75"/>
<line x1="168.20" y1="625.20" x2="170.70" y2="625.20" stroke="#000" stroke-width="0.75"/>
<line x1="168.20" y1="725.40" x2="170.70" y2="725.40" stroke="#000" stroke-width="0.75"/>
<line x1="168.20" y1="675.30" x2="170.70" y2="675.30" stroke="#000" stroke-width="0.75"/>
<line x1="170.70" y1="725.40" x2="203.00" y2="725.40" stroke="#000" stroke-width="0.75"/>
<line x1="179.10" y1="675.30" x2="179.10" y2="671.79" stroke="#7d6a38" stroke-width="0.75"/>
<line x1="177.30" y1="671.79" x2="180.90" y2="671.79" stroke="#7d6a38" stroke-width="0.75"/>
<rect x="174.70" y="675.30" width="8.80" height="50.10" fill="#8f7c47" stroke="#7d6a38" stroke-width="0.75"/>
<circle cx="176.90" cy="662.77" r="1.80" fill="#fff" stroke="#7d6a38" stroke-width="0.8"/>
<circle cx="179.10" cy="662.77" r="1.80" fill="#fff" stroke="#7d6a38" stroke-width="0.8"/>
<circle cx="181.30" cy="674.30" r="1.80" fill="#fff" stroke="#7d6a38" stroke-width="0.8"/>
<circle cx="176.90" cy="676.30" r="1.80" fill="#fff" stroke="#7d6a38" stroke-width="0.8"/>
<circle cx="179.10" cy="682.81" r="1.80" fill="#fff" stroke="#7d6a38" stroke-width="0.8"/>
<circle cx="181.30" cy="687.82" r="1.80" fill="#fff" stroke="#7d6a38" stroke-width="0.8"/>
<circle cx="176.90" cy="700.35" r="1.80" fill="#fff" stroke="#7d6a38" stroke-width="0.8"/>
<line x1="179.10" y1="725.40" x2="179.10" y2="728.00" stroke="#000" stroke-width="0.75"/>
<text transform="translate(182.11 729.80) rotate(-90) scale(1 1.0)" font-size="8.6" fill="#000" text-anchor="end">BA.2</text>
<text transform="translate(182.09 605.30) rotate(-90) scale(1 1.0)" font-size="8.55" fill="#a8863f" text-anchor="end">1.0</text>
<rect x="188.60" y="658.27" width="8.80" height="67.13" fill="#ddd4b6" stroke="#a88e55" stroke-width="0.75"/>
<circle cx="190.80" cy="648.75" r="1.80" fill="#fff" stroke="#a88e55" stroke-width="0.8"/>
<circle cx="193.00" cy="652.75" r="1.80" fill="#fff" stroke="#a88e55" stroke-width="0.8"/>
<circle cx="195.20" cy="657.76" r="1.80" fill="#fff" stroke="#a88e55" stroke-width="0.8"/>
<circle cx="190.80" cy="660.27" r="1.80" fill="#fff" stroke="#a88e55" stroke-width="0.8"/>
<circle cx="193.00" cy="662.77" r="1.80" fill="#fff" stroke="#a88e55" stroke-width="0.8"/>
<circle cx="195.20" cy="664.28" r="1.80" fill="#fff" stroke="#a88e55" stroke-width="0.8"/>
<line x1="193.00" y1="725.40" x2="193.00" y2="728.00" stroke="#000" stroke-width="0.75"/>
<text transform="translate(196.01 729.80) rotate(-90) scale(1 1.0)" font-size="8.6" fill="#000" text-anchor="end">BA.2+S31del</text>
<text transform="translate(195.99 605.30) rotate(-90) scale(1 1.0)" font-size="8.55" fill="#a8863f" text-anchor="end">2.2×</text>
<text transform="translate(195.91 553.90) rotate(-90) scale(1 1.0)" font-size="8.3" fill="#000" text-anchor="end">***<tspan font-style="italic">P</tspan>=0.0009</text>
<line x1="206.40" y1="624.85" x2="206.40" y2="725.75" stroke="#000" stroke-width="0.75"/>
<line x1="203.90" y1="625.20" x2="206.40" y2="625.20" stroke="#000" stroke-width="0.75"/>
<line x1="203.90" y1="725.40" x2="206.40" y2="725.40" stroke="#000" stroke-width="0.75"/>
<line x1="203.90" y1="675.30" x2="206.40" y2="675.30" stroke="#000" stroke-width="0.75"/>
<line x1="206.40" y1="725.40" x2="238.70" y2="725.40" stroke="#000" stroke-width="0.75"/>
<line x1="214.80" y1="673.80" x2="214.80" y2="669.29" stroke="#d2528f" stroke-width="0.75"/>
<line x1="213.00" y1="669.29" x2="216.60" y2="669.29" stroke="#d2528f" stroke-width="0.75"/>
<rect x="210.40" y="673.80" width="8.80" height="51.60" fill="#f28bbd" stroke="#d2528f" stroke-width="0.75"/>
<circle cx="212.60" cy="656.26" r="1.80" fill="#fff" stroke="#d2528f" stroke-width="0.8"/>
<circle cx="214.80" cy="656.26" r="1.80" fill="#fff" stroke="#d2528f" stroke-width="0.8"/>
<circle cx="217.00" cy="669.29" r="1.80" fill="#fff" stroke="#d2528f" stroke-width="0.8"/>
<circle cx="212.60" cy="687.82" r="1.80" fill="#fff" stroke="#d2528f" stroke-width="0.8"/>
<circle cx="214.80" cy="715.38" r="1.80" fill="#fff" stroke="#d2528f" stroke-width="0.8"/>
<circle cx="217.00" cy="717.88" r="1.80" fill="#fff" stroke="#d2528f" stroke-width="0.8"/>
<circle cx="212.60" cy="722.89" r="1.80" fill="#fff" stroke="#d2528f" stroke-width="0.8"/>
<line x1="214.80" y1="725.40" x2="214.80" y2="728.00" stroke="#000" stroke-width="0.75"/>
<text transform="translate(217.81 729.80) rotate(-90) scale(1 1.0)" font-size="8.6" fill="#000" text-anchor="end">XBB.1</text>
<text transform="translate(217.79 605.30) rotate(-90) scale(1 1.0)" font-size="8.55" fill="#f06aa5" text-anchor="end">1.0</text>
<rect x="224.30" y="640.23" width="8.80" height="85.17" fill="#fcc7df" stroke="#e06aa5" stroke-width="0.75"/>
<circle cx="226.50" cy="627.70" r="1.80" fill="#fff" stroke="#e06aa5" stroke-width="0.8"/>
<circle cx="228.70" cy="636.22" r="1.80" fill="#fff" stroke="#e06aa5" stroke-width="0.8"/>
<circle cx="230.90" cy="640.23" r="1.80" fill="#fff" stroke="#e06aa5" stroke-width="0.8"/>
<circle cx="226.50" cy="642.73" r="1.80" fill="#fff" stroke="#e06aa5" stroke-width="0.8"/>
<circle cx="228.70" cy="645.24" r="1.80" fill="#fff" stroke="#e06aa5" stroke-width="0.8"/>
<line x1="228.70" y1="725.40" x2="228.70" y2="728.00" stroke="#000" stroke-width="0.75"/>
<text transform="translate(231.71 729.80) rotate(-90) scale(1 1.0)" font-size="8.6" fill="#000" text-anchor="end">XBB.1+S31del</text>
<text transform="translate(231.69 605.30) rotate(-90) scale(1 1.0)" font-size="8.55" fill="#f06aa5" text-anchor="end">5.0×</text>
<text transform="translate(231.60 553.90) rotate(-90) scale(1 1.0)" font-size="8.3" fill="#000" text-anchor="end">****<tspan font-style="italic">P</tspan>&lt;0.0001</text>
<line x1="242.20" y1="624.85" x2="242.20" y2="725.75" stroke="#000" stroke-width="0.75"/>
<line x1="239.70" y1="625.20" x2="242.20" y2="625.20" stroke="#000" stroke-width="0.75"/>
<line x1="239.70" y1="725.40" x2="242.20" y2="725.40" stroke="#000" stroke-width="0.75"/>
<line x1="239.70" y1="675.30" x2="242.20" y2="675.30" stroke="#000" stroke-width="0.75"/>
<line x1="242.20" y1="725.40" x2="274.50" y2="725.40" stroke="#000" stroke-width="0.75"/>
<rect x="246.20" y="675.30" width="8.80" height="50.10" fill="#4f96f0" stroke="#2c6cae" stroke-width="0.75"/>
<circle cx="248.40" cy="667.78" r="1.80" fill="#fff" stroke="#2c6cae" stroke-width="0.8"/>
<circle cx="250.60" cy="667.78" r="1.80" fill="#fff" stroke="#2c6cae" stroke-width="0.8"/>
<circle cx="252.80" cy="672.79" r="1.80" fill="#fff" stroke="#2c6cae" stroke-width="0.8"/>
<circle cx="248.40" cy="677.80" r="1.80" fill="#fff" stroke="#2c6cae" stroke-width="0.8"/>
<circle cx="250.60" cy="682.81" r="1.80" fill="#fff" stroke="#2c6cae" stroke-width="0.8"/>
<circle cx="252.80" cy="697.84" r="1.80" fill="#fff" stroke="#2c6cae" stroke-width="0.8"/>
<line x1="250.60" y1="725.40" x2="250.60" y2="728.00" stroke="#000" stroke-width="0.75"/>
<text transform="translate(253.61 729.80) rotate(-90) scale(1 1.0)" font-size="8.6" fill="#000" text-anchor="end">JN.1</text>
<text transform="translate(253.59 605.30) rotate(-90) scale(1 1.0)" font-size="8.55" fill="#2ea6c6" text-anchor="end">1.0</text>
<rect x="260.10" y="655.26" width="8.80" height="70.14" fill="#afd0f8" stroke="#5a8fc8" stroke-width="0.75"/>
<circle cx="262.30" cy="651.75" r="1.80" fill="#fff" stroke="#5a8fc8" stroke-width="0.8"/>
<circle cx="264.50" cy="655.26" r="1.80" fill="#fff" stroke="#5a8fc8" stroke-width="0.8"/>
<circle cx="266.70" cy="657.76" r="1.80" fill="#fff" stroke="#5a8fc8" stroke-width="0.8"/>
<circle cx="262.30" cy="660.27" r="1.80" fill="#fff" stroke="#5a8fc8" stroke-width="0.8"/>
<line x1="264.50" y1="725.40" x2="264.50" y2="728.00" stroke="#000" stroke-width="0.75"/>
<text transform="translate(267.51 729.80) rotate(-90) scale(1 1.0)" font-size="8.6" fill="#000" text-anchor="end">JN.1+S31del</text>
<text transform="translate(267.49 605.30) rotate(-90) scale(1 1.0)" font-size="8.55" fill="#2ea6c6" text-anchor="end">2.4×</text>
<text transform="translate(267.40 553.90) rotate(-90) scale(1 1.0)" font-size="8.3" fill="#000" text-anchor="end">****<tspan font-style="italic">P</tspan>&lt;0.0001</text>
<text transform="translate(150.51 675.50) rotate(-90) scale(1 1.0)" font-size="8.6" fill="#000" text-anchor="middle">Pseudovirus entry</text>
<text transform="translate(158.71 675.50) rotate(-90) scale(1 1.0)" font-size="8.6" fill="#000" text-anchor="middle">(log<tspan font-size="5" dy="1.6">10</tspan><tspan dy="-1.6">, Fold of control)</tspan></text>
<text transform="translate(166.40 628.35) scale(1 1.0)" font-size="9.0" fill="#000" text-anchor="end">1</text>
<text transform="translate(166.40 678.45) scale(1 1.0)" font-size="9.0" fill="#000" text-anchor="end">0</text>
<text transform="translate(166.40 728.55) scale(1 1.0)" font-size="9.0" fill="#000" text-anchor="end">-1</text>
<text transform="translate(357.50 550.58) scale(1 1.0)" font-size="8.5" fill="#000" text-anchor="middle" font-weight="bold">Calu-3</text>
<line x1="306.60" y1="675.30" x2="412.50" y2="675.30" stroke="#444" stroke-width="0.55" stroke-dasharray="1.6,1.3"/>
<line x1="306.60" y1="624.85" x2="306.60" y2="725.75" stroke="#000" stroke-width="0.75"/>
<line x1="304.10" y1="625.20" x2="306.60" y2="625.20" stroke="#000" stroke-width="0.75"/>
<line x1="304.10" y1="725.40" x2="306.60" y2="725.40" stroke="#000" stroke-width="0.75"/>
<line x1="304.10" y1="675.30" x2="306.60" y2="675.30" stroke="#000" stroke-width="0.75"/>
<line x1="306.60" y1="725.40" x2="338.90" y2="725.40" stroke="#000" stroke-width="0.75"/>
<rect x="310.60" y="675.30" width="8.80" height="50.10" fill="#8f7c47" stroke="#7d6a38" stroke-width="0.75"/>
<circle cx="312.80" cy="662.77" r="1.80" fill="#fff" stroke="#7d6a38" stroke-width="0.8"/>
<circle cx="315.00" cy="670.29" r="1.80" fill="#fff" stroke="#7d6a38" stroke-width="0.8"/>
<circle cx="317.20" cy="672.79" r="1.80" fill="#fff" stroke="#7d6a38" stroke-width="0.8"/>
<circle cx="312.80" cy="675.30" r="1.80" fill="#fff" stroke="#7d6a38" stroke-width="0.8"/>
<circle cx="315.00" cy="677.80" r="1.80" fill="#fff" stroke="#7d6a38" stroke-width="0.8"/>
<circle cx="317.20" cy="681.31" r="1.80" fill="#fff" stroke="#7d6a38" stroke-width="0.8"/>
<circle cx="312.80" cy="684.32" r="1.80" fill="#fff" stroke="#7d6a38" stroke-width="0.8"/>
<circle cx="315.00" cy="689.33" r="1.80" fill="#fff" stroke="#7d6a38" stroke-width="0.8"/>
<line x1="315.00" y1="725.40" x2="315.00" y2="728.00" stroke="#000" stroke-width="0.75"/>
<text transform="translate(318.01 729.80) rotate(-90) scale(1 1.0)" font-size="8.6" fill="#000" text-anchor="end">BA.2</text>
<text transform="translate(317.99 605.30) rotate(-90) scale(1 1.0)" font-size="8.55" fill="#a8863f" text-anchor="end">1.0</text>
<rect x="324.50" y="644.24" width="8.80" height="81.16" fill="#ddd4b6" stroke="#a88e55" stroke-width="0.75"/>
<circle cx="326.70" cy="636.22" r="1.80" fill="#fff" stroke="#a88e55" stroke-width="0.8"/>
<circle cx="328.90" cy="642.73" r="1.80" fill="#fff" stroke="#a88e55" stroke-width="0.8"/>
<circle cx="331.10" cy="644.24" r="1.80" fill="#fff" stroke="#a88e55" stroke-width="0.8"/>
<circle cx="326.70" cy="646.24" r="1.80" fill="#fff" stroke="#a88e55" stroke-width="0.8"/>
<circle cx="328.90" cy="647.75" r="1.80" fill="#fff" stroke="#a88e55" stroke-width="0.8"/>
<line x1="328.90" y1="725.40" x2="328.90" y2="728.00" stroke="#000" stroke-width="0.75"/>
<text transform="translate(331.91 729.80) rotate(-90) scale(1 1.0)" font-size="8.6" fill="#000" text-anchor="end">BA.2+S31del</text>
<text transform="translate(331.89 605.30) rotate(-90) scale(1 1.0)" font-size="8.55" fill="#a8863f" text-anchor="end">4.1×</text>
<text transform="translate(331.81 553.90) rotate(-90) scale(1 1.0)" font-size="8.3" fill="#000" text-anchor="end">****<tspan font-style="italic">P</tspan>&lt;0.0001</text>
<line x1="342.30" y1="624.85" x2="342.30" y2="725.75" stroke="#000" stroke-width="0.75"/>
<line x1="339.80" y1="625.20" x2="342.30" y2="625.20" stroke="#000" stroke-width="0.75"/>
<line x1="339.80" y1="725.40" x2="342.30" y2="725.40" stroke="#000" stroke-width="0.75"/>
<line x1="339.80" y1="675.30" x2="342.30" y2="675.30" stroke="#000" stroke-width="0.75"/>
<line x1="342.30" y1="725.40" x2="374.60" y2="725.40" stroke="#000" stroke-width="0.75"/>
<line x1="350.70" y1="675.30" x2="350.70" y2="669.29" stroke="#d2528f" stroke-width="0.75"/>
<line x1="348.90" y1="669.29" x2="352.50" y2="669.29" stroke="#d2528f" stroke-width="0.75"/>
<rect x="346.30" y="675.30" width="8.80" height="50.10" fill="#f28bbd" stroke="#d2528f" stroke-width="0.75"/>
<circle cx="348.50" cy="653.26" r="1.80" fill="#fff" stroke="#d2528f" stroke-width="0.8"/>
<circle cx="350.70" cy="659.27" r="1.80" fill="#fff" stroke="#d2528f" stroke-width="0.8"/>
<circle cx="352.90" cy="675.30" r="1.80" fill="#fff" stroke="#d2528f" stroke-width="0.8"/>
<circle cx="348.50" cy="685.32" r="1.80" fill="#fff" stroke="#d2528f" stroke-width="0.8"/>
<circle cx="350.70" cy="691.33" r="1.80" fill="#fff" stroke="#d2528f" stroke-width="0.8"/>
<circle cx="352.90" cy="697.84" r="1.80" fill="#fff" stroke="#d2528f" stroke-width="0.8"/>
<circle cx="348.50" cy="701.35" r="1.80" fill="#fff" stroke="#d2528f" stroke-width="0.8"/>
<line x1="350.70" y1="725.40" x2="350.70" y2="728.00" stroke="#000" stroke-width="0.75"/>
<text transform="translate(353.71 729.80) rotate(-90) scale(1 1.0)" font-size="8.6" fill="#000" text-anchor="end">XBB.1</text>
<text transform="translate(353.69 605.30) rotate(-90) scale(1 1.0)" font-size="8.55" fill="#f06aa5" text-anchor="end">1.0</text>
<rect x="360.20" y="634.22" width="8.80" height="91.18" fill="#fcc7df" stroke="#e06aa5" stroke-width="0.75"/>
<circle cx="362.40" cy="627.70" r="1.80" fill="#fff" stroke="#e06aa5" stroke-width="0.8"/>
<circle cx="364.60" cy="630.21" r="1.80" fill="#fff" stroke="#e06aa5" stroke-width="0.8"/>
<circle cx="366.80" cy="632.71" r="1.80" fill="#fff" stroke="#e06aa5" stroke-width="0.8"/>
<circle cx="362.40" cy="635.22" r="1.80" fill="#fff" stroke="#e06aa5" stroke-width="0.8"/>
<circle cx="364.60" cy="637.72" r="1.80" fill="#fff" stroke="#e06aa5" stroke-width="0.8"/>
<circle cx="366.80" cy="640.23" r="1.80" fill="#fff" stroke="#e06aa5" stroke-width="0.8"/>
<line x1="364.60" y1="725.40" x2="364.60" y2="728.00" stroke="#000" stroke-width="0.75"/>
<text transform="translate(367.61 729.80) rotate(-90) scale(1 1.0)" font-size="8.6" fill="#000" text-anchor="end">XBB.1+S31del</text>
<text transform="translate(367.59 605.30) rotate(-90) scale(1 1.0)" font-size="8.55" fill="#f06aa5" text-anchor="end">6.4×</text>
<text transform="translate(367.50 553.90) rotate(-90) scale(1 1.0)" font-size="8.3" fill="#000" text-anchor="end">****<tspan font-style="italic">P</tspan>&lt;0.0001</text>
<line x1="379.50" y1="624.85" x2="379.50" y2="725.75" stroke="#000" stroke-width="0.75"/>
<line x1="377.00" y1="625.20" x2="379.50" y2="625.20" stroke="#000" stroke-width="0.75"/>
<line x1="377.00" y1="725.40" x2="379.50" y2="725.40" stroke="#000" stroke-width="0.75"/>
<line x1="377.00" y1="675.30" x2="379.50" y2="675.30" stroke="#000" stroke-width="0.75"/>
<line x1="379.50" y1="725.40" x2="411.80" y2="725.40" stroke="#000" stroke-width="0.75"/>
<rect x="383.50" y="675.30" width="8.80" height="50.10" fill="#4f96f0" stroke="#2c6cae" stroke-width="0.75"/>
<circle cx="385.70" cy="661.77" r="1.80" fill="#fff" stroke="#2c6cae" stroke-width="0.8"/>
<circle cx="387.90" cy="664.28" r="1.80" fill="#fff" stroke="#2c6cae" stroke-width="0.8"/>
<circle cx="390.10" cy="670.29" r="1.80" fill="#fff" stroke="#2c6cae" stroke-width="0.8"/>
<circle cx="385.70" cy="680.31" r="1.80" fill="#fff" stroke="#2c6cae" stroke-width="0.8"/>
<circle cx="387.90" cy="686.32" r="1.80" fill="#fff" stroke="#2c6cae" stroke-width="0.8"/>
<circle cx="390.10" cy="691.33" r="1.80" fill="#fff" stroke="#2c6cae" stroke-width="0.8"/>
<line x1="387.90" y1="725.40" x2="387.90" y2="728.00" stroke="#000" stroke-width="0.75"/>
<text transform="translate(390.91 729.80) rotate(-90) scale(1 1.0)" font-size="8.6" fill="#000" text-anchor="end">JN.1</text>
<text transform="translate(390.89 605.30) rotate(-90) scale(1 1.0)" font-size="8.55" fill="#2ea6c6" text-anchor="end">1.0</text>
<rect x="397.40" y="654.26" width="8.80" height="71.14" fill="#afd0f8" stroke="#5a8fc8" stroke-width="0.75"/>
<circle cx="399.60" cy="650.25" r="1.80" fill="#fff" stroke="#5a8fc8" stroke-width="0.8"/>
<circle cx="401.80" cy="652.75" r="1.80" fill="#fff" stroke="#5a8fc8" stroke-width="0.8"/>
<circle cx="404.00" cy="655.26" r="1.80" fill="#fff" stroke="#5a8fc8" stroke-width="0.8"/>
<circle cx="399.60" cy="657.76" r="1.80" fill="#fff" stroke="#5a8fc8" stroke-width="0.8"/>
<circle cx="401.80" cy="659.27" r="1.80" fill="#fff" stroke="#5a8fc8" stroke-width="0.8"/>
<line x1="401.80" y1="725.40" x2="401.80" y2="728.00" stroke="#000" stroke-width="0.75"/>
<text transform="translate(404.81 729.80) rotate(-90) scale(1 1.0)" font-size="8.6" fill="#000" text-anchor="end">JN.1+S31del</text>
<text transform="translate(404.79 605.30) rotate(-90) scale(1 1.0)" font-size="8.55" fill="#2ea6c6" text-anchor="end">2.5×</text>
<text transform="translate(404.70 553.90) rotate(-90) scale(1 1.0)" font-size="8.3" fill="#000" text-anchor="end">****<tspan font-style="italic">P</tspan>&lt;0.0001</text>
<text transform="translate(286.41 675.50) rotate(-90) scale(1 1.0)" font-size="8.6" fill="#000" text-anchor="middle">Pseudovirus entry</text>
<text transform="translate(294.61 675.50) rotate(-90) scale(1 1.0)" font-size="8.6" fill="#000" text-anchor="middle">(log<tspan font-size="5" dy="1.6">10</tspan><tspan dy="-1.6">, Fold of control)</tspan></text>
<text transform="translate(302.30 628.35) scale(1 1.0)" font-size="9.0" fill="#000" text-anchor="end">1</text>
<text transform="translate(302.30 678.45) scale(1 1.0)" font-size="9.0" fill="#000" text-anchor="end">0</text>
<text transform="translate(302.30 728.55) scale(1 1.0)" font-size="9.0" fill="#000" text-anchor="end">-1</text>
<text transform="translate(493.50 550.58) scale(1 1.0)" font-size="8.5" fill="#000" text-anchor="middle" font-weight="bold">Caco-2</text>
<line x1="446.00" y1="675.30" x2="551.70" y2="675.30" stroke="#444" stroke-width="0.55" stroke-dasharray="1.6,1.3"/>
<line x1="446.00" y1="624.85" x2="446.00" y2="725.75" stroke="#000" stroke-width="0.75"/>
<line x1="443.50" y1="625.20" x2="446.00" y2="625.20" stroke="#000" stroke-width="0.75"/>
<line x1="443.50" y1="725.40" x2="446.00" y2="725.40" stroke="#000" stroke-width="0.75"/>
<line x1="443.50" y1="675.30" x2="446.00" y2="675.30" stroke="#000" stroke-width="0.75"/>
<line x1="446.00" y1="725.40" x2="478.30" y2="725.40" stroke="#000" stroke-width="0.75"/>
<rect x="450.00" y="674.30" width="8.80" height="51.10" fill="#8f7c47" stroke="#7d6a38" stroke-width="0.75"/>
<circle cx="452.20" cy="664.28" r="1.80" fill="#fff" stroke="#7d6a38" stroke-width="0.8"/>
<circle cx="454.40" cy="671.29" r="1.80" fill="#fff" stroke="#7d6a38" stroke-width="0.8"/>
<circle cx="456.60" cy="672.79" r="1.80" fill="#fff" stroke="#7d6a38" stroke-width="0.8"/>
<circle cx="452.20" cy="674.30" r="1.80" fill="#fff" stroke="#7d6a38" stroke-width="0.8"/>
<circle cx="454.40" cy="677.80" r="1.80" fill="#fff" stroke="#7d6a38" stroke-width="0.8"/>
<circle cx="456.60" cy="686.32" r="1.80" fill="#fff" stroke="#7d6a38" stroke-width="0.8"/>
<circle cx="452.20" cy="691.83" r="1.80" fill="#fff" stroke="#7d6a38" stroke-width="0.8"/>
<line x1="454.40" y1="725.40" x2="454.40" y2="728.00" stroke="#000" stroke-width="0.75"/>
<text transform="translate(457.41 729.80) rotate(-90) scale(1 1.0)" font-size="8.6" fill="#000" text-anchor="end">BA.2</text>
<text transform="translate(457.39 605.30) rotate(-90) scale(1 1.0)" font-size="8.55" fill="#a8863f" text-anchor="end">1.0</text>
<rect x="463.90" y="663.28" width="8.80" height="62.12" fill="#ddd4b6" stroke="#a88e55" stroke-width="0.75"/>
<circle cx="466.10" cy="660.27" r="1.80" fill="#fff" stroke="#a88e55" stroke-width="0.8"/>
<circle cx="468.30" cy="660.27" r="1.80" fill="#fff" stroke="#a88e55" stroke-width="0.8"/>
<circle cx="470.50" cy="662.77" r="1.80" fill="#fff" stroke="#a88e55" stroke-width="0.8"/>
<circle cx="466.10" cy="665.28" r="1.80" fill="#fff" stroke="#a88e55" stroke-width="0.8"/>
<circle cx="468.30" cy="667.78" r="1.80" fill="#fff" stroke="#a88e55" stroke-width="0.8"/>
<circle cx="470.50" cy="670.29" r="1.80" fill="#fff" stroke="#a88e55" stroke-width="0.8"/>
<line x1="468.30" y1="725.40" x2="468.30" y2="728.00" stroke="#000" stroke-width="0.75"/>
<text transform="translate(471.31 729.80) rotate(-90) scale(1 1.0)" font-size="8.6" fill="#000" text-anchor="end">BA.2+S31del</text>
<text transform="translate(471.29 605.30) rotate(-90) scale(1 1.0)" font-size="8.55" fill="#a8863f" text-anchor="end">1.7×</text>
<text transform="translate(471.20 553.90) rotate(-90) scale(1 1.0)" font-size="8.3" fill="#000" text-anchor="end">**<tspan font-style="italic">P</tspan>=0.0012</text>
<line x1="482.30" y1="624.85" x2="482.30" y2="725.75" stroke="#000" stroke-width="0.75"/>
<line x1="479.80" y1="625.20" x2="482.30" y2="625.20" stroke="#000" stroke-width="0.75"/>
<line x1="479.80" y1="725.40" x2="482.30" y2="725.40" stroke="#000" stroke-width="0.75"/>
<line x1="479.80" y1="675.30" x2="482.30" y2="675.30" stroke="#000" stroke-width="0.75"/>
<line x1="482.30" y1="725.40" x2="514.60" y2="725.40" stroke="#000" stroke-width="0.75"/>
<line x1="490.70" y1="673.80" x2="490.70" y2="671.29" stroke="#d2528f" stroke-width="0.75"/>
<line x1="488.90" y1="671.29" x2="492.50" y2="671.29" stroke="#d2528f" stroke-width="0.75"/>
<rect x="486.30" y="673.80" width="8.80" height="51.60" fill="#f28bbd" stroke="#d2528f" stroke-width="0.75"/>
<circle cx="488.50" cy="659.77" r="1.80" fill="#fff" stroke="#d2528f" stroke-width="0.8"/>
<circle cx="490.70" cy="669.29" r="1.80" fill="#fff" stroke="#d2528f" stroke-width="0.8"/>
<circle cx="492.90" cy="670.29" r="1.80" fill="#fff" stroke="#d2528f" stroke-width="0.8"/>
<circle cx="488.50" cy="673.80" r="1.80" fill="#fff" stroke="#d2528f" stroke-width="0.8"/>
<circle cx="490.70" cy="685.32" r="1.80" fill="#fff" stroke="#d2528f" stroke-width="0.8"/>
<circle cx="492.90" cy="694.34" r="1.80" fill="#fff" stroke="#d2528f" stroke-width="0.8"/>
<circle cx="488.50" cy="696.34" r="1.80" fill="#fff" stroke="#d2528f" stroke-width="0.8"/>
<line x1="490.70" y1="725.40" x2="490.70" y2="728.00" stroke="#000" stroke-width="0.75"/>
<text transform="translate(493.71 729.80) rotate(-90) scale(1 1.0)" font-size="8.6" fill="#000" text-anchor="end">XBB.1</text>
<text transform="translate(493.69 605.30) rotate(-90) scale(1 1.0)" font-size="8.55" fill="#f06aa5" text-anchor="end">1.0</text>
<line x1="504.60" y1="668.79" x2="504.60" y2="665.28" stroke="#e06aa5" stroke-width="0.75"/>
<line x1="502.80" y1="665.28" x2="506.40" y2="665.28" stroke="#e06aa5" stroke-width="0.75"/>
<rect x="500.20" y="668.79" width="8.80" height="56.61" fill="#fcc7df" stroke="#e06aa5" stroke-width="0.75"/>
<circle cx="502.40" cy="654.26" r="1.80" fill="#fff" stroke="#e06aa5" stroke-width="0.8"/>
<circle cx="504.60" cy="660.27" r="1.80" fill="#fff" stroke="#e06aa5" stroke-width="0.8"/>
<circle cx="506.80" cy="667.78" r="1.80" fill="#fff" stroke="#e06aa5" stroke-width="0.8"/>
<circle cx="502.40" cy="669.29" r="1.80" fill="#fff" stroke="#e06aa5" stroke-width="0.8"/>
<circle cx="504.60" cy="675.30" r="1.80" fill="#fff" stroke="#e06aa5" stroke-width="0.8"/>
<circle cx="506.80" cy="680.31" r="1.80" fill="#fff" stroke="#e06aa5" stroke-width="0.8"/>
<circle cx="502.40" cy="690.33" r="1.80" fill="#fff" stroke="#e06aa5" stroke-width="0.8"/>
<line x1="504.60" y1="725.40" x2="504.60" y2="728.00" stroke="#000" stroke-width="0.75"/>
<text transform="translate(507.61 729.80) rotate(-90) scale(1 1.0)" font-size="8.6" fill="#000" text-anchor="end">XBB.1+S31del</text>
<text transform="translate(507.59 605.30) rotate(-90) scale(1 1.0)" font-size="8.55" fill="#f06aa5" text-anchor="end">1.3×</text>
<text transform="translate(507.50 553.90) rotate(-90) scale(1 1.0)" font-size="8.3" fill="#000" text-anchor="end">ns</text>
<line x1="518.70" y1="624.85" x2="518.70" y2="725.75" stroke="#000" stroke-width="0.75"/>
<line x1="516.20" y1="625.20" x2="518.70" y2="625.20" stroke="#000" stroke-width="0.75"/>
<line x1="516.20" y1="725.40" x2="518.70" y2="725.40" stroke="#000" stroke-width="0.75"/>
<line x1="516.20" y1="675.30" x2="518.70" y2="675.30" stroke="#000" stroke-width="0.75"/>
<line x1="518.70" y1="725.40" x2="551.00" y2="725.40" stroke="#000" stroke-width="0.75"/>
<rect x="522.70" y="680.31" width="8.80" height="45.09" fill="#4f96f0" stroke="#2c6cae" stroke-width="0.75"/>
<circle cx="524.90" cy="665.28" r="1.80" fill="#fff" stroke="#2c6cae" stroke-width="0.8"/>
<circle cx="527.10" cy="672.79" r="1.80" fill="#fff" stroke="#2c6cae" stroke-width="0.8"/>
<circle cx="529.30" cy="675.30" r="1.80" fill="#fff" stroke="#2c6cae" stroke-width="0.8"/>
<circle cx="524.90" cy="677.80" r="1.80" fill="#fff" stroke="#2c6cae" stroke-width="0.8"/>
<circle cx="527.10" cy="679.31" r="1.80" fill="#fff" stroke="#2c6cae" stroke-width="0.8"/>
<circle cx="529.30" cy="681.31" r="1.80" fill="#fff" stroke="#2c6cae" stroke-width="0.8"/>
<line x1="527.10" y1="725.40" x2="527.10" y2="728.00" stroke="#000" stroke-width="0.75"/>
<text transform="translate(530.11 729.80) rotate(-90) scale(1 1.0)" font-size="8.6" fill="#000" text-anchor="end">JN.1</text>
<text transform="translate(530.09 605.30) rotate(-90) scale(1 1.0)" font-size="8.55" fill="#2ea6c6" text-anchor="end">1.0</text>
<rect x="536.60" y="662.77" width="8.80" height="62.62" fill="#afd0f8" stroke="#5a8fc8" stroke-width="0.75"/>
<circle cx="538.80" cy="655.26" r="1.80" fill="#fff" stroke="#5a8fc8" stroke-width="0.8"/>
<circle cx="541.00" cy="660.27" r="1.80" fill="#fff" stroke="#5a8fc8" stroke-width="0.8"/>
<circle cx="543.20" cy="661.27" r="1.80" fill="#fff" stroke="#5a8fc8" stroke-width="0.8"/>
<circle cx="538.80" cy="664.28" r="1.80" fill="#fff" stroke="#5a8fc8" stroke-width="0.8"/>
<circle cx="541.00" cy="665.28" r="1.80" fill="#fff" stroke="#5a8fc8" stroke-width="0.8"/>
<line x1="541.00" y1="725.40" x2="541.00" y2="728.00" stroke="#000" stroke-width="0.75"/>
<text transform="translate(544.01 729.80) rotate(-90) scale(1 1.0)" font-size="8.6" fill="#000" text-anchor="end">JN.1+S31del</text>
<text transform="translate(543.99 605.30) rotate(-90) scale(1 1.0)" font-size="8.55" fill="#2ea6c6" text-anchor="end">1.8×</text>
<text transform="translate(543.90 553.90) rotate(-90) scale(1 1.0)" font-size="8.3" fill="#000" text-anchor="end">****<tspan font-style="italic">P</tspan>&lt;0.0001</text>
<text transform="translate(425.81 675.50) rotate(-90) scale(1 1.0)" font-size="8.6" fill="#000" text-anchor="middle">Pseudovirus entry</text>
<text transform="translate(434.01 675.50) rotate(-90) scale(1 1.0)" font-size="8.6" fill="#000" text-anchor="middle">(log<tspan font-size="5" dy="1.6">10</tspan><tspan dy="-1.6">, Fold of control)</tspan></text>
<text transform="translate(441.70 628.35) scale(1 1.0)" font-size="9.0" fill="#000" text-anchor="end">1</text>
<text transform="translate(441.70 678.45) scale(1 1.0)" font-size="9.0" fill="#000" text-anchor="end">0</text>
<text transform="translate(441.70 728.55) scale(1 1.0)" font-size="9.0" fill="#000" text-anchor="end">-1</text>
<text transform="translate(630.50 550.58) scale(1 1.0)" font-size="8.5" fill="#000" text-anchor="middle" font-weight="bold">VeroE6-TMPRSS2</text>
<line x1="579.70" y1="675.30" x2="685.90" y2="675.30" stroke="#444" stroke-width="0.55" stroke-dasharray="1.6,1.3"/>
<line x1="579.70" y1="624.85" x2="579.70" y2="725.75" stroke="#000" stroke-width="0.75"/>
<line x1="577.20" y1="625.20" x2="579.70" y2="625.20" stroke="#000" stroke-width="0.75"/>
<line x1="577.20" y1="725.40" x2="579.70" y2="725.40" stroke="#000" stroke-width="0.75"/>
<line x1="577.20" y1="675.30" x2="579.70" y2="675.30" stroke="#000" stroke-width="0.75"/>
<line x1="579.70" y1="725.40" x2="612.00" y2="725.40" stroke="#000" stroke-width="0.75"/>
<rect x="583.70" y="676.80" width="8.80" height="48.60" fill="#8f7c47" stroke="#7d6a38" stroke-width="0.75"/>
<circle cx="585.90" cy="672.79" r="1.80" fill="#fff" stroke="#7d6a38" stroke-width="0.8"/>
<circle cx="588.10" cy="674.30" r="1.80" fill="#fff" stroke="#7d6a38" stroke-width="0.8"/>
<circle cx="590.30" cy="675.30" r="1.80" fill="#fff" stroke="#7d6a38" stroke-width="0.8"/>
<circle cx="585.90" cy="676.30" r="1.80" fill="#fff" stroke="#7d6a38" stroke-width="0.8"/>
<circle cx="588.10" cy="677.30" r="1.80" fill="#fff" stroke="#7d6a38" stroke-width="0.8"/>
<line x1="588.10" y1="725.40" x2="588.10" y2="728.00" stroke="#000" stroke-width="0.75"/>
<text transform="translate(591.11 729.80) rotate(-90) scale(1 1.0)" font-size="8.6" fill="#000" text-anchor="end">BA.2</text>
<text transform="translate(591.09 605.30) rotate(-90) scale(1 1.0)" font-size="8.55" fill="#a8863f" text-anchor="end">1.0</text>
<rect x="597.60" y="641.73" width="8.80" height="83.67" fill="#ddd4b6" stroke="#a88e55" stroke-width="0.75"/>
<circle cx="599.80" cy="637.72" r="1.80" fill="#fff" stroke="#a88e55" stroke-width="0.8"/>
<circle cx="602.00" cy="639.23" r="1.80" fill="#fff" stroke="#a88e55" stroke-width="0.8"/>
<circle cx="604.20" cy="640.23" r="1.80" fill="#fff" stroke="#a88e55" stroke-width="0.8"/>
<circle cx="599.80" cy="641.23" r="1.80" fill="#fff" stroke="#a88e55" stroke-width="0.8"/>
<circle cx="602.00" cy="642.23" r="1.80" fill="#fff" stroke="#a88e55" stroke-width="0.8"/>
<line x1="602.00" y1="725.40" x2="602.00" y2="728.00" stroke="#000" stroke-width="0.75"/>
<text transform="translate(605.01 729.80) rotate(-90) scale(1 1.0)" font-size="8.6" fill="#000" text-anchor="end">BA.2+S31del</text>
<text transform="translate(604.99 605.30) rotate(-90) scale(1 1.0)" font-size="8.55" fill="#a8863f" text-anchor="end">4.8×</text>
<text transform="translate(604.90 553.90) rotate(-90) scale(1 1.0)" font-size="8.3" fill="#000" text-anchor="end">****<tspan font-style="italic">P</tspan>&lt;0.0001</text>
<line x1="616.50" y1="624.85" x2="616.50" y2="725.75" stroke="#000" stroke-width="0.75"/>
<line x1="614.00" y1="625.20" x2="616.50" y2="625.20" stroke="#000" stroke-width="0.75"/>
<line x1="614.00" y1="725.40" x2="616.50" y2="725.40" stroke="#000" stroke-width="0.75"/>
<line x1="614.00" y1="675.30" x2="616.50" y2="675.30" stroke="#000" stroke-width="0.75"/>
<line x1="616.50" y1="725.40" x2="648.80" y2="725.40" stroke="#000" stroke-width="0.75"/>
<rect x="620.50" y="676.30" width="8.80" height="49.10" fill="#f28bbd" stroke="#d2528f" stroke-width="0.75"/>
<circle cx="622.70" cy="672.79" r="1.80" fill="#fff" stroke="#d2528f" stroke-width="0.8"/>
<circle cx="624.90" cy="673.80" r="1.80" fill="#fff" stroke="#d2528f" stroke-width="0.8"/>
<circle cx="627.10" cy="675.30" r="1.80" fill="#fff" stroke="#d2528f" stroke-width="0.8"/>
<circle cx="622.70" cy="676.30" r="1.80" fill="#fff" stroke="#d2528f" stroke-width="0.8"/>
<circle cx="624.90" cy="677.80" r="1.80" fill="#fff" stroke="#d2528f" stroke-width="0.8"/>
<line x1="624.90" y1="725.40" x2="624.90" y2="728.00" stroke="#000" stroke-width="0.75"/>
<text transform="translate(627.91 729.80) rotate(-90) scale(1 1.0)" font-size="8.6" fill="#000" text-anchor="end">XBB.1</text>
<text transform="translate(627.89 605.30) rotate(-90) scale(1 1.0)" font-size="8.55" fill="#f06aa5" text-anchor="end">1.0</text>
<rect x="634.40" y="653.76" width="8.80" height="71.64" fill="#fcc7df" stroke="#e06aa5" stroke-width="0.75"/>
<circle cx="636.60" cy="650.25" r="1.80" fill="#fff" stroke="#e06aa5" stroke-width="0.8"/>
<circle cx="638.80" cy="651.75" r="1.80" fill="#fff" stroke="#e06aa5" stroke-width="0.8"/>
<circle cx="641.00" cy="652.75" r="1.80" fill="#fff" stroke="#e06aa5" stroke-width="0.8"/>
<circle cx="636.60" cy="654.26" r="1.80" fill="#fff" stroke="#e06aa5" stroke-width="0.8"/>
<circle cx="638.80" cy="655.26" r="1.80" fill="#fff" stroke="#e06aa5" stroke-width="0.8"/>
<line x1="638.80" y1="725.40" x2="638.80" y2="728.00" stroke="#000" stroke-width="0.75"/>
<text transform="translate(641.81 729.80) rotate(-90) scale(1 1.0)" font-size="8.6" fill="#000" text-anchor="end">XBB.1+S31del</text>
<text transform="translate(641.79 605.30) rotate(-90) scale(1 1.0)" font-size="8.55" fill="#f06aa5" text-anchor="end">2.8×</text>
<text transform="translate(641.70 553.90) rotate(-90) scale(1 1.0)" font-size="8.3" fill="#000" text-anchor="end">****<tspan font-style="italic">P</tspan>&lt;0.0001</text>
<line x1="652.90" y1="624.85" x2="652.90" y2="725.75" stroke="#000" stroke-width="0.75"/>
<line x1="650.40" y1="625.20" x2="652.90" y2="625.20" stroke="#000" stroke-width="0.75"/>
<line x1="650.40" y1="725.40" x2="652.90" y2="725.40" stroke="#000" stroke-width="0.75"/>
<line x1="650.40" y1="675.30" x2="652.90" y2="675.30" stroke="#000" stroke-width="0.75"/>
<line x1="652.90" y1="725.40" x2="685.20" y2="725.40" stroke="#000" stroke-width="0.75"/>
<rect x="656.90" y="675.30" width="8.80" height="50.10" fill="#4f96f0" stroke="#2c6cae" stroke-width="0.75"/>
<circle cx="659.10" cy="671.29" r="1.80" fill="#fff" stroke="#2c6cae" stroke-width="0.8"/>
<circle cx="661.30" cy="672.79" r="1.80" fill="#fff" stroke="#2c6cae" stroke-width="0.8"/>
<circle cx="663.50" cy="674.30" r="1.80" fill="#fff" stroke="#2c6cae" stroke-width="0.8"/>
<circle cx="659.10" cy="676.30" r="1.80" fill="#fff" stroke="#2c6cae" stroke-width="0.8"/>
<circle cx="661.30" cy="678.31" r="1.80" fill="#fff" stroke="#2c6cae" stroke-width="0.8"/>
<circle cx="663.50" cy="679.31" r="1.80" fill="#fff" stroke="#2c6cae" stroke-width="0.8"/>
<line x1="661.30" y1="725.40" x2="661.30" y2="728.00" stroke="#000" stroke-width="0.75"/>
<text transform="translate(664.31 729.80) rotate(-90) scale(1 1.0)" font-size="8.6" fill="#000" text-anchor="end">JN.1</text>
<text transform="translate(664.29 605.30) rotate(-90) scale(1 1.0)" font-size="8.55" fill="#2ea6c6" text-anchor="end">1.0</text>
<rect x="670.80" y="672.79" width="8.80" height="52.61" fill="#afd0f8" stroke="#5a8fc8" stroke-width="0.75"/>
<circle cx="673.00" cy="669.29" r="1.80" fill="#fff" stroke="#5a8fc8" stroke-width="0.8"/>
<circle cx="675.20" cy="670.29" r="1.80" fill="#fff" stroke="#5a8fc8" stroke-width="0.8"/>
<circle cx="677.40" cy="671.29" r="1.80" fill="#fff" stroke="#5a8fc8" stroke-width="0.8"/>
<circle cx="673.00" cy="672.79" r="1.80" fill="#fff" stroke="#5a8fc8" stroke-width="0.8"/>
<circle cx="675.20" cy="673.80" r="1.80" fill="#fff" stroke="#5a8fc8" stroke-width="0.8"/>
<line x1="675.20" y1="725.40" x2="675.20" y2="728.00" stroke="#000" stroke-width="0.75"/>
<text transform="translate(678.21 729.80) rotate(-90) scale(1 1.0)" font-size="8.6" fill="#000" text-anchor="end">JN.1+S31del</text>
<text transform="translate(678.19 605.30) rotate(-90) scale(1 1.0)" font-size="8.55" fill="#2ea6c6" text-anchor="end">1.2×</text>
<text transform="translate(678.11 553.90) rotate(-90) scale(1 1.0)" font-size="8.3" fill="#000" text-anchor="end">**<tspan font-style="italic">P</tspan>=0.0072</text>
<text transform="translate(559.51 675.50) rotate(-90) scale(1 1.0)" font-size="8.6" fill="#000" text-anchor="middle">Pseudovirus entry</text>
<text transform="translate(567.71 675.50) rotate(-90) scale(1 1.0)" font-size="8.6" fill="#000" text-anchor="middle">(log<tspan font-size="5" dy="1.6">10</tspan><tspan dy="-1.6">, Fold of control)</tspan></text>
<text transform="translate(575.40 628.35) scale(1 1.0)" font-size="9.0" fill="#000" text-anchor="end">1</text>
<text transform="translate(575.40 678.45) scale(1 1.0)" font-size="9.0" fill="#000" text-anchor="end">0</text>
<text transform="translate(575.40 728.55) scale(1 1.0)" font-size="9.0" fill="#000" text-anchor="end">-1</text>
</svg></body></html>
